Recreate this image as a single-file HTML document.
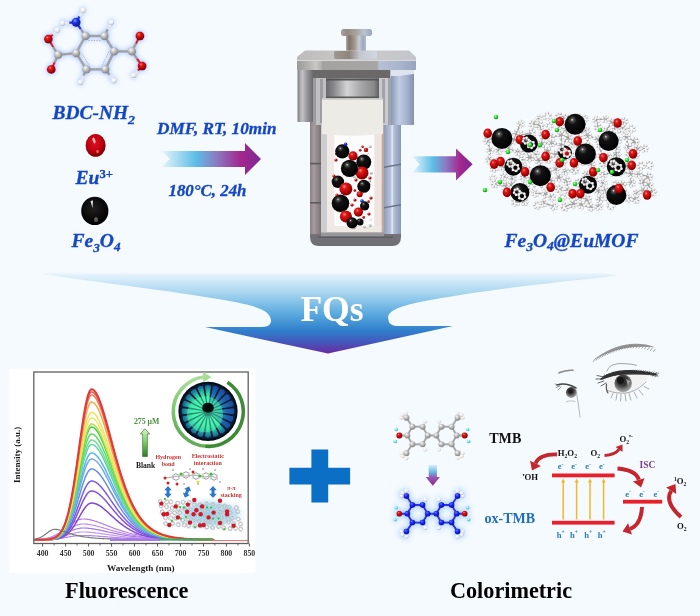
<!DOCTYPE html>
<html><head><meta charset="utf-8"><style>
html,body{margin:0;padding:0;background:#f5faff;}
body{width:700px;height:616px;overflow:hidden;font-family:"Liberation Serif",serif;}
svg{display:block;filter:blur(0.35px);}
</style></head><body>
<svg width="700" height="616" viewBox="0 0 700 616">
<defs>
<filter id="fGlow" x="-30%" y="-30%" width="160%" height="160%">
 <feGaussianBlur in="SourceAlpha" stdDeviation="2.6"/>
 <feColorMatrix type="matrix" values="0 0 0 0 0.52  0 0 0 0 0.66  0 0 0 0 0.98  0 0 0 1.9 0"/>
 <feMerge><feMergeNode/><feMergeNode in="SourceGraphic"/></feMerge>
</filter>
<filter id="fGlowB" x="-30%" y="-30%" width="160%" height="160%">
 <feGaussianBlur in="SourceAlpha" stdDeviation="3"/>
 <feColorMatrix type="matrix" values="0 0 0 0 0.5  0 0 0 0 0.7  0 0 0 0 0.98  0 0 0 2.2 0"/>
 <feMerge><feMergeNode/><feMergeNode in="SourceGraphic"/></feMerge>
</filter>
<radialGradient id="gRed" cx="0.38" cy="0.32" r="0.7">
 <stop offset="0" stop-color="#ff8a8a"/><stop offset="0.25" stop-color="#e01818"/><stop offset="0.8" stop-color="#a00000"/><stop offset="1" stop-color="#700000"/>
</radialGradient>
<radialGradient id="gRedB" cx="0.45" cy="0.4" r="0.6"><stop offset="0" stop-color="#e01020"/><stop offset="0.6" stop-color="#c00010"/><stop offset="1" stop-color="#780000"/></radialGradient>
<radialGradient id="gBlkB" cx="0.45" cy="0.4" r="0.6"><stop offset="0" stop-color="#202020"/><stop offset="0.7" stop-color="#080808"/><stop offset="1" stop-color="#000"/></radialGradient>
<radialGradient id="gBlk" cx="0.4" cy="0.36" r="0.7" fx="0.36" fy="0.28">
 <stop offset="0" stop-color="#e0e0e0"/><stop offset="0.1" stop-color="#505050"/><stop offset="0.3" stop-color="#111"/><stop offset="1" stop-color="#000"/>
</radialGradient>
<radialGradient id="gGray" cx="0.38" cy="0.32" r="0.7">
 <stop offset="0" stop-color="#fafafa"/><stop offset="0.5" stop-color="#b8b8b8"/><stop offset="1" stop-color="#808080"/>
</radialGradient>
<radialGradient id="gWhite" cx="0.38" cy="0.32" r="0.7">
 <stop offset="0" stop-color="#ffffff"/><stop offset="0.7" stop-color="#e8e8e8"/><stop offset="1" stop-color="#b0b0b0"/>
</radialGradient>
<radialGradient id="gN" cx="0.38" cy="0.32" r="0.7">
 <stop offset="0" stop-color="#8090ff"/><stop offset="0.4" stop-color="#1630e0"/><stop offset="1" stop-color="#0a1690"/>
</radialGradient>
<radialGradient id="gBlueAt" cx="0.38" cy="0.32" r="0.7">
 <stop offset="0" stop-color="#6070ff"/><stop offset="0.5" stop-color="#1020f0"/><stop offset="1" stop-color="#0810a0"/>
</radialGradient>
<radialGradient id="gGreen" cx="0.38" cy="0.32" r="0.7">
 <stop offset="0" stop-color="#a0ffa0"/><stop offset="0.6" stop-color="#20d020"/><stop offset="1" stop-color="#108010"/>
</radialGradient>
<radialGradient id="gCyan" cx="0.38" cy="0.32" r="0.7">
 <stop offset="0" stop-color="#e0ffff"/><stop offset="0.6" stop-color="#60d8e8"/><stop offset="1" stop-color="#30a0b8"/>
</radialGradient>
<linearGradient id="gArrow" x1="0" y1="0" x2="1" y2="0">
 <stop offset="0" stop-color="#eaf6fc"/><stop offset="0.35" stop-color="#5bbde6"/><stop offset="0.55" stop-color="#8a7cc4"/><stop offset="0.8" stop-color="#a4268e"/><stop offset="1" stop-color="#7a2a94"/>
</linearGradient>
<linearGradient id="gFQ" x1="0" y1="0" x2="0" y2="1">
 <stop offset="0" stop-color="#f5faff"/><stop offset="0.04" stop-color="#e2f1fa"/><stop offset="0.25" stop-color="#a9d6f0"/><stop offset="0.5" stop-color="#5eacdf"/><stop offset="0.72" stop-color="#2f7fcc"/><stop offset="0.86" stop-color="#4458bb"/><stop offset="1" stop-color="#6a2aa2"/>
</linearGradient>
<linearGradient id="gDown" x1="0" y1="0" x2="0" y2="1">
 <stop offset="0" stop-color="#d8eefa"/><stop offset="0.35" stop-color="#66b8e4"/><stop offset="0.6" stop-color="#9a56b0"/><stop offset="1" stop-color="#8a2a98"/>
</linearGradient>
<linearGradient id="gGreenArrow" x1="0" y1="0" x2="0" y2="1">
 <stop offset="0" stop-color="#d8f5c8"/><stop offset="0.5" stop-color="#7acc60"/><stop offset="1" stop-color="#2d7a2a"/>
</linearGradient>
<radialGradient id="gGlow" cx="0.5" cy="0.5" r="0.5">
 <stop offset="0" stop-color="#7cc8f0" stop-opacity="0.9"/><stop offset="0.6" stop-color="#a8dcf6" stop-opacity="0.6"/><stop offset="1" stop-color="#d8f0fc" stop-opacity="0"/>
</radialGradient>
<radialGradient id="gMolGlow" cx="0.5" cy="0.5" r="0.5">
 <stop offset="0" stop-color="#c8dcf8" stop-opacity="0.0"/><stop offset="0.7" stop-color="#c0d8f8" stop-opacity="0.5"/><stop offset="1" stop-color="#e0ecfc" stop-opacity="0"/>
</radialGradient>
<linearGradient id="gMetalV" x1="0" y1="0" x2="1" y2="0">
 <stop offset="0" stop-color="#6c6c70"/><stop offset="0.3" stop-color="#c9c9cc"/><stop offset="0.55" stop-color="#8d8e92"/><stop offset="1" stop-color="#5d5e62"/>
</linearGradient>
<linearGradient id="gBody" x1="0" y1="0" x2="1" y2="0">
 <stop offset="0" stop-color="#7a7b80"/><stop offset="0.12" stop-color="#9c9da2"/><stop offset="0.2" stop-color="#6f7075"/><stop offset="0.75" stop-color="#8e939c"/><stop offset="0.9" stop-color="#b4bfd0"/><stop offset="1" stop-color="#8a93a4"/>
</linearGradient>
<linearGradient id="gRight" x1="0" y1="0" x2="1" y2="0">
 <stop offset="0" stop-color="#8e9bb4"/><stop offset="0.4" stop-color="#b9c6de"/><stop offset="1" stop-color="#8d99b2"/>
</linearGradient>
<linearGradient id="gRing" x1="0" y1="0" x2="1" y2="0">
 <stop offset="0" stop-color="#6a6a6a"/><stop offset="0.2" stop-color="#9a9a9a"/><stop offset="0.45" stop-color="#d0d0d0"/><stop offset="0.7" stop-color="#a0a0a0"/><stop offset="1" stop-color="#6a6a6a"/>
</linearGradient>
<linearGradient id="gLid" x1="0" y1="0" x2="0" y2="1">
 <stop offset="0" stop-color="#c9c9c9"/><stop offset="1" stop-color="#9a9a9a"/>
</linearGradient>


<linearGradient id="gFlange" x1="0" y1="0" x2="1" y2="0"><stop offset="0" stop-color="#a09890"/><stop offset="0.35" stop-color="#8e847c"/><stop offset="0.6" stop-color="#c4c8d0"/><stop offset="1" stop-color="#d0d8e4"/></linearGradient>
<linearGradient id="gStem" x1="0" y1="0" x2="1" y2="0"><stop offset="0" stop-color="#b0aaa8"/><stop offset="0.15" stop-color="#7c726a"/><stop offset="0.45" stop-color="#a49a92"/><stop offset="0.65" stop-color="#c8ccd6"/><stop offset="0.85" stop-color="#9aa8c0"/><stop offset="1" stop-color="#b4bccc"/></linearGradient>
<linearGradient id="gCap" x1="0" y1="0" x2="1" y2="0"><stop offset="0" stop-color="#a8a4a2"/><stop offset="0.2" stop-color="#948a82"/><stop offset="0.5" stop-color="#aca49c"/><stop offset="0.75" stop-color="#b8c2d4"/><stop offset="1" stop-color="#98a6bc"/></linearGradient>
<linearGradient id="gLidTop" x1="0" y1="0" x2="1" y2="0"><stop offset="0" stop-color="#bebcba"/><stop offset="0.5" stop-color="#cccac8"/><stop offset="1" stop-color="#c4c6cc"/></linearGradient>
<linearGradient id="gLidFront" x1="0" y1="0" x2="1" y2="0"><stop offset="0" stop-color="#9c9a98"/><stop offset="0.1" stop-color="#b6b4b2"/><stop offset="0.16" stop-color="#cac8c6"/><stop offset="0.205" stop-color="#b2b0ae"/><stop offset="0.215" stop-color="#a4a2a0"/><stop offset="0.675" stop-color="#a8a6a4"/><stop offset="0.69" stop-color="#b6c0d6"/><stop offset="0.85" stop-color="#aab6ce"/><stop offset="1" stop-color="#98a4be"/></linearGradient>
<linearGradient id="gLB" x1="0" y1="0" x2="1" y2="0"><stop offset="0" stop-color="#7e7e82"/><stop offset="0.3" stop-color="#c4c4c8"/><stop offset="0.6" stop-color="#98989c"/><stop offset="1" stop-color="#6c6c70"/></linearGradient>
<linearGradient id="gRB" x1="0" y1="0" x2="1" y2="0"><stop offset="0" stop-color="#8a98b4"/><stop offset="0.35" stop-color="#c0cce2"/><stop offset="0.7" stop-color="#a4b2cc"/><stop offset="1" stop-color="#8290ac"/></linearGradient>
<linearGradient id="gLC" x1="0" y1="0" x2="1" y2="0"><stop offset="0" stop-color="#8a8083"/><stop offset="0.35" stop-color="#a69c9f"/><stop offset="1" stop-color="#7c7275"/></linearGradient>
<linearGradient id="gRC" x1="0" y1="0" x2="1" y2="0"><stop offset="0" stop-color="#8e9cb8"/><stop offset="0.4" stop-color="#b8c6de"/><stop offset="0.48" stop-color="#e6ecf6"/><stop offset="0.58" stop-color="#b0bed8"/><stop offset="1" stop-color="#8896b2"/></linearGradient>
<linearGradient id="gBot" x1="0" y1="0" x2="0" y2="1"><stop offset="0" stop-color="#9a9aa0"/><stop offset="1" stop-color="#6e6e74"/></linearGradient>
<linearGradient id="gRing2" x1="0" y1="0" x2="1" y2="0"><stop offset="0" stop-color="#6a6a6c"/><stop offset="0.15" stop-color="#8a8a8c"/><stop offset="0.4" stop-color="#d4d4d6"/><stop offset="0.65" stop-color="#a8a8aa"/><stop offset="0.9" stop-color="#8a8a8c"/><stop offset="1" stop-color="#606062"/></linearGradient>
</defs>
<rect width="700" height="616" fill="#f5faff"/>
<g filter="url(#fGlow)">
<line x1="76.1" y1="22.3" x2="79.5" y2="16.3" stroke="#2030e0" stroke-width="2.4"/>
<line x1="79.5" y1="16.3" x2="83.0" y2="10.3" stroke="#e8e8e8" stroke-width="2.4"/>
<line x1="76.1" y1="22.3" x2="69.2" y2="22.7" stroke="#2030e0" stroke-width="2.4"/>
<line x1="69.2" y1="22.7" x2="62.4" y2="23.1" stroke="#e8e8e8" stroke-width="2.4"/>
<line x1="76.1" y1="22.3" x2="80.8" y2="29.1" stroke="#2030e0" stroke-width="2.4"/>
<line x1="80.8" y1="29.1" x2="85.6" y2="36.0" stroke="#a0a0a0" stroke-width="2.4"/>
<line x1="85.6" y1="36.0" x2="95.0" y2="36.0" stroke="#a0a0a0" stroke-width="2.4"/>
<line x1="95.0" y1="36.0" x2="104.4" y2="36.0" stroke="#a0a0a0" stroke-width="2.4"/>
<line x1="104.4" y1="36.0" x2="109.3" y2="43.7" stroke="#a0a0a0" stroke-width="2.4"/>
<line x1="109.3" y1="43.7" x2="114.2" y2="51.4" stroke="#a0a0a0" stroke-width="2.4"/>
<line x1="114.2" y1="51.4" x2="109.8" y2="60.4" stroke="#a0a0a0" stroke-width="2.4"/>
<line x1="109.8" y1="60.4" x2="105.3" y2="69.4" stroke="#a0a0a0" stroke-width="2.4"/>
<line x1="105.3" y1="69.4" x2="95.8" y2="69.4" stroke="#a0a0a0" stroke-width="2.4"/>
<line x1="95.8" y1="69.4" x2="86.4" y2="69.4" stroke="#a0a0a0" stroke-width="2.4"/>
<line x1="86.4" y1="69.4" x2="81.2" y2="61.2" stroke="#a0a0a0" stroke-width="2.4"/>
<line x1="81.2" y1="61.2" x2="76.1" y2="53.1" stroke="#a0a0a0" stroke-width="2.4"/>
<line x1="76.1" y1="53.1" x2="80.8" y2="44.5" stroke="#a0a0a0" stroke-width="2.4"/>
<line x1="80.8" y1="44.5" x2="85.6" y2="36.0" stroke="#a0a0a0" stroke-width="2.4"/>
<line x1="104.4" y1="36.0" x2="107.8" y2="29.1" stroke="#a0a0a0" stroke-width="2.4"/>
<line x1="107.8" y1="29.1" x2="111.3" y2="22.3" stroke="#e8e8e8" stroke-width="2.4"/>
<line x1="105.3" y1="69.4" x2="109.6" y2="75.0" stroke="#a0a0a0" stroke-width="2.4"/>
<line x1="109.6" y1="75.0" x2="113.9" y2="80.6" stroke="#e8e8e8" stroke-width="2.4"/>
<line x1="86.4" y1="69.4" x2="83.4" y2="75.8" stroke="#a0a0a0" stroke-width="2.4"/>
<line x1="83.4" y1="75.8" x2="80.4" y2="82.3" stroke="#e8e8e8" stroke-width="2.4"/>
<line x1="76.1" y1="53.1" x2="67.1" y2="54.0" stroke="#a0a0a0" stroke-width="2.4"/>
<line x1="67.1" y1="54.0" x2="58.1" y2="54.9" stroke="#a0a0a0" stroke-width="2.4"/>
<line x1="58.1" y1="54.9" x2="53.2" y2="47.0" stroke="#a0a0a0" stroke-width="2.4"/>
<line x1="53.2" y1="47.0" x2="48.4" y2="39.1" stroke="#d82020" stroke-width="2.4"/>
<line x1="48.4" y1="39.1" x2="52.8" y2="34.5" stroke="#d82020" stroke-width="2.4"/>
<line x1="52.8" y1="34.5" x2="57.3" y2="30.0" stroke="#e8e8e8" stroke-width="2.4"/>
<line x1="58.1" y1="54.9" x2="54.7" y2="62.2" stroke="#a0a0a0" stroke-width="2.4"/>
<line x1="54.7" y1="62.2" x2="51.3" y2="69.4" stroke="#d82020" stroke-width="2.4"/>
<line x1="114.2" y1="51.4" x2="123.1" y2="51.4" stroke="#a0a0a0" stroke-width="2.4"/>
<line x1="123.1" y1="51.4" x2="131.9" y2="51.4" stroke="#a0a0a0" stroke-width="2.4"/>
<line x1="131.9" y1="51.4" x2="135.9" y2="43.7" stroke="#a0a0a0" stroke-width="2.4"/>
<line x1="135.9" y1="43.7" x2="139.9" y2="36.0" stroke="#d82020" stroke-width="2.4"/>
<line x1="131.9" y1="51.4" x2="137.0" y2="58.7" stroke="#a0a0a0" stroke-width="2.4"/>
<line x1="137.0" y1="58.7" x2="142.1" y2="66.0" stroke="#d82020" stroke-width="2.4"/>
<line x1="142.1" y1="66.0" x2="137.8" y2="70.7" stroke="#d82020" stroke-width="2.4"/>
<line x1="137.8" y1="70.7" x2="133.6" y2="75.4" stroke="#e8e8e8" stroke-width="2.4"/>
<line x1="88.3" y1="40.6" x2="101.9" y2="40.6" stroke="#b4b4b4" stroke-width="1" stroke-dasharray="1.5,1.2"/>
<line x1="108.9" y1="51.7" x2="102.5" y2="64.7" stroke="#b4b4b4" stroke-width="1" stroke-dasharray="1.5,1.2"/>
<line x1="88.9" y1="64.7" x2="81.5" y2="52.9" stroke="#b4b4b4" stroke-width="1" stroke-dasharray="1.5,1.2"/>
<circle cx="76.1" cy="22.3" r="4.6" fill="url(#gN)"/>
<circle cx="83.0" cy="10.3" r="2.6" fill="url(#gWhite)"/>
<circle cx="62.4" cy="23.1" r="2.6" fill="url(#gWhite)"/>
<circle cx="85.6" cy="36.0" r="4.2" fill="url(#gGray)"/>
<circle cx="104.4" cy="36.0" r="4.2" fill="url(#gGray)"/>
<circle cx="114.2" cy="51.4" r="4.2" fill="url(#gGray)"/>
<circle cx="105.3" cy="69.4" r="4.2" fill="url(#gGray)"/>
<circle cx="86.4" cy="69.4" r="4.2" fill="url(#gGray)"/>
<circle cx="76.1" cy="53.1" r="4.2" fill="url(#gGray)"/>
<circle cx="111.3" cy="22.3" r="2.6" fill="url(#gWhite)"/>
<circle cx="113.9" cy="80.6" r="2.6" fill="url(#gWhite)"/>
<circle cx="80.4" cy="82.3" r="2.6" fill="url(#gWhite)"/>
<circle cx="58.1" cy="54.9" r="4.2" fill="url(#gGray)"/>
<circle cx="48.4" cy="39.1" r="4.5" fill="url(#gRed)"/>
<circle cx="57.3" cy="30.0" r="2.6" fill="url(#gWhite)"/>
<circle cx="51.3" cy="69.4" r="4.5" fill="url(#gRed)"/>
<circle cx="131.9" cy="51.4" r="4.2" fill="url(#gGray)"/>
<circle cx="139.9" cy="36.0" r="4.5" fill="url(#gRed)"/>
<circle cx="142.1" cy="66.0" r="4.5" fill="url(#gRed)"/>
<circle cx="133.6" cy="75.4" r="2.6" fill="url(#gWhite)"/>
</g>
<ellipse cx="95.6" cy="145.4" rx="10" ry="11.4" fill="url(#gRedB)"/>
<ellipse cx="94" cy="140.5" rx="1.3" ry="3" fill="#ffd0d0" opacity="0.9" transform="rotate(-20 94 140.5)"/>
<ellipse cx="97.5" cy="151.5" rx="1.4" ry="1.8" fill="#ff8080" opacity="0.7"/>
<ellipse cx="94.8" cy="210.9" rx="13.6" ry="14.2" fill="url(#gBlkB)"/>
<path d="M90.5,201 L93,200.5 L92.5,208 Z" fill="#f4f4f4" opacity="0.95"/>
<ellipse cx="96" cy="219.5" rx="2" ry="2.6" fill="#707070" opacity="0.8"/>
<path d="M161,151 L245,151 L245,143 L261,159.0 L245,175 L245,167 L161,167 L170,159.0 Z" fill="url(#gArrow)"/>
<path d="M412,156.3 L456,156.3 L456,148.6 L472.6,164.35000000000002 L456,180.4 L456,172.4 L412,172.4 L419.5,164.35000000000002 Z" fill="url(#gArrow)"/>
<path d="M310,122 L401,122 L401,237 Q401,246 392,246 L319,246 Q310,246 310,237 Z" fill="url(#gBot)"/>
<rect x="310" y="122" width="11" height="112" fill="url(#gLC)"/>
<rect x="321" y="122" width="6" height="112" fill="#cdcdcf"/>
<rect x="384" y="122" width="17" height="112" fill="url(#gRC)"/>
<rect x="381.5" y="122" width="2.5" height="112" fill="#c2a69f"/>
<rect x="310" y="162.8" width="11" height="1.6" fill="#5c5a5e"/>
<rect x="310" y="202" width="11" height="1.6" fill="#5c5a5e"/>
<path d="M384,166.5 L401,163.5 L401,165.1 L384,168.1 Z" fill="#6a7488"/>
<path d="M384,207 L401,204 L401,205.6 L384,208.6 Z" fill="#6a7488"/>
<rect x="327" y="130" width="54.5" height="102.5" fill="#efeae6"/>
<rect x="374.3" y="130" width="7.2" height="98" fill="#ede4df"/>
<rect x="334.3" y="130" width="40" height="96" fill="#fcfcfc"/>
<path d="M327,226 L381.5,226 L381.5,232.5 L327,232.5 Z" fill="#efe9e4"/>
<rect x="321" y="232.5" width="63" height="4" fill="#98989c"/>
<rect x="318" y="236.5" width="75" height="1.5" fill="#5e5e62"/>
<rect x="341" y="29" width="31" height="7" rx="2.5" fill="url(#gCap)"/>
<rect x="346" y="35.5" width="20" height="16.5" fill="url(#gStem)"/>
<rect x="334" y="51" width="43" height="8" rx="2" fill="#cacacd"/>
<path d="M305,50.5 L409,50.5 L416,57 L416,60 L297,60 L297,57 Z" fill="url(#gLidTop)"/>
<rect x="334" y="51" width="43" height="8" rx="2" fill="url(#gFlange)"/>
<rect x="297" y="60" width="119" height="10" fill="url(#gLidFront)"/>
<rect x="297" y="60" width="119" height="1" fill="#d8d8da"/>
<rect x="312.4" y="70" width="78" height="8.5" fill="#6a6868"/>
<rect x="297.5" y="70" width="15.5" height="52" fill="url(#gLB)"/>
<rect x="391" y="70" width="23" height="55" fill="url(#gRB)"/>
<path d="M391,70 L414,70 L414,74 L398,76 L391,76 Z" fill="#dde4f0"/>
<rect x="313" y="78" width="13" height="47" fill="#c0c0c4"/>
<rect x="313" y="78" width="3" height="47" fill="#9c9ca0"/>
<rect x="379" y="78" width="12" height="47" fill="#c8cad0"/>
<rect x="388" y="78" width="3" height="47" fill="#a0a4ac"/>
<line x1="320" y1="80" x2="323" y2="80" stroke="#606060" stroke-width="0.7"/>
<line x1="382" y1="80" x2="385" y2="80" stroke="#606060" stroke-width="0.7"/>
<line x1="320" y1="82" x2="323" y2="82" stroke="#606060" stroke-width="0.7"/>
<line x1="382" y1="82" x2="385" y2="82" stroke="#606060" stroke-width="0.7"/>
<line x1="320" y1="84" x2="323" y2="84" stroke="#606060" stroke-width="0.7"/>
<line x1="382" y1="84" x2="385" y2="84" stroke="#606060" stroke-width="0.7"/>
<line x1="320" y1="86" x2="323" y2="86" stroke="#606060" stroke-width="0.7"/>
<line x1="382" y1="86" x2="385" y2="86" stroke="#606060" stroke-width="0.7"/>
<line x1="320" y1="88" x2="323" y2="88" stroke="#606060" stroke-width="0.7"/>
<line x1="382" y1="88" x2="385" y2="88" stroke="#606060" stroke-width="0.7"/>
<line x1="320" y1="90" x2="323" y2="90" stroke="#606060" stroke-width="0.7"/>
<line x1="382" y1="90" x2="385" y2="90" stroke="#606060" stroke-width="0.7"/>
<line x1="320" y1="92" x2="323" y2="92" stroke="#606060" stroke-width="0.7"/>
<line x1="382" y1="92" x2="385" y2="92" stroke="#606060" stroke-width="0.7"/>
<line x1="320" y1="94" x2="323" y2="94" stroke="#606060" stroke-width="0.7"/>
<line x1="382" y1="94" x2="385" y2="94" stroke="#606060" stroke-width="0.7"/>
<line x1="320" y1="96" x2="323" y2="96" stroke="#606060" stroke-width="0.7"/>
<line x1="382" y1="96" x2="385" y2="96" stroke="#606060" stroke-width="0.7"/>
<line x1="320" y1="98" x2="323" y2="98" stroke="#606060" stroke-width="0.7"/>
<line x1="382" y1="98" x2="385" y2="98" stroke="#606060" stroke-width="0.7"/>
<line x1="320" y1="100" x2="323" y2="100" stroke="#606060" stroke-width="0.7"/>
<line x1="382" y1="100" x2="385" y2="100" stroke="#606060" stroke-width="0.7"/>
<line x1="320" y1="102" x2="323" y2="102" stroke="#606060" stroke-width="0.7"/>
<line x1="382" y1="102" x2="385" y2="102" stroke="#606060" stroke-width="0.7"/>
<line x1="320" y1="104" x2="323" y2="104" stroke="#606060" stroke-width="0.7"/>
<line x1="382" y1="104" x2="385" y2="104" stroke="#606060" stroke-width="0.7"/>
<line x1="320" y1="106" x2="323" y2="106" stroke="#606060" stroke-width="0.7"/>
<line x1="382" y1="106" x2="385" y2="106" stroke="#606060" stroke-width="0.7"/>
<line x1="320" y1="108" x2="323" y2="108" stroke="#606060" stroke-width="0.7"/>
<line x1="382" y1="108" x2="385" y2="108" stroke="#606060" stroke-width="0.7"/>
<line x1="320" y1="110" x2="323" y2="110" stroke="#606060" stroke-width="0.7"/>
<line x1="382" y1="110" x2="385" y2="110" stroke="#606060" stroke-width="0.7"/>
<line x1="320" y1="112" x2="323" y2="112" stroke="#606060" stroke-width="0.7"/>
<line x1="382" y1="112" x2="385" y2="112" stroke="#606060" stroke-width="0.7"/>
<line x1="320" y1="114" x2="323" y2="114" stroke="#606060" stroke-width="0.7"/>
<line x1="382" y1="114" x2="385" y2="114" stroke="#606060" stroke-width="0.7"/>
<line x1="320" y1="116" x2="323" y2="116" stroke="#606060" stroke-width="0.7"/>
<line x1="382" y1="116" x2="385" y2="116" stroke="#606060" stroke-width="0.7"/>
<line x1="320" y1="118" x2="323" y2="118" stroke="#606060" stroke-width="0.7"/>
<line x1="382" y1="118" x2="385" y2="118" stroke="#606060" stroke-width="0.7"/>
<line x1="320" y1="120" x2="323" y2="120" stroke="#606060" stroke-width="0.7"/>
<line x1="382" y1="120" x2="385" y2="120" stroke="#606060" stroke-width="0.7"/>
<line x1="320" y1="122" x2="323" y2="122" stroke="#606060" stroke-width="0.7"/>
<line x1="382" y1="122" x2="385" y2="122" stroke="#606060" stroke-width="0.7"/>
<rect x="326" y="78.5" width="53" height="20" fill="url(#gRing2)"/>
<rect x="326" y="78.5" width="53" height="2" fill="#555"/>
<rect x="326" y="96.5" width="53" height="2" fill="#5a5a5a"/>
<path d="M322,98.5 L383,98.5 L383,134 Q352.5,137.5 322,134 Z" fill="#ecebe6"/>
<rect x="322" y="98.5" width="61" height="1.2" fill="#c8c8c4"/>
<circle cx="344.6" cy="190.2" r="1.3" fill="url(#gGray)"/>
<circle cx="369.0" cy="184.3" r="1.3" fill="url(#gRed)"/>
<circle cx="357.8" cy="220.4" r="1.3" fill="url(#gWhite)"/>
<circle cx="345.3" cy="164.4" r="1.3" fill="url(#gWhite)"/>
<circle cx="355.5" cy="190.6" r="1.3" fill="url(#gWhite)"/>
<circle cx="359.0" cy="157.5" r="1.3" fill="url(#gWhite)"/>
<circle cx="367.2" cy="188.4" r="1.3" fill="url(#gRed)"/>
<circle cx="360.2" cy="150.3" r="1.3" fill="url(#gRed)"/>
<circle cx="346.8" cy="147.6" r="1.3" fill="url(#gGray)"/>
<circle cx="353.0" cy="204.7" r="1.3" fill="url(#gWhite)"/>
<circle cx="361.7" cy="221.5" r="1.3" fill="url(#gWhite)"/>
<circle cx="362.2" cy="192.9" r="1.3" fill="url(#gWhite)"/>
<circle cx="367.6" cy="153.1" r="1.3" fill="url(#gWhite)"/>
<circle cx="353.8" cy="166.4" r="1.3" fill="url(#gWhite)"/>
<circle cx="364.0" cy="216.0" r="1.3" fill="url(#gWhite)"/>
<circle cx="354.3" cy="177.0" r="1.3" fill="url(#gGray)"/>
<circle cx="355.2" cy="178.8" r="1.3" fill="url(#gWhite)"/>
<circle cx="368.6" cy="201.6" r="1.3" fill="url(#gRed)"/>
<circle cx="366.8" cy="227.3" r="1.3" fill="url(#gWhite)"/>
<circle cx="361.2" cy="172.1" r="1.3" fill="url(#gRed)"/>
<circle cx="361.7" cy="162.5" r="1.3" fill="url(#gGray)"/>
<circle cx="346.3" cy="150.3" r="1.3" fill="url(#gWhite)"/>
<circle cx="339.2" cy="211.4" r="1.3" fill="url(#gWhite)"/>
<circle cx="368.3" cy="146.7" r="1.3" fill="url(#gWhite)"/>
<circle cx="363.7" cy="217.4" r="1.3" fill="url(#gRed)"/>
<circle cx="357.8" cy="208.2" r="1.3" fill="url(#gWhite)"/>
<circle cx="361.9" cy="172.5" r="1.3" fill="url(#gGray)"/>
<circle cx="354.2" cy="227.9" r="1.3" fill="url(#gGray)"/>
<circle cx="336.3" cy="154.0" r="1.3" fill="url(#gRed)"/>
<circle cx="370.2" cy="225.6" r="1.3" fill="url(#gGray)"/>
<circle cx="358.0" cy="158.0" r="1.3" fill="url(#gRed)"/>
<circle cx="371.3" cy="173.2" r="1.3" fill="url(#gGray)"/>
<circle cx="370.5" cy="219.4" r="1.3" fill="url(#gWhite)"/>
<circle cx="349.6" cy="217.2" r="1.3" fill="url(#gWhite)"/>
<circle cx="359.2" cy="194.4" r="1.3" fill="url(#gRed)"/>
<circle cx="358.3" cy="223.1" r="1.3" fill="url(#gGray)"/>
<circle cx="351.5" cy="204.8" r="1.3" fill="url(#gWhite)"/>
<circle cx="369.7" cy="181.3" r="1.3" fill="url(#gGray)"/>
<circle cx="354.8" cy="190.5" r="1.3" fill="url(#gRed)"/>
<circle cx="364.4" cy="227.0" r="1.3" fill="url(#gGray)"/>
<circle cx="336.7" cy="196.1" r="1.3" fill="url(#gWhite)"/>
<circle cx="338.2" cy="197.1" r="1.3" fill="url(#gWhite)"/>
<circle cx="348.7" cy="221.1" r="1.3" fill="url(#gGray)"/>
<circle cx="362.6" cy="146.8" r="1.3" fill="url(#gRed)"/>
<circle cx="370.4" cy="146.8" r="1.3" fill="url(#gGray)"/>
<circle cx="342.3" cy="151.4" r="7.1" fill="url(#gBlk)"/>
<circle cx="353.0" cy="155.9" r="4.6" fill="url(#gRed)"/>
<circle cx="363.8" cy="162.1" r="7.5" fill="url(#gBlk)"/>
<circle cx="366.0" cy="149.9" r="2.2" fill="url(#gRed)"/>
<circle cx="362.0" cy="172.9" r="6.5" fill="url(#gRed)"/>
<circle cx="349.5" cy="168.4" r="8.6" fill="url(#gBlk)"/>
<circle cx="337.9" cy="181.8" r="6.2" fill="url(#gBlk)"/>
<circle cx="363.8" cy="186.3" r="6.5" fill="url(#gBlk)"/>
<circle cx="345.9" cy="188.9" r="6.5" fill="url(#gRed)"/>
<circle cx="359.7" cy="194.2" r="3.0" fill="url(#gRed)"/>
<circle cx="340.5" cy="203.2" r="8.8" fill="url(#gBlk)"/>
<circle cx="364.6" cy="205.9" r="4.6" fill="url(#gBlk)"/>
<circle cx="358.4" cy="212.1" r="4.6" fill="url(#gRed)"/>
<circle cx="345.9" cy="216.6" r="6.0" fill="url(#gRed)"/>
<circle cx="352.1" cy="222.9" r="5.6" fill="url(#gBlk)"/>
<circle cx="360.0" cy="222.0" r="3.5" fill="url(#gBlk)"/>
<circle cx="336.0" cy="160.0" r="1.6" fill="url(#gRed)"/>
<circle cx="334.0" cy="176.0" r="1.6" fill="url(#gRed)"/>
<circle cx="337.0" cy="195.0" r="1.6" fill="url(#gRed)"/>
<circle cx="370.0" cy="178.0" r="1.6" fill="url(#gRed)"/>
<circle cx="371.0" cy="198.0" r="1.6" fill="url(#gRed)"/>
<circle cx="369.0" cy="214.0" r="1.6" fill="url(#gRed)"/>
<circle cx="355.0" cy="200.0" r="1.6" fill="url(#gRed)"/>
<circle cx="352.0" cy="205.0" r="1.6" fill="url(#gRed)"/>
<circle cx="356.0" cy="180.0" r="1.6" fill="url(#gRed)"/>
<circle cx="345.6" cy="144.4" r="1.8" fill="url(#gN)"/>
<circle cx="362.0" cy="201.0" r="1.8" fill="url(#gN)"/>
<line x1="539.5" y1="118.2" x2="533.0" y2="124.2" stroke="#a0a0a0" stroke-width="1.6"/>
<line x1="559.1" y1="116.7" x2="565.2" y2="118.2" stroke="#a0a0a0" stroke-width="1.6"/>
<line x1="577.0" y1="117.0" x2="584.3" y2="118.7" stroke="#a0a0a0" stroke-width="1.6"/>
<line x1="596.1" y1="119.7" x2="605.4" y2="118.8" stroke="#a0a0a0" stroke-width="1.6"/>
<line x1="596.1" y1="119.7" x2="598.0" y2="127.4" stroke="#a0a0a0" stroke-width="1.6"/>
<line x1="605.4" y1="118.8" x2="612.0" y2="121.8" stroke="#a0a0a0" stroke-width="1.6"/>
<line x1="612.0" y1="121.8" x2="606.3" y2="131.0" stroke="#a0a0a0" stroke-width="1.6"/>
<line x1="612.0" y1="121.8" x2="615.1" y2="129.9" stroke="#a0a0a0" stroke-width="1.6"/>
<line x1="623.9" y1="121.3" x2="622.4" y2="129.5" stroke="#a0a0a0" stroke-width="1.6"/>
<line x1="520.4" y1="123.8" x2="516.6" y2="133.5" stroke="#a0a0a0" stroke-width="1.6"/>
<line x1="533.0" y1="124.2" x2="539.9" y2="125.4" stroke="#a0a0a0" stroke-width="1.6"/>
<line x1="539.9" y1="125.4" x2="543.0" y2="134.7" stroke="#a0a0a0" stroke-width="1.6"/>
<line x1="565.8" y1="129.5" x2="561.2" y2="134.8" stroke="#a0a0a0" stroke-width="1.6"/>
<line x1="565.8" y1="129.5" x2="568.6" y2="137.9" stroke="#a0a0a0" stroke-width="1.6"/>
<line x1="579.4" y1="130.2" x2="586.4" y2="130.6" stroke="#a0a0a0" stroke-width="1.6"/>
<line x1="579.4" y1="130.2" x2="578.9" y2="138.0" stroke="#a0a0a0" stroke-width="1.6"/>
<line x1="579.4" y1="130.2" x2="587.5" y2="135.6" stroke="#a0a0a0" stroke-width="1.6"/>
<line x1="586.4" y1="130.6" x2="587.5" y2="135.6" stroke="#a0a0a0" stroke-width="1.6"/>
<line x1="606.3" y1="131.0" x2="605.0" y2="139.6" stroke="#a0a0a0" stroke-width="1.6"/>
<line x1="498.2" y1="133.1" x2="507.5" y2="134.6" stroke="#a0a0a0" stroke-width="1.6"/>
<line x1="507.5" y1="134.6" x2="513.9" y2="140.0" stroke="#a0a0a0" stroke-width="1.6"/>
<line x1="516.6" y1="133.5" x2="508.3" y2="138.9" stroke="#a0a0a0" stroke-width="1.6"/>
<line x1="516.6" y1="133.5" x2="513.9" y2="140.0" stroke="#a0a0a0" stroke-width="1.6"/>
<line x1="516.6" y1="133.5" x2="523.4" y2="140.2" stroke="#a0a0a0" stroke-width="1.6"/>
<line x1="521.4" y1="134.8" x2="531.4" y2="133.1" stroke="#a0a0a0" stroke-width="1.6"/>
<line x1="521.4" y1="134.8" x2="513.9" y2="140.0" stroke="#a0a0a0" stroke-width="1.6"/>
<line x1="521.4" y1="134.8" x2="523.4" y2="140.2" stroke="#a0a0a0" stroke-width="1.6"/>
<line x1="531.4" y1="133.1" x2="523.4" y2="140.2" stroke="#a0a0a0" stroke-width="1.6"/>
<line x1="543.0" y1="134.7" x2="541.6" y2="143.4" stroke="#a0a0a0" stroke-width="1.6"/>
<line x1="551.0" y1="137.3" x2="561.2" y2="134.8" stroke="#a0a0a0" stroke-width="1.6"/>
<line x1="561.2" y1="134.8" x2="568.6" y2="137.9" stroke="#a0a0a0" stroke-width="1.6"/>
<line x1="561.2" y1="134.8" x2="561.4" y2="145.1" stroke="#a0a0a0" stroke-width="1.6"/>
<line x1="568.6" y1="137.9" x2="561.4" y2="145.1" stroke="#a0a0a0" stroke-width="1.6"/>
<line x1="568.6" y1="137.9" x2="571.7" y2="144.2" stroke="#a0a0a0" stroke-width="1.6"/>
<line x1="578.9" y1="138.0" x2="579.0" y2="144.5" stroke="#a0a0a0" stroke-width="1.6"/>
<line x1="587.5" y1="135.6" x2="597.6" y2="139.2" stroke="#a0a0a0" stroke-width="1.6"/>
<line x1="587.5" y1="135.6" x2="587.8" y2="146.2" stroke="#a0a0a0" stroke-width="1.6"/>
<line x1="597.6" y1="139.2" x2="605.0" y2="139.6" stroke="#a0a0a0" stroke-width="1.6"/>
<line x1="597.6" y1="139.2" x2="600.0" y2="145.8" stroke="#a0a0a0" stroke-width="1.6"/>
<line x1="597.6" y1="139.2" x2="606.0" y2="145.3" stroke="#a0a0a0" stroke-width="1.6"/>
<line x1="605.0" y1="139.6" x2="600.0" y2="145.8" stroke="#a0a0a0" stroke-width="1.6"/>
<line x1="617.9" y1="140.1" x2="626.6" y2="136.6" stroke="#a0a0a0" stroke-width="1.6"/>
<line x1="617.9" y1="140.1" x2="616.7" y2="147.9" stroke="#a0a0a0" stroke-width="1.6"/>
<line x1="626.6" y1="136.6" x2="634.8" y2="141.4" stroke="#a0a0a0" stroke-width="1.6"/>
<line x1="626.6" y1="136.6" x2="627.9" y2="147.3" stroke="#a0a0a0" stroke-width="1.6"/>
<line x1="634.8" y1="141.4" x2="627.9" y2="147.3" stroke="#a0a0a0" stroke-width="1.6"/>
<line x1="634.8" y1="141.4" x2="637.2" y2="149.0" stroke="#a0a0a0" stroke-width="1.6"/>
<line x1="487.3" y1="140.5" x2="497.3" y2="140.8" stroke="#a0a0a0" stroke-width="1.6"/>
<line x1="487.3" y1="140.5" x2="490.0" y2="150.2" stroke="#a0a0a0" stroke-width="1.6"/>
<line x1="497.3" y1="140.8" x2="498.8" y2="150.7" stroke="#a0a0a0" stroke-width="1.6"/>
<line x1="508.3" y1="138.9" x2="513.9" y2="140.0" stroke="#a0a0a0" stroke-width="1.6"/>
<line x1="508.3" y1="138.9" x2="508.2" y2="148.9" stroke="#a0a0a0" stroke-width="1.6"/>
<line x1="513.9" y1="140.0" x2="523.4" y2="140.2" stroke="#a0a0a0" stroke-width="1.6"/>
<line x1="513.9" y1="140.0" x2="508.2" y2="148.9" stroke="#a0a0a0" stroke-width="1.6"/>
<line x1="523.4" y1="140.2" x2="524.7" y2="150.8" stroke="#a0a0a0" stroke-width="1.6"/>
<line x1="536.9" y1="144.7" x2="541.6" y2="143.4" stroke="#a0a0a0" stroke-width="1.6"/>
<line x1="541.6" y1="143.4" x2="552.0" y2="143.0" stroke="#a0a0a0" stroke-width="1.6"/>
<line x1="541.6" y1="143.4" x2="547.4" y2="151.6" stroke="#a0a0a0" stroke-width="1.6"/>
<line x1="552.0" y1="143.0" x2="561.4" y2="145.1" stroke="#a0a0a0" stroke-width="1.6"/>
<line x1="552.0" y1="143.0" x2="547.4" y2="151.6" stroke="#a0a0a0" stroke-width="1.6"/>
<line x1="561.4" y1="145.1" x2="556.4" y2="154.2" stroke="#a0a0a0" stroke-width="1.6"/>
<line x1="561.4" y1="145.1" x2="562.4" y2="153.0" stroke="#a0a0a0" stroke-width="1.6"/>
<line x1="571.7" y1="144.2" x2="579.0" y2="144.5" stroke="#a0a0a0" stroke-width="1.6"/>
<line x1="579.0" y1="144.5" x2="587.8" y2="146.2" stroke="#a0a0a0" stroke-width="1.6"/>
<line x1="600.0" y1="145.8" x2="606.0" y2="145.3" stroke="#a0a0a0" stroke-width="1.6"/>
<line x1="600.0" y1="145.8" x2="601.6" y2="155.5" stroke="#a0a0a0" stroke-width="1.6"/>
<line x1="616.7" y1="147.9" x2="616.3" y2="154.4" stroke="#a0a0a0" stroke-width="1.6"/>
<line x1="627.9" y1="147.3" x2="629.4" y2="154.4" stroke="#a0a0a0" stroke-width="1.6"/>
<line x1="637.2" y1="149.0" x2="644.6" y2="148.3" stroke="#a0a0a0" stroke-width="1.6"/>
<line x1="637.2" y1="149.0" x2="635.2" y2="155.2" stroke="#a0a0a0" stroke-width="1.6"/>
<line x1="490.0" y1="150.2" x2="498.8" y2="150.7" stroke="#a0a0a0" stroke-width="1.6"/>
<line x1="490.0" y1="150.2" x2="489.1" y2="159.7" stroke="#a0a0a0" stroke-width="1.6"/>
<line x1="508.2" y1="148.9" x2="517.8" y2="151.7" stroke="#a0a0a0" stroke-width="1.6"/>
<line x1="517.8" y1="151.7" x2="524.7" y2="150.8" stroke="#a0a0a0" stroke-width="1.6"/>
<line x1="524.7" y1="150.8" x2="529.8" y2="157.7" stroke="#a0a0a0" stroke-width="1.6"/>
<line x1="535.6" y1="153.6" x2="529.8" y2="157.7" stroke="#a0a0a0" stroke-width="1.6"/>
<line x1="535.6" y1="153.6" x2="538.8" y2="160.6" stroke="#a0a0a0" stroke-width="1.6"/>
<line x1="547.4" y1="151.6" x2="556.4" y2="154.2" stroke="#a0a0a0" stroke-width="1.6"/>
<line x1="547.4" y1="151.6" x2="547.8" y2="159.0" stroke="#a0a0a0" stroke-width="1.6"/>
<line x1="556.4" y1="154.2" x2="562.4" y2="153.0" stroke="#a0a0a0" stroke-width="1.6"/>
<line x1="556.4" y1="154.2" x2="547.8" y2="159.0" stroke="#a0a0a0" stroke-width="1.6"/>
<line x1="562.4" y1="153.0" x2="570.9" y2="155.3" stroke="#a0a0a0" stroke-width="1.6"/>
<line x1="570.9" y1="155.3" x2="562.9" y2="161.1" stroke="#a0a0a0" stroke-width="1.6"/>
<line x1="592.7" y1="155.5" x2="601.6" y2="155.5" stroke="#a0a0a0" stroke-width="1.6"/>
<line x1="592.7" y1="155.5" x2="591.4" y2="164.1" stroke="#a0a0a0" stroke-width="1.6"/>
<line x1="607.6" y1="156.1" x2="616.3" y2="154.4" stroke="#a0a0a0" stroke-width="1.6"/>
<line x1="607.6" y1="156.1" x2="603.2" y2="163.5" stroke="#a0a0a0" stroke-width="1.6"/>
<line x1="616.3" y1="154.4" x2="619.6" y2="164.6" stroke="#a0a0a0" stroke-width="1.6"/>
<line x1="629.4" y1="154.4" x2="635.2" y2="155.2" stroke="#a0a0a0" stroke-width="1.6"/>
<line x1="489.1" y1="159.7" x2="498.8" y2="160.2" stroke="#a0a0a0" stroke-width="1.6"/>
<line x1="498.8" y1="160.2" x2="503.1" y2="167.4" stroke="#a0a0a0" stroke-width="1.6"/>
<line x1="521.4" y1="159.9" x2="529.8" y2="157.7" stroke="#a0a0a0" stroke-width="1.6"/>
<line x1="529.8" y1="157.7" x2="538.8" y2="160.6" stroke="#a0a0a0" stroke-width="1.6"/>
<line x1="538.8" y1="160.6" x2="547.8" y2="159.0" stroke="#a0a0a0" stroke-width="1.6"/>
<line x1="538.8" y1="160.6" x2="541.1" y2="169.4" stroke="#a0a0a0" stroke-width="1.6"/>
<line x1="557.1" y1="163.7" x2="562.9" y2="161.1" stroke="#a0a0a0" stroke-width="1.6"/>
<line x1="557.1" y1="163.7" x2="555.8" y2="169.1" stroke="#a0a0a0" stroke-width="1.6"/>
<line x1="562.9" y1="161.1" x2="555.8" y2="169.1" stroke="#a0a0a0" stroke-width="1.6"/>
<line x1="582.2" y1="161.4" x2="591.4" y2="164.1" stroke="#a0a0a0" stroke-width="1.6"/>
<line x1="591.4" y1="164.1" x2="593.2" y2="173.3" stroke="#a0a0a0" stroke-width="1.6"/>
<line x1="603.2" y1="163.5" x2="610.4" y2="164.0" stroke="#a0a0a0" stroke-width="1.6"/>
<line x1="610.4" y1="164.0" x2="613.0" y2="172.1" stroke="#a0a0a0" stroke-width="1.6"/>
<line x1="619.6" y1="164.6" x2="627.4" y2="165.5" stroke="#a0a0a0" stroke-width="1.6"/>
<line x1="627.4" y1="165.5" x2="620.4" y2="171.4" stroke="#a0a0a0" stroke-width="1.6"/>
<line x1="627.4" y1="165.5" x2="630.9" y2="173.7" stroke="#a0a0a0" stroke-width="1.6"/>
<line x1="503.1" y1="167.4" x2="511.3" y2="168.5" stroke="#a0a0a0" stroke-width="1.6"/>
<line x1="522.6" y1="166.5" x2="527.8" y2="170.0" stroke="#a0a0a0" stroke-width="1.6"/>
<line x1="522.6" y1="166.5" x2="523.7" y2="177.4" stroke="#a0a0a0" stroke-width="1.6"/>
<line x1="527.8" y1="170.0" x2="523.7" y2="177.4" stroke="#a0a0a0" stroke-width="1.6"/>
<line x1="527.8" y1="170.0" x2="531.2" y2="178.7" stroke="#a0a0a0" stroke-width="1.6"/>
<line x1="541.1" y1="169.4" x2="542.3" y2="177.6" stroke="#a0a0a0" stroke-width="1.6"/>
<line x1="547.9" y1="170.9" x2="555.8" y2="169.1" stroke="#a0a0a0" stroke-width="1.6"/>
<line x1="547.9" y1="170.9" x2="542.3" y2="177.6" stroke="#a0a0a0" stroke-width="1.6"/>
<line x1="547.9" y1="170.9" x2="550.9" y2="180.9" stroke="#a0a0a0" stroke-width="1.6"/>
<line x1="555.8" y1="169.1" x2="558.7" y2="177.7" stroke="#a0a0a0" stroke-width="1.6"/>
<line x1="565.1" y1="171.2" x2="574.9" y2="170.0" stroke="#a0a0a0" stroke-width="1.6"/>
<line x1="565.1" y1="171.2" x2="558.7" y2="177.7" stroke="#a0a0a0" stroke-width="1.6"/>
<line x1="586.0" y1="174.1" x2="593.2" y2="173.3" stroke="#a0a0a0" stroke-width="1.6"/>
<line x1="586.0" y1="174.1" x2="588.3" y2="179.3" stroke="#a0a0a0" stroke-width="1.6"/>
<line x1="586.0" y1="174.1" x2="594.1" y2="179.9" stroke="#a0a0a0" stroke-width="1.6"/>
<line x1="593.2" y1="173.3" x2="588.3" y2="179.3" stroke="#a0a0a0" stroke-width="1.6"/>
<line x1="593.2" y1="173.3" x2="594.1" y2="179.9" stroke="#a0a0a0" stroke-width="1.6"/>
<line x1="603.0" y1="174.6" x2="613.0" y2="172.1" stroke="#a0a0a0" stroke-width="1.6"/>
<line x1="620.4" y1="171.4" x2="630.9" y2="173.7" stroke="#a0a0a0" stroke-width="1.6"/>
<line x1="630.9" y1="173.7" x2="638.6" y2="174.1" stroke="#a0a0a0" stroke-width="1.6"/>
<line x1="630.9" y1="173.7" x2="631.6" y2="182.7" stroke="#a0a0a0" stroke-width="1.6"/>
<line x1="638.6" y1="174.1" x2="648.5" y2="176.7" stroke="#a0a0a0" stroke-width="1.6"/>
<line x1="648.5" y1="176.7" x2="642.8" y2="181.5" stroke="#a0a0a0" stroke-width="1.6"/>
<line x1="648.5" y1="176.7" x2="648.9" y2="185.8" stroke="#a0a0a0" stroke-width="1.6"/>
<line x1="503.6" y1="176.6" x2="512.7" y2="178.3" stroke="#a0a0a0" stroke-width="1.6"/>
<line x1="512.7" y1="178.3" x2="505.6" y2="185.8" stroke="#a0a0a0" stroke-width="1.6"/>
<line x1="512.7" y1="178.3" x2="511.9" y2="184.6" stroke="#a0a0a0" stroke-width="1.6"/>
<line x1="523.7" y1="177.4" x2="531.2" y2="178.7" stroke="#a0a0a0" stroke-width="1.6"/>
<line x1="550.9" y1="180.9" x2="558.7" y2="177.7" stroke="#a0a0a0" stroke-width="1.6"/>
<line x1="550.9" y1="180.9" x2="551.4" y2="185.5" stroke="#a0a0a0" stroke-width="1.6"/>
<line x1="558.7" y1="177.7" x2="566.8" y2="180.7" stroke="#a0a0a0" stroke-width="1.6"/>
<line x1="566.8" y1="180.7" x2="567.7" y2="190.3" stroke="#a0a0a0" stroke-width="1.6"/>
<line x1="578.2" y1="182.4" x2="580.8" y2="186.9" stroke="#a0a0a0" stroke-width="1.6"/>
<line x1="588.3" y1="179.3" x2="594.1" y2="179.9" stroke="#a0a0a0" stroke-width="1.6"/>
<line x1="588.3" y1="179.3" x2="580.8" y2="186.9" stroke="#a0a0a0" stroke-width="1.6"/>
<line x1="594.1" y1="179.9" x2="603.3" y2="182.6" stroke="#a0a0a0" stroke-width="1.6"/>
<line x1="594.1" y1="179.9" x2="590.2" y2="188.8" stroke="#a0a0a0" stroke-width="1.6"/>
<line x1="603.3" y1="182.6" x2="598.6" y2="191.2" stroke="#a0a0a0" stroke-width="1.6"/>
<line x1="603.3" y1="182.6" x2="605.4" y2="191.3" stroke="#a0a0a0" stroke-width="1.6"/>
<line x1="615.9" y1="184.1" x2="622.1" y2="184.4" stroke="#a0a0a0" stroke-width="1.6"/>
<line x1="622.1" y1="184.4" x2="631.6" y2="182.7" stroke="#a0a0a0" stroke-width="1.6"/>
<line x1="642.8" y1="181.5" x2="648.9" y2="185.8" stroke="#a0a0a0" stroke-width="1.6"/>
<line x1="642.8" y1="181.5" x2="643.4" y2="190.5" stroke="#a0a0a0" stroke-width="1.6"/>
<line x1="648.9" y1="185.8" x2="652.4" y2="192.2" stroke="#a0a0a0" stroke-width="1.6"/>
<line x1="495.0" y1="183.7" x2="505.6" y2="185.8" stroke="#a0a0a0" stroke-width="1.6"/>
<line x1="505.6" y1="185.8" x2="511.9" y2="184.6" stroke="#a0a0a0" stroke-width="1.6"/>
<line x1="505.6" y1="185.8" x2="507.0" y2="192.1" stroke="#a0a0a0" stroke-width="1.6"/>
<line x1="511.9" y1="184.6" x2="507.0" y2="192.1" stroke="#a0a0a0" stroke-width="1.6"/>
<line x1="551.4" y1="185.5" x2="545.7" y2="193.9" stroke="#a0a0a0" stroke-width="1.6"/>
<line x1="559.3" y1="188.7" x2="567.7" y2="190.3" stroke="#a0a0a0" stroke-width="1.6"/>
<line x1="580.8" y1="186.9" x2="590.2" y2="188.8" stroke="#a0a0a0" stroke-width="1.6"/>
<line x1="590.2" y1="188.8" x2="598.6" y2="191.2" stroke="#a0a0a0" stroke-width="1.6"/>
<line x1="598.6" y1="191.2" x2="600.0" y2="198.9" stroke="#a0a0a0" stroke-width="1.6"/>
<line x1="605.4" y1="191.3" x2="609.1" y2="198.5" stroke="#a0a0a0" stroke-width="1.6"/>
<line x1="616.4" y1="192.4" x2="623.6" y2="192.7" stroke="#a0a0a0" stroke-width="1.6"/>
<line x1="616.4" y1="192.4" x2="615.9" y2="199.1" stroke="#a0a0a0" stroke-width="1.6"/>
<line x1="623.6" y1="192.7" x2="615.9" y2="199.1" stroke="#a0a0a0" stroke-width="1.6"/>
<line x1="636.3" y1="192.8" x2="643.4" y2="190.5" stroke="#a0a0a0" stroke-width="1.6"/>
<line x1="636.3" y1="192.8" x2="635.5" y2="199.4" stroke="#a0a0a0" stroke-width="1.6"/>
<line x1="643.4" y1="190.5" x2="652.4" y2="192.2" stroke="#a0a0a0" stroke-width="1.6"/>
<line x1="507.0" y1="192.1" x2="516.6" y2="194.9" stroke="#a0a0a0" stroke-width="1.6"/>
<line x1="516.6" y1="194.9" x2="524.6" y2="201.6" stroke="#a0a0a0" stroke-width="1.6"/>
<line x1="523.5" y1="196.6" x2="515.5" y2="201.9" stroke="#a0a0a0" stroke-width="1.6"/>
<line x1="523.5" y1="196.6" x2="524.6" y2="201.6" stroke="#a0a0a0" stroke-width="1.6"/>
<line x1="535.1" y1="193.3" x2="545.7" y2="193.9" stroke="#a0a0a0" stroke-width="1.6"/>
<line x1="545.7" y1="193.9" x2="551.9" y2="197.3" stroke="#a0a0a0" stroke-width="1.6"/>
<line x1="545.7" y1="193.9" x2="543.4" y2="202.9" stroke="#a0a0a0" stroke-width="1.6"/>
<line x1="571.8" y1="197.0" x2="579.4" y2="196.1" stroke="#a0a0a0" stroke-width="1.6"/>
<line x1="571.8" y1="197.0" x2="573.1" y2="204.2" stroke="#a0a0a0" stroke-width="1.6"/>
<line x1="579.4" y1="196.1" x2="587.3" y2="199.3" stroke="#a0a0a0" stroke-width="1.6"/>
<line x1="579.4" y1="196.1" x2="573.1" y2="204.2" stroke="#a0a0a0" stroke-width="1.6"/>
<line x1="579.4" y1="196.1" x2="581.3" y2="205.0" stroke="#a0a0a0" stroke-width="1.6"/>
<line x1="587.3" y1="199.3" x2="581.3" y2="205.0" stroke="#a0a0a0" stroke-width="1.6"/>
<line x1="587.3" y1="199.3" x2="591.1" y2="207.3" stroke="#a0a0a0" stroke-width="1.6"/>
<line x1="600.0" y1="198.9" x2="598.7" y2="206.3" stroke="#a0a0a0" stroke-width="1.6"/>
<line x1="609.1" y1="198.5" x2="615.9" y2="199.1" stroke="#a0a0a0" stroke-width="1.6"/>
<line x1="628.2" y1="197.9" x2="635.5" y2="199.4" stroke="#a0a0a0" stroke-width="1.6"/>
<line x1="515.5" y1="201.9" x2="524.6" y2="201.6" stroke="#a0a0a0" stroke-width="1.6"/>
<line x1="543.4" y1="202.9" x2="553.8" y2="206.2" stroke="#a0a0a0" stroke-width="1.6"/>
<line x1="565.0" y1="206.7" x2="573.1" y2="204.2" stroke="#a0a0a0" stroke-width="1.6"/>
<line x1="573.1" y1="204.2" x2="581.3" y2="205.0" stroke="#a0a0a0" stroke-width="1.6"/>
<line x1="581.3" y1="205.0" x2="591.1" y2="207.3" stroke="#a0a0a0" stroke-width="1.6"/>
<line x1="591.1" y1="207.3" x2="598.7" y2="206.3" stroke="#a0a0a0" stroke-width="1.6"/>
<path d="M542.5,118.8 L540.5,121.1 L537.5,120.4 L536.6,117.6 L538.6,115.3 L541.6,115.9 Z" fill="none" stroke="#a4a4a4" stroke-width="1.7"/>
<circle cx="542.5" cy="118.8" r="1.5" fill="url(#gWhite)"/>
<circle cx="540.5" cy="121.1" r="1.5" fill="url(#gWhite)"/>
<circle cx="537.5" cy="120.4" r="1.5" fill="url(#gWhite)"/>
<circle cx="536.6" cy="117.6" r="1.5" fill="url(#gWhite)"/>
<circle cx="538.6" cy="115.3" r="1.5" fill="url(#gWhite)"/>
<circle cx="541.6" cy="115.9" r="1.5" fill="url(#gWhite)"/>
<path d="M550.5,117.7 L547.7,119.6 L544.6,118.0 L544.4,114.6 L547.2,112.7 L550.3,114.2 Z" fill="none" stroke="#a4a4a4" stroke-width="1.7"/>
<circle cx="550.5" cy="117.7" r="1.5" fill="url(#gWhite)"/>
<circle cx="547.7" cy="119.6" r="1.5" fill="url(#gWhite)"/>
<circle cx="544.6" cy="118.0" r="1.5" fill="url(#gWhite)"/>
<circle cx="544.4" cy="114.6" r="1.5" fill="url(#gWhite)"/>
<circle cx="547.2" cy="112.7" r="1.5" fill="url(#gWhite)"/>
<circle cx="550.3" cy="114.2" r="1.5" fill="url(#gWhite)"/>
<path d="M561.7,119.2 L558.2,120.2 L555.7,117.6 L556.6,114.2 L560.0,113.2 L562.6,115.8 Z" fill="none" stroke="#a4a4a4" stroke-width="1.7"/>
<circle cx="561.7" cy="119.2" r="1.5" fill="url(#gWhite)"/>
<circle cx="558.2" cy="120.2" r="1.5" fill="url(#gWhite)"/>
<circle cx="555.7" cy="117.6" r="1.5" fill="url(#gWhite)"/>
<circle cx="556.6" cy="114.2" r="1.5" fill="url(#gWhite)"/>
<circle cx="560.0" cy="113.2" r="1.5" fill="url(#gWhite)"/>
<circle cx="562.6" cy="115.8" r="1.5" fill="url(#gWhite)"/>
<path d="M568.8,118.3 L566.9,121.3 L563.3,121.2 L561.7,118.1 L563.6,115.0 L567.1,115.1 Z" fill="none" stroke="#a4a4a4" stroke-width="1.7"/>
<circle cx="568.8" cy="118.3" r="1.5" fill="url(#gWhite)"/>
<circle cx="566.9" cy="121.3" r="1.5" fill="url(#gWhite)"/>
<circle cx="563.3" cy="121.2" r="1.5" fill="url(#gWhite)"/>
<circle cx="561.7" cy="118.1" r="1.5" fill="url(#gWhite)"/>
<circle cx="563.6" cy="115.0" r="1.5" fill="url(#gWhite)"/>
<circle cx="567.1" cy="115.1" r="1.5" fill="url(#gWhite)"/>
<path d="M580.1,117.1 L578.5,119.7 L575.4,119.7 L573.9,117.0 L575.5,114.3 L578.6,114.3 Z" fill="none" stroke="#a4a4a4" stroke-width="1.7"/>
<circle cx="580.1" cy="117.1" r="1.5" fill="url(#gWhite)"/>
<circle cx="578.5" cy="119.7" r="1.5" fill="url(#gWhite)"/>
<circle cx="575.4" cy="119.7" r="1.5" fill="url(#gWhite)"/>
<circle cx="573.9" cy="117.0" r="1.5" fill="url(#gWhite)"/>
<circle cx="575.5" cy="114.3" r="1.5" fill="url(#gWhite)"/>
<circle cx="578.6" cy="114.3" r="1.5" fill="url(#gWhite)"/>
<path d="M587.4,119.8 L584.9,121.9 L581.8,120.8 L581.2,117.6 L583.7,115.5 L586.8,116.5 Z" fill="none" stroke="#a4a4a4" stroke-width="1.7"/>
<circle cx="587.4" cy="119.8" r="1.5" fill="url(#gWhite)"/>
<circle cx="584.9" cy="121.9" r="1.5" fill="url(#gWhite)"/>
<circle cx="581.8" cy="120.8" r="1.5" fill="url(#gWhite)"/>
<circle cx="581.2" cy="117.6" r="1.5" fill="url(#gWhite)"/>
<circle cx="583.7" cy="115.5" r="1.5" fill="url(#gWhite)"/>
<circle cx="586.8" cy="116.5" r="1.5" fill="url(#gWhite)"/>
<path d="M598.7,121.3 L596.0,122.7 L593.4,121.1 L593.5,118.1 L596.1,116.7 L598.7,118.2 Z" fill="none" stroke="#a4a4a4" stroke-width="1.7"/>
<circle cx="598.7" cy="121.3" r="1.5" fill="url(#gWhite)"/>
<circle cx="596.0" cy="122.7" r="1.5" fill="url(#gWhite)"/>
<circle cx="593.4" cy="121.1" r="1.5" fill="url(#gWhite)"/>
<circle cx="593.5" cy="118.1" r="1.5" fill="url(#gWhite)"/>
<circle cx="596.1" cy="116.7" r="1.5" fill="url(#gWhite)"/>
<circle cx="598.7" cy="118.2" r="1.5" fill="url(#gWhite)"/>
<path d="M608.3,119.8 L606.0,121.8 L603.1,120.9 L602.5,117.9 L604.7,115.9 L607.6,116.8 Z" fill="none" stroke="#a4a4a4" stroke-width="1.7"/>
<circle cx="608.3" cy="119.8" r="1.5" fill="url(#gWhite)"/>
<circle cx="606.0" cy="121.8" r="1.5" fill="url(#gWhite)"/>
<circle cx="603.1" cy="120.9" r="1.5" fill="url(#gWhite)"/>
<circle cx="602.5" cy="117.9" r="1.5" fill="url(#gWhite)"/>
<circle cx="604.7" cy="115.9" r="1.5" fill="url(#gWhite)"/>
<circle cx="607.6" cy="116.8" r="1.5" fill="url(#gWhite)"/>
<path d="M614.2,124.0 L611.1,124.8 L608.9,122.5 L609.8,119.5 L612.8,118.7 L615.0,121.0 Z" fill="none" stroke="#a4a4a4" stroke-width="1.7"/>
<circle cx="614.2" cy="124.0" r="1.5" fill="url(#gWhite)"/>
<circle cx="611.1" cy="124.8" r="1.5" fill="url(#gWhite)"/>
<circle cx="608.9" cy="122.5" r="1.5" fill="url(#gWhite)"/>
<circle cx="609.8" cy="119.5" r="1.5" fill="url(#gWhite)"/>
<circle cx="612.8" cy="118.7" r="1.5" fill="url(#gWhite)"/>
<circle cx="615.0" cy="121.0" r="1.5" fill="url(#gWhite)"/>
<path d="M627.1,122.1 L624.8,124.4 L621.6,123.6 L620.8,120.4 L623.1,118.1 L626.2,119.0 Z" fill="none" stroke="#a4a4a4" stroke-width="1.7"/>
<circle cx="627.1" cy="122.1" r="1.5" fill="url(#gWhite)"/>
<circle cx="624.8" cy="124.4" r="1.5" fill="url(#gWhite)"/>
<circle cx="621.6" cy="123.6" r="1.5" fill="url(#gWhite)"/>
<circle cx="620.8" cy="120.4" r="1.5" fill="url(#gWhite)"/>
<circle cx="623.1" cy="118.1" r="1.5" fill="url(#gWhite)"/>
<circle cx="626.2" cy="119.0" r="1.5" fill="url(#gWhite)"/>
<path d="M523.2,125.0 L520.7,126.8 L518.0,125.5 L517.7,122.5 L520.2,120.7 L522.9,122.0 Z" fill="none" stroke="#a4a4a4" stroke-width="1.7"/>
<circle cx="523.2" cy="125.0" r="1.5" fill="url(#gWhite)"/>
<circle cx="520.7" cy="126.8" r="1.5" fill="url(#gWhite)"/>
<circle cx="518.0" cy="125.5" r="1.5" fill="url(#gWhite)"/>
<circle cx="517.7" cy="122.5" r="1.5" fill="url(#gWhite)"/>
<circle cx="520.2" cy="120.7" r="1.5" fill="url(#gWhite)"/>
<circle cx="522.9" cy="122.0" r="1.5" fill="url(#gWhite)"/>
<path d="M535.6,126.3 L532.5,127.5 L529.8,125.4 L530.3,122.0 L533.5,120.8 L536.1,122.9 Z" fill="none" stroke="#a4a4a4" stroke-width="1.7"/>
<circle cx="535.6" cy="126.3" r="1.5" fill="url(#gWhite)"/>
<circle cx="532.5" cy="127.5" r="1.5" fill="url(#gWhite)"/>
<circle cx="529.8" cy="125.4" r="1.5" fill="url(#gWhite)"/>
<circle cx="530.3" cy="122.0" r="1.5" fill="url(#gWhite)"/>
<circle cx="533.5" cy="120.8" r="1.5" fill="url(#gWhite)"/>
<circle cx="536.1" cy="122.9" r="1.5" fill="url(#gWhite)"/>
<path d="M542.4,128.0 L538.9,128.8 L536.5,126.2 L537.5,122.8 L540.9,122.0 L543.4,124.5 Z" fill="none" stroke="#a4a4a4" stroke-width="1.7"/>
<circle cx="542.4" cy="128.0" r="1.5" fill="url(#gWhite)"/>
<circle cx="538.9" cy="128.8" r="1.5" fill="url(#gWhite)"/>
<circle cx="536.5" cy="126.2" r="1.5" fill="url(#gWhite)"/>
<circle cx="537.5" cy="122.8" r="1.5" fill="url(#gWhite)"/>
<circle cx="540.9" cy="122.0" r="1.5" fill="url(#gWhite)"/>
<circle cx="543.4" cy="124.5" r="1.5" fill="url(#gWhite)"/>
<path d="M552.6,126.3 L550.7,128.8 L547.6,128.3 L546.4,125.4 L548.3,122.9 L551.4,123.4 Z" fill="none" stroke="#a4a4a4" stroke-width="1.7"/>
<circle cx="552.6" cy="126.3" r="1.5" fill="url(#gWhite)"/>
<circle cx="550.7" cy="128.8" r="1.5" fill="url(#gWhite)"/>
<circle cx="547.6" cy="128.3" r="1.5" fill="url(#gWhite)"/>
<circle cx="546.4" cy="125.4" r="1.5" fill="url(#gWhite)"/>
<circle cx="548.3" cy="122.9" r="1.5" fill="url(#gWhite)"/>
<circle cx="551.4" cy="123.4" r="1.5" fill="url(#gWhite)"/>
<path d="M563.6,127.5 L560.3,128.4 L557.9,126.0 L558.8,122.6 L562.1,121.7 L564.5,124.2 Z" fill="none" stroke="#a4a4a4" stroke-width="1.7"/>
<circle cx="563.6" cy="127.5" r="1.5" fill="url(#gWhite)"/>
<circle cx="560.3" cy="128.4" r="1.5" fill="url(#gWhite)"/>
<circle cx="557.9" cy="126.0" r="1.5" fill="url(#gWhite)"/>
<circle cx="558.8" cy="122.6" r="1.5" fill="url(#gWhite)"/>
<circle cx="562.1" cy="121.7" r="1.5" fill="url(#gWhite)"/>
<circle cx="564.5" cy="124.2" r="1.5" fill="url(#gWhite)"/>
<path d="M568.1,132.0 L564.8,132.7 L562.6,130.2 L563.6,127.1 L566.8,126.4 L569.1,128.8 Z" fill="none" stroke="#a4a4a4" stroke-width="1.7"/>
<circle cx="568.1" cy="132.0" r="1.5" fill="url(#gWhite)"/>
<circle cx="564.8" cy="132.7" r="1.5" fill="url(#gWhite)"/>
<circle cx="562.6" cy="130.2" r="1.5" fill="url(#gWhite)"/>
<circle cx="563.6" cy="127.1" r="1.5" fill="url(#gWhite)"/>
<circle cx="566.8" cy="126.4" r="1.5" fill="url(#gWhite)"/>
<circle cx="569.1" cy="128.8" r="1.5" fill="url(#gWhite)"/>
<path d="M582.6,131.2 L580.2,133.5 L577.0,132.5 L576.2,129.3 L578.6,127.0 L581.8,127.9 Z" fill="none" stroke="#a4a4a4" stroke-width="1.7"/>
<circle cx="582.6" cy="131.2" r="1.5" fill="url(#gWhite)"/>
<circle cx="580.2" cy="133.5" r="1.5" fill="url(#gWhite)"/>
<circle cx="577.0" cy="132.5" r="1.5" fill="url(#gWhite)"/>
<circle cx="576.2" cy="129.3" r="1.5" fill="url(#gWhite)"/>
<circle cx="578.6" cy="127.0" r="1.5" fill="url(#gWhite)"/>
<circle cx="581.8" cy="127.9" r="1.5" fill="url(#gWhite)"/>
<path d="M589.5,130.6 L587.9,133.3 L584.8,133.2 L583.3,130.5 L584.9,127.8 L588.0,127.9 Z" fill="none" stroke="#a4a4a4" stroke-width="1.7"/>
<circle cx="589.5" cy="130.6" r="1.5" fill="url(#gWhite)"/>
<circle cx="587.9" cy="133.3" r="1.5" fill="url(#gWhite)"/>
<circle cx="584.8" cy="133.2" r="1.5" fill="url(#gWhite)"/>
<circle cx="583.3" cy="130.5" r="1.5" fill="url(#gWhite)"/>
<circle cx="584.9" cy="127.8" r="1.5" fill="url(#gWhite)"/>
<circle cx="588.0" cy="127.9" r="1.5" fill="url(#gWhite)"/>
<path d="M600.1,130.1 L596.8,130.6 L594.7,127.9 L595.9,124.8 L599.3,124.3 L601.4,126.9 Z" fill="none" stroke="#a4a4a4" stroke-width="1.7"/>
<circle cx="600.1" cy="130.1" r="1.5" fill="url(#gWhite)"/>
<circle cx="596.8" cy="130.6" r="1.5" fill="url(#gWhite)"/>
<circle cx="594.7" cy="127.9" r="1.5" fill="url(#gWhite)"/>
<circle cx="595.9" cy="124.8" r="1.5" fill="url(#gWhite)"/>
<circle cx="599.3" cy="124.3" r="1.5" fill="url(#gWhite)"/>
<circle cx="601.4" cy="126.9" r="1.5" fill="url(#gWhite)"/>
<path d="M609.5,132.6 L606.5,134.5 L603.4,132.9 L603.2,129.4 L606.1,127.4 L609.3,129.0 Z" fill="none" stroke="#a4a4a4" stroke-width="1.7"/>
<circle cx="609.5" cy="132.6" r="1.5" fill="url(#gWhite)"/>
<circle cx="606.5" cy="134.5" r="1.5" fill="url(#gWhite)"/>
<circle cx="603.4" cy="132.9" r="1.5" fill="url(#gWhite)"/>
<circle cx="603.2" cy="129.4" r="1.5" fill="url(#gWhite)"/>
<circle cx="606.1" cy="127.4" r="1.5" fill="url(#gWhite)"/>
<circle cx="609.3" cy="129.0" r="1.5" fill="url(#gWhite)"/>
<path d="M617.2,132.6 L613.8,133.0 L611.7,130.3 L613.1,127.2 L616.5,126.8 L618.5,129.5 Z" fill="none" stroke="#a4a4a4" stroke-width="1.7"/>
<circle cx="617.2" cy="132.6" r="1.5" fill="url(#gWhite)"/>
<circle cx="613.8" cy="133.0" r="1.5" fill="url(#gWhite)"/>
<circle cx="611.7" cy="130.3" r="1.5" fill="url(#gWhite)"/>
<circle cx="613.1" cy="127.2" r="1.5" fill="url(#gWhite)"/>
<circle cx="616.5" cy="126.8" r="1.5" fill="url(#gWhite)"/>
<circle cx="618.5" cy="129.5" r="1.5" fill="url(#gWhite)"/>
<path d="M625.3,131.5 L622.2,133.0 L619.3,131.0 L619.6,127.5 L622.7,126.0 L625.6,128.0 Z" fill="none" stroke="#a4a4a4" stroke-width="1.7"/>
<circle cx="625.3" cy="131.5" r="1.5" fill="url(#gWhite)"/>
<circle cx="622.2" cy="133.0" r="1.5" fill="url(#gWhite)"/>
<circle cx="619.3" cy="131.0" r="1.5" fill="url(#gWhite)"/>
<circle cx="619.6" cy="127.5" r="1.5" fill="url(#gWhite)"/>
<circle cx="622.7" cy="126.0" r="1.5" fill="url(#gWhite)"/>
<circle cx="625.6" cy="128.0" r="1.5" fill="url(#gWhite)"/>
<path d="M634.2,130.3 L631.4,131.9 L628.5,130.3 L628.5,127.0 L631.3,125.4 L634.1,127.0 Z" fill="none" stroke="#a4a4a4" stroke-width="1.7"/>
<circle cx="634.2" cy="130.3" r="1.5" fill="url(#gWhite)"/>
<circle cx="631.4" cy="131.9" r="1.5" fill="url(#gWhite)"/>
<circle cx="628.5" cy="130.3" r="1.5" fill="url(#gWhite)"/>
<circle cx="628.5" cy="127.0" r="1.5" fill="url(#gWhite)"/>
<circle cx="631.3" cy="125.4" r="1.5" fill="url(#gWhite)"/>
<circle cx="634.1" cy="127.0" r="1.5" fill="url(#gWhite)"/>
<path d="M501.3,133.6 L499.3,136.0 L496.2,135.4 L495.2,132.5 L497.2,130.1 L500.2,130.7 Z" fill="none" stroke="#a4a4a4" stroke-width="1.7"/>
<circle cx="501.3" cy="133.6" r="1.5" fill="url(#gWhite)"/>
<circle cx="499.3" cy="136.0" r="1.5" fill="url(#gWhite)"/>
<circle cx="496.2" cy="135.4" r="1.5" fill="url(#gWhite)"/>
<circle cx="495.2" cy="132.5" r="1.5" fill="url(#gWhite)"/>
<circle cx="497.2" cy="130.1" r="1.5" fill="url(#gWhite)"/>
<circle cx="500.2" cy="130.7" r="1.5" fill="url(#gWhite)"/>
<path d="M509.4,137.4 L506.0,137.6 L504.1,134.8 L505.7,131.7 L509.1,131.5 L510.9,134.4 Z" fill="none" stroke="#a4a4a4" stroke-width="1.7"/>
<circle cx="509.4" cy="137.4" r="1.5" fill="url(#gWhite)"/>
<circle cx="506.0" cy="137.6" r="1.5" fill="url(#gWhite)"/>
<circle cx="504.1" cy="134.8" r="1.5" fill="url(#gWhite)"/>
<circle cx="505.7" cy="131.7" r="1.5" fill="url(#gWhite)"/>
<circle cx="509.1" cy="131.5" r="1.5" fill="url(#gWhite)"/>
<circle cx="510.9" cy="134.4" r="1.5" fill="url(#gWhite)"/>
<path d="M519.7,134.8 L517.0,136.8 L513.9,135.5 L513.5,132.2 L516.2,130.2 L519.3,131.5 Z" fill="none" stroke="#a4a4a4" stroke-width="1.7"/>
<circle cx="519.7" cy="134.8" r="1.5" fill="url(#gWhite)"/>
<circle cx="517.0" cy="136.8" r="1.5" fill="url(#gWhite)"/>
<circle cx="513.9" cy="135.5" r="1.5" fill="url(#gWhite)"/>
<circle cx="513.5" cy="132.2" r="1.5" fill="url(#gWhite)"/>
<circle cx="516.2" cy="130.2" r="1.5" fill="url(#gWhite)"/>
<circle cx="519.3" cy="131.5" r="1.5" fill="url(#gWhite)"/>
<path d="M524.3,136.2 L521.6,138.0 L518.7,136.6 L518.5,133.4 L521.1,131.6 L524.0,133.0 Z" fill="none" stroke="#a4a4a4" stroke-width="1.7"/>
<circle cx="524.3" cy="136.2" r="1.5" fill="url(#gWhite)"/>
<circle cx="521.6" cy="138.0" r="1.5" fill="url(#gWhite)"/>
<circle cx="518.7" cy="136.6" r="1.5" fill="url(#gWhite)"/>
<circle cx="518.5" cy="133.4" r="1.5" fill="url(#gWhite)"/>
<circle cx="521.1" cy="131.6" r="1.5" fill="url(#gWhite)"/>
<circle cx="524.0" cy="133.0" r="1.5" fill="url(#gWhite)"/>
<path d="M534.5,134.6 L531.6,136.6 L528.5,135.1 L528.2,131.6 L531.1,129.6 L534.2,131.1 Z" fill="none" stroke="#a4a4a4" stroke-width="1.7"/>
<circle cx="534.5" cy="134.6" r="1.5" fill="url(#gWhite)"/>
<circle cx="531.6" cy="136.6" r="1.5" fill="url(#gWhite)"/>
<circle cx="528.5" cy="135.1" r="1.5" fill="url(#gWhite)"/>
<circle cx="528.2" cy="131.6" r="1.5" fill="url(#gWhite)"/>
<circle cx="531.1" cy="129.6" r="1.5" fill="url(#gWhite)"/>
<circle cx="534.2" cy="131.1" r="1.5" fill="url(#gWhite)"/>
<path d="M546.5,135.3 L544.3,138.1 L540.8,137.5 L539.5,134.2 L541.7,131.4 L545.3,131.9 Z" fill="none" stroke="#a4a4a4" stroke-width="1.7"/>
<circle cx="546.5" cy="135.3" r="1.5" fill="url(#gWhite)"/>
<circle cx="544.3" cy="138.1" r="1.5" fill="url(#gWhite)"/>
<circle cx="540.8" cy="137.5" r="1.5" fill="url(#gWhite)"/>
<circle cx="539.5" cy="134.2" r="1.5" fill="url(#gWhite)"/>
<circle cx="541.7" cy="131.4" r="1.5" fill="url(#gWhite)"/>
<circle cx="545.3" cy="131.9" r="1.5" fill="url(#gWhite)"/>
<path d="M553.7,138.9 L551.0,140.5 L548.2,138.9 L548.2,135.7 L551.0,134.1 L553.7,135.7 Z" fill="none" stroke="#a4a4a4" stroke-width="1.7"/>
<circle cx="553.7" cy="138.9" r="1.5" fill="url(#gWhite)"/>
<circle cx="551.0" cy="140.5" r="1.5" fill="url(#gWhite)"/>
<circle cx="548.2" cy="138.9" r="1.5" fill="url(#gWhite)"/>
<circle cx="548.2" cy="135.7" r="1.5" fill="url(#gWhite)"/>
<circle cx="551.0" cy="134.1" r="1.5" fill="url(#gWhite)"/>
<circle cx="553.7" cy="135.7" r="1.5" fill="url(#gWhite)"/>
<path d="M563.3,137.2 L560.1,137.9 L558.0,135.4 L559.0,132.4 L562.2,131.7 L564.3,134.2 Z" fill="none" stroke="#a4a4a4" stroke-width="1.7"/>
<circle cx="563.3" cy="137.2" r="1.5" fill="url(#gWhite)"/>
<circle cx="560.1" cy="137.9" r="1.5" fill="url(#gWhite)"/>
<circle cx="558.0" cy="135.4" r="1.5" fill="url(#gWhite)"/>
<circle cx="559.0" cy="132.4" r="1.5" fill="url(#gWhite)"/>
<circle cx="562.2" cy="131.7" r="1.5" fill="url(#gWhite)"/>
<circle cx="564.3" cy="134.2" r="1.5" fill="url(#gWhite)"/>
<path d="M570.6,140.7 L567.2,141.1 L565.1,138.3 L566.5,135.1 L569.9,134.7 L572.0,137.5 Z" fill="none" stroke="#a4a4a4" stroke-width="1.7"/>
<circle cx="570.6" cy="140.7" r="1.5" fill="url(#gWhite)"/>
<circle cx="567.2" cy="141.1" r="1.5" fill="url(#gWhite)"/>
<circle cx="565.1" cy="138.3" r="1.5" fill="url(#gWhite)"/>
<circle cx="566.5" cy="135.1" r="1.5" fill="url(#gWhite)"/>
<circle cx="569.9" cy="134.7" r="1.5" fill="url(#gWhite)"/>
<circle cx="572.0" cy="137.5" r="1.5" fill="url(#gWhite)"/>
<path d="M582.3,138.1 L580.5,141.0 L577.1,140.9 L575.5,137.9 L577.3,135.0 L580.7,135.1 Z" fill="none" stroke="#a4a4a4" stroke-width="1.7"/>
<circle cx="582.3" cy="138.1" r="1.5" fill="url(#gWhite)"/>
<circle cx="580.5" cy="141.0" r="1.5" fill="url(#gWhite)"/>
<circle cx="577.1" cy="140.9" r="1.5" fill="url(#gWhite)"/>
<circle cx="575.5" cy="137.9" r="1.5" fill="url(#gWhite)"/>
<circle cx="577.3" cy="135.0" r="1.5" fill="url(#gWhite)"/>
<circle cx="580.7" cy="135.1" r="1.5" fill="url(#gWhite)"/>
<path d="M590.3,137.3 L587.4,138.9 L584.5,137.2 L584.6,133.8 L587.5,132.2 L590.4,134.0 Z" fill="none" stroke="#a4a4a4" stroke-width="1.7"/>
<circle cx="590.3" cy="137.3" r="1.5" fill="url(#gWhite)"/>
<circle cx="587.4" cy="138.9" r="1.5" fill="url(#gWhite)"/>
<circle cx="584.5" cy="137.2" r="1.5" fill="url(#gWhite)"/>
<circle cx="584.6" cy="133.8" r="1.5" fill="url(#gWhite)"/>
<circle cx="587.5" cy="132.2" r="1.5" fill="url(#gWhite)"/>
<circle cx="590.4" cy="134.0" r="1.5" fill="url(#gWhite)"/>
<path d="M600.7,140.1 L598.4,142.4 L595.2,141.5 L594.4,138.3 L596.8,136.0 L599.9,136.9 Z" fill="none" stroke="#a4a4a4" stroke-width="1.7"/>
<circle cx="600.7" cy="140.1" r="1.5" fill="url(#gWhite)"/>
<circle cx="598.4" cy="142.4" r="1.5" fill="url(#gWhite)"/>
<circle cx="595.2" cy="141.5" r="1.5" fill="url(#gWhite)"/>
<circle cx="594.4" cy="138.3" r="1.5" fill="url(#gWhite)"/>
<circle cx="596.8" cy="136.0" r="1.5" fill="url(#gWhite)"/>
<circle cx="599.9" cy="136.9" r="1.5" fill="url(#gWhite)"/>
<path d="M607.1,142.3 L603.7,142.7 L601.6,140.0 L602.9,136.9 L606.3,136.4 L608.4,139.1 Z" fill="none" stroke="#a4a4a4" stroke-width="1.7"/>
<circle cx="607.1" cy="142.3" r="1.5" fill="url(#gWhite)"/>
<circle cx="603.7" cy="142.7" r="1.5" fill="url(#gWhite)"/>
<circle cx="601.6" cy="140.0" r="1.5" fill="url(#gWhite)"/>
<circle cx="602.9" cy="136.9" r="1.5" fill="url(#gWhite)"/>
<circle cx="606.3" cy="136.4" r="1.5" fill="url(#gWhite)"/>
<circle cx="608.4" cy="139.1" r="1.5" fill="url(#gWhite)"/>
<path d="M620.3,142.0 L617.5,143.2 L615.1,141.3 L615.5,138.2 L618.4,137.1 L620.8,139.0 Z" fill="none" stroke="#a4a4a4" stroke-width="1.7"/>
<circle cx="620.3" cy="142.0" r="1.5" fill="url(#gWhite)"/>
<circle cx="617.5" cy="143.2" r="1.5" fill="url(#gWhite)"/>
<circle cx="615.1" cy="141.3" r="1.5" fill="url(#gWhite)"/>
<circle cx="615.5" cy="138.2" r="1.5" fill="url(#gWhite)"/>
<circle cx="618.4" cy="137.1" r="1.5" fill="url(#gWhite)"/>
<circle cx="620.8" cy="139.0" r="1.5" fill="url(#gWhite)"/>
<path d="M629.4,138.2 L626.6,139.9 L623.8,138.3 L623.8,135.1 L626.6,133.4 L629.4,135.0 Z" fill="none" stroke="#a4a4a4" stroke-width="1.7"/>
<circle cx="629.4" cy="138.2" r="1.5" fill="url(#gWhite)"/>
<circle cx="626.6" cy="139.9" r="1.5" fill="url(#gWhite)"/>
<circle cx="623.8" cy="138.3" r="1.5" fill="url(#gWhite)"/>
<circle cx="623.8" cy="135.1" r="1.5" fill="url(#gWhite)"/>
<circle cx="626.6" cy="133.4" r="1.5" fill="url(#gWhite)"/>
<circle cx="629.4" cy="135.0" r="1.5" fill="url(#gWhite)"/>
<path d="M636.9,144.3 L633.3,144.6 L631.3,141.7 L632.8,138.5 L636.3,138.2 L638.4,141.1 Z" fill="none" stroke="#a4a4a4" stroke-width="1.7"/>
<circle cx="636.9" cy="144.3" r="1.5" fill="url(#gWhite)"/>
<circle cx="633.3" cy="144.6" r="1.5" fill="url(#gWhite)"/>
<circle cx="631.3" cy="141.7" r="1.5" fill="url(#gWhite)"/>
<circle cx="632.8" cy="138.5" r="1.5" fill="url(#gWhite)"/>
<circle cx="636.3" cy="138.2" r="1.5" fill="url(#gWhite)"/>
<circle cx="638.4" cy="141.1" r="1.5" fill="url(#gWhite)"/>
<path d="M490.7,141.2 L488.4,143.7 L485.1,143.1 L484.0,139.9 L486.3,137.3 L489.6,138.0 Z" fill="none" stroke="#a4a4a4" stroke-width="1.7"/>
<circle cx="490.7" cy="141.2" r="1.5" fill="url(#gWhite)"/>
<circle cx="488.4" cy="143.7" r="1.5" fill="url(#gWhite)"/>
<circle cx="485.1" cy="143.1" r="1.5" fill="url(#gWhite)"/>
<circle cx="484.0" cy="139.9" r="1.5" fill="url(#gWhite)"/>
<circle cx="486.3" cy="137.3" r="1.5" fill="url(#gWhite)"/>
<circle cx="489.6" cy="138.0" r="1.5" fill="url(#gWhite)"/>
<path d="M500.8,141.4 L498.5,144.1 L495.0,143.5 L493.8,140.1 L496.1,137.4 L499.6,138.1 Z" fill="none" stroke="#a4a4a4" stroke-width="1.7"/>
<circle cx="500.8" cy="141.4" r="1.5" fill="url(#gWhite)"/>
<circle cx="498.5" cy="144.1" r="1.5" fill="url(#gWhite)"/>
<circle cx="495.0" cy="143.5" r="1.5" fill="url(#gWhite)"/>
<circle cx="493.8" cy="140.1" r="1.5" fill="url(#gWhite)"/>
<circle cx="496.1" cy="137.4" r="1.5" fill="url(#gWhite)"/>
<circle cx="499.6" cy="138.1" r="1.5" fill="url(#gWhite)"/>
<path d="M510.5,141.3 L507.3,142.0 L505.1,139.6 L506.1,136.5 L509.3,135.8 L511.4,138.2 Z" fill="none" stroke="#a4a4a4" stroke-width="1.7"/>
<circle cx="510.5" cy="141.3" r="1.5" fill="url(#gWhite)"/>
<circle cx="507.3" cy="142.0" r="1.5" fill="url(#gWhite)"/>
<circle cx="505.1" cy="139.6" r="1.5" fill="url(#gWhite)"/>
<circle cx="506.1" cy="136.5" r="1.5" fill="url(#gWhite)"/>
<circle cx="509.3" cy="135.8" r="1.5" fill="url(#gWhite)"/>
<circle cx="511.4" cy="138.2" r="1.5" fill="url(#gWhite)"/>
<path d="M516.9,140.9 L514.7,143.1 L511.6,142.3 L510.8,139.2 L513.1,136.9 L516.2,137.8 Z" fill="none" stroke="#a4a4a4" stroke-width="1.7"/>
<circle cx="516.9" cy="140.9" r="1.5" fill="url(#gWhite)"/>
<circle cx="514.7" cy="143.1" r="1.5" fill="url(#gWhite)"/>
<circle cx="511.6" cy="142.3" r="1.5" fill="url(#gWhite)"/>
<circle cx="510.8" cy="139.2" r="1.5" fill="url(#gWhite)"/>
<circle cx="513.1" cy="136.9" r="1.5" fill="url(#gWhite)"/>
<circle cx="516.2" cy="137.8" r="1.5" fill="url(#gWhite)"/>
<path d="M525.5,143.1 L522.0,143.5 L519.9,140.6 L521.3,137.4 L524.9,137.0 L527.0,139.9 Z" fill="none" stroke="#a4a4a4" stroke-width="1.7"/>
<circle cx="525.5" cy="143.1" r="1.5" fill="url(#gWhite)"/>
<circle cx="522.0" cy="143.5" r="1.5" fill="url(#gWhite)"/>
<circle cx="519.9" cy="140.6" r="1.5" fill="url(#gWhite)"/>
<circle cx="521.3" cy="137.4" r="1.5" fill="url(#gWhite)"/>
<circle cx="524.9" cy="137.0" r="1.5" fill="url(#gWhite)"/>
<circle cx="527.0" cy="139.9" r="1.5" fill="url(#gWhite)"/>
<path d="M539.8,145.9 L537.3,147.8 L534.3,146.6 L533.9,143.5 L536.5,141.5 L539.4,142.7 Z" fill="none" stroke="#a4a4a4" stroke-width="1.7"/>
<circle cx="539.8" cy="145.9" r="1.5" fill="url(#gWhite)"/>
<circle cx="537.3" cy="147.8" r="1.5" fill="url(#gWhite)"/>
<circle cx="534.3" cy="146.6" r="1.5" fill="url(#gWhite)"/>
<circle cx="533.9" cy="143.5" r="1.5" fill="url(#gWhite)"/>
<circle cx="536.5" cy="141.5" r="1.5" fill="url(#gWhite)"/>
<circle cx="539.4" cy="142.7" r="1.5" fill="url(#gWhite)"/>
<path d="M544.8,143.8 L542.8,146.3 L539.7,145.9 L538.5,143.0 L540.4,140.5 L543.6,140.9 Z" fill="none" stroke="#a4a4a4" stroke-width="1.7"/>
<circle cx="544.8" cy="143.8" r="1.5" fill="url(#gWhite)"/>
<circle cx="542.8" cy="146.3" r="1.5" fill="url(#gWhite)"/>
<circle cx="539.7" cy="145.9" r="1.5" fill="url(#gWhite)"/>
<circle cx="538.5" cy="143.0" r="1.5" fill="url(#gWhite)"/>
<circle cx="540.4" cy="140.5" r="1.5" fill="url(#gWhite)"/>
<circle cx="543.6" cy="140.9" r="1.5" fill="url(#gWhite)"/>
<path d="M553.7,145.6 L550.6,145.8 L548.8,143.2 L550.2,140.4 L553.4,140.1 L555.1,142.8 Z" fill="none" stroke="#a4a4a4" stroke-width="1.7"/>
<circle cx="553.7" cy="145.6" r="1.5" fill="url(#gWhite)"/>
<circle cx="550.6" cy="145.8" r="1.5" fill="url(#gWhite)"/>
<circle cx="548.8" cy="143.2" r="1.5" fill="url(#gWhite)"/>
<circle cx="550.2" cy="140.4" r="1.5" fill="url(#gWhite)"/>
<circle cx="553.4" cy="140.1" r="1.5" fill="url(#gWhite)"/>
<circle cx="555.1" cy="142.8" r="1.5" fill="url(#gWhite)"/>
<path d="M564.3,145.8 L562.2,148.1 L559.3,147.4 L558.4,144.4 L560.5,142.2 L563.4,142.9 Z" fill="none" stroke="#a4a4a4" stroke-width="1.7"/>
<circle cx="564.3" cy="145.8" r="1.5" fill="url(#gWhite)"/>
<circle cx="562.2" cy="148.1" r="1.5" fill="url(#gWhite)"/>
<circle cx="559.3" cy="147.4" r="1.5" fill="url(#gWhite)"/>
<circle cx="558.4" cy="144.4" r="1.5" fill="url(#gWhite)"/>
<circle cx="560.5" cy="142.2" r="1.5" fill="url(#gWhite)"/>
<circle cx="563.4" cy="142.9" r="1.5" fill="url(#gWhite)"/>
<path d="M574.8,144.5 L573.1,147.0 L570.0,146.8 L568.6,144.0 L570.4,141.4 L573.5,141.6 Z" fill="none" stroke="#a4a4a4" stroke-width="1.7"/>
<circle cx="574.8" cy="144.5" r="1.5" fill="url(#gWhite)"/>
<circle cx="573.1" cy="147.0" r="1.5" fill="url(#gWhite)"/>
<circle cx="570.0" cy="146.8" r="1.5" fill="url(#gWhite)"/>
<circle cx="568.6" cy="144.0" r="1.5" fill="url(#gWhite)"/>
<circle cx="570.4" cy="141.4" r="1.5" fill="url(#gWhite)"/>
<circle cx="573.5" cy="141.6" r="1.5" fill="url(#gWhite)"/>
<path d="M581.4,146.8 L578.2,147.8 L575.8,145.5 L576.5,142.3 L579.7,141.3 L582.1,143.6 Z" fill="none" stroke="#a4a4a4" stroke-width="1.7"/>
<circle cx="581.4" cy="146.8" r="1.5" fill="url(#gWhite)"/>
<circle cx="578.2" cy="147.8" r="1.5" fill="url(#gWhite)"/>
<circle cx="575.8" cy="145.5" r="1.5" fill="url(#gWhite)"/>
<circle cx="576.5" cy="142.3" r="1.5" fill="url(#gWhite)"/>
<circle cx="579.7" cy="141.3" r="1.5" fill="url(#gWhite)"/>
<circle cx="582.1" cy="143.6" r="1.5" fill="url(#gWhite)"/>
<path d="M590.6,148.2 L587.4,149.7 L584.6,147.6 L585.0,144.1 L588.2,142.7 L591.0,144.8 Z" fill="none" stroke="#a4a4a4" stroke-width="1.7"/>
<circle cx="590.6" cy="148.2" r="1.5" fill="url(#gWhite)"/>
<circle cx="587.4" cy="149.7" r="1.5" fill="url(#gWhite)"/>
<circle cx="584.6" cy="147.6" r="1.5" fill="url(#gWhite)"/>
<circle cx="585.0" cy="144.1" r="1.5" fill="url(#gWhite)"/>
<circle cx="588.2" cy="142.7" r="1.5" fill="url(#gWhite)"/>
<circle cx="591.0" cy="144.8" r="1.5" fill="url(#gWhite)"/>
<path d="M603.5,145.8 L601.7,148.8 L598.2,148.8 L596.5,145.8 L598.3,142.8 L601.7,142.8 Z" fill="none" stroke="#a4a4a4" stroke-width="1.7"/>
<circle cx="603.5" cy="145.8" r="1.5" fill="url(#gWhite)"/>
<circle cx="601.7" cy="148.8" r="1.5" fill="url(#gWhite)"/>
<circle cx="598.2" cy="148.8" r="1.5" fill="url(#gWhite)"/>
<circle cx="596.5" cy="145.8" r="1.5" fill="url(#gWhite)"/>
<circle cx="598.3" cy="142.8" r="1.5" fill="url(#gWhite)"/>
<circle cx="601.7" cy="142.8" r="1.5" fill="url(#gWhite)"/>
<path d="M607.8,147.9 L604.7,148.2 L602.8,145.6 L604.2,142.7 L607.3,142.4 L609.2,145.0 Z" fill="none" stroke="#a4a4a4" stroke-width="1.7"/>
<circle cx="607.8" cy="147.9" r="1.5" fill="url(#gWhite)"/>
<circle cx="604.7" cy="148.2" r="1.5" fill="url(#gWhite)"/>
<circle cx="602.8" cy="145.6" r="1.5" fill="url(#gWhite)"/>
<circle cx="604.2" cy="142.7" r="1.5" fill="url(#gWhite)"/>
<circle cx="607.3" cy="142.4" r="1.5" fill="url(#gWhite)"/>
<circle cx="609.2" cy="145.0" r="1.5" fill="url(#gWhite)"/>
<path d="M619.6,148.7 L617.4,150.9 L614.5,150.1 L613.7,147.1 L615.9,145.0 L618.8,145.8 Z" fill="none" stroke="#a4a4a4" stroke-width="1.7"/>
<circle cx="619.6" cy="148.7" r="1.5" fill="url(#gWhite)"/>
<circle cx="617.4" cy="150.9" r="1.5" fill="url(#gWhite)"/>
<circle cx="614.5" cy="150.1" r="1.5" fill="url(#gWhite)"/>
<circle cx="613.7" cy="147.1" r="1.5" fill="url(#gWhite)"/>
<circle cx="615.9" cy="145.0" r="1.5" fill="url(#gWhite)"/>
<circle cx="618.8" cy="145.8" r="1.5" fill="url(#gWhite)"/>
<path d="M631.1,148.2 L628.7,150.5 L625.6,149.6 L624.7,146.4 L627.1,144.1 L630.3,145.0 Z" fill="none" stroke="#a4a4a4" stroke-width="1.7"/>
<circle cx="631.1" cy="148.2" r="1.5" fill="url(#gWhite)"/>
<circle cx="628.7" cy="150.5" r="1.5" fill="url(#gWhite)"/>
<circle cx="625.6" cy="149.6" r="1.5" fill="url(#gWhite)"/>
<circle cx="624.7" cy="146.4" r="1.5" fill="url(#gWhite)"/>
<circle cx="627.1" cy="144.1" r="1.5" fill="url(#gWhite)"/>
<circle cx="630.3" cy="145.0" r="1.5" fill="url(#gWhite)"/>
<path d="M640.5,149.2 L638.7,152.0 L635.4,151.8 L633.9,148.9 L635.7,146.1 L639.0,146.2 Z" fill="none" stroke="#a4a4a4" stroke-width="1.7"/>
<circle cx="640.5" cy="149.2" r="1.5" fill="url(#gWhite)"/>
<circle cx="638.7" cy="152.0" r="1.5" fill="url(#gWhite)"/>
<circle cx="635.4" cy="151.8" r="1.5" fill="url(#gWhite)"/>
<circle cx="633.9" cy="148.9" r="1.5" fill="url(#gWhite)"/>
<circle cx="635.7" cy="146.1" r="1.5" fill="url(#gWhite)"/>
<circle cx="639.0" cy="146.2" r="1.5" fill="url(#gWhite)"/>
<path d="M646.4,150.8 L643.2,151.1 L641.4,148.5 L642.7,145.7 L645.9,145.4 L647.7,148.0 Z" fill="none" stroke="#a4a4a4" stroke-width="1.7"/>
<circle cx="646.4" cy="150.8" r="1.5" fill="url(#gWhite)"/>
<circle cx="643.2" cy="151.1" r="1.5" fill="url(#gWhite)"/>
<circle cx="641.4" cy="148.5" r="1.5" fill="url(#gWhite)"/>
<circle cx="642.7" cy="145.7" r="1.5" fill="url(#gWhite)"/>
<circle cx="645.9" cy="145.4" r="1.5" fill="url(#gWhite)"/>
<circle cx="647.7" cy="148.0" r="1.5" fill="url(#gWhite)"/>
<path d="M491.9,152.6 L488.8,153.1 L486.9,150.7 L488.1,147.8 L491.1,147.4 L493.0,149.8 Z" fill="none" stroke="#a4a4a4" stroke-width="1.7"/>
<circle cx="491.9" cy="152.6" r="1.5" fill="url(#gWhite)"/>
<circle cx="488.8" cy="153.1" r="1.5" fill="url(#gWhite)"/>
<circle cx="486.9" cy="150.7" r="1.5" fill="url(#gWhite)"/>
<circle cx="488.1" cy="147.8" r="1.5" fill="url(#gWhite)"/>
<circle cx="491.1" cy="147.4" r="1.5" fill="url(#gWhite)"/>
<circle cx="493.0" cy="149.8" r="1.5" fill="url(#gWhite)"/>
<path d="M500.5,153.3 L497.4,153.4 L495.7,150.8 L497.1,148.1 L500.2,147.9 L501.9,150.5 Z" fill="none" stroke="#a4a4a4" stroke-width="1.7"/>
<circle cx="500.5" cy="153.3" r="1.5" fill="url(#gWhite)"/>
<circle cx="497.4" cy="153.4" r="1.5" fill="url(#gWhite)"/>
<circle cx="495.7" cy="150.8" r="1.5" fill="url(#gWhite)"/>
<circle cx="497.1" cy="148.1" r="1.5" fill="url(#gWhite)"/>
<circle cx="500.2" cy="147.9" r="1.5" fill="url(#gWhite)"/>
<circle cx="501.9" cy="150.5" r="1.5" fill="url(#gWhite)"/>
<path d="M510.9,151.0 L507.8,152.3 L505.1,150.3 L505.5,146.9 L508.6,145.5 L511.3,147.6 Z" fill="none" stroke="#a4a4a4" stroke-width="1.7"/>
<circle cx="510.9" cy="151.0" r="1.5" fill="url(#gWhite)"/>
<circle cx="507.8" cy="152.3" r="1.5" fill="url(#gWhite)"/>
<circle cx="505.1" cy="150.3" r="1.5" fill="url(#gWhite)"/>
<circle cx="505.5" cy="146.9" r="1.5" fill="url(#gWhite)"/>
<circle cx="508.6" cy="145.5" r="1.5" fill="url(#gWhite)"/>
<circle cx="511.3" cy="147.6" r="1.5" fill="url(#gWhite)"/>
<path d="M520.9,151.8 L519.2,154.4 L516.1,154.3 L514.7,151.5 L516.4,148.9 L519.5,149.1 Z" fill="none" stroke="#a4a4a4" stroke-width="1.7"/>
<circle cx="520.9" cy="151.8" r="1.5" fill="url(#gWhite)"/>
<circle cx="519.2" cy="154.4" r="1.5" fill="url(#gWhite)"/>
<circle cx="516.1" cy="154.3" r="1.5" fill="url(#gWhite)"/>
<circle cx="514.7" cy="151.5" r="1.5" fill="url(#gWhite)"/>
<circle cx="516.4" cy="148.9" r="1.5" fill="url(#gWhite)"/>
<circle cx="519.5" cy="149.1" r="1.5" fill="url(#gWhite)"/>
<path d="M528.1,151.4 L525.8,154.1 L522.4,153.5 L521.3,150.2 L523.5,147.6 L526.9,148.2 Z" fill="none" stroke="#a4a4a4" stroke-width="1.7"/>
<circle cx="528.1" cy="151.4" r="1.5" fill="url(#gWhite)"/>
<circle cx="525.8" cy="154.1" r="1.5" fill="url(#gWhite)"/>
<circle cx="522.4" cy="153.5" r="1.5" fill="url(#gWhite)"/>
<circle cx="521.3" cy="150.2" r="1.5" fill="url(#gWhite)"/>
<circle cx="523.5" cy="147.6" r="1.5" fill="url(#gWhite)"/>
<circle cx="526.9" cy="148.2" r="1.5" fill="url(#gWhite)"/>
<path d="M537.7,155.9 L534.7,156.6 L532.6,154.3 L533.5,151.3 L536.5,150.6 L538.7,152.9 Z" fill="none" stroke="#a4a4a4" stroke-width="1.7"/>
<circle cx="537.7" cy="155.9" r="1.5" fill="url(#gWhite)"/>
<circle cx="534.7" cy="156.6" r="1.5" fill="url(#gWhite)"/>
<circle cx="532.6" cy="154.3" r="1.5" fill="url(#gWhite)"/>
<circle cx="533.5" cy="151.3" r="1.5" fill="url(#gWhite)"/>
<circle cx="536.5" cy="150.6" r="1.5" fill="url(#gWhite)"/>
<circle cx="538.7" cy="152.9" r="1.5" fill="url(#gWhite)"/>
<path d="M550.9,151.7 L549.0,154.7 L545.5,154.5 L543.9,151.4 L545.8,148.4 L549.3,148.6 Z" fill="none" stroke="#a4a4a4" stroke-width="1.7"/>
<circle cx="550.9" cy="151.7" r="1.5" fill="url(#gWhite)"/>
<circle cx="549.0" cy="154.7" r="1.5" fill="url(#gWhite)"/>
<circle cx="545.5" cy="154.5" r="1.5" fill="url(#gWhite)"/>
<circle cx="543.9" cy="151.4" r="1.5" fill="url(#gWhite)"/>
<circle cx="545.8" cy="148.4" r="1.5" fill="url(#gWhite)"/>
<circle cx="549.3" cy="148.6" r="1.5" fill="url(#gWhite)"/>
<path d="M559.5,156.0 L556.3,157.7 L553.3,155.9 L553.3,152.3 L556.4,150.6 L559.5,152.4 Z" fill="none" stroke="#a4a4a4" stroke-width="1.7"/>
<circle cx="559.5" cy="156.0" r="1.5" fill="url(#gWhite)"/>
<circle cx="556.3" cy="157.7" r="1.5" fill="url(#gWhite)"/>
<circle cx="553.3" cy="155.9" r="1.5" fill="url(#gWhite)"/>
<circle cx="553.3" cy="152.3" r="1.5" fill="url(#gWhite)"/>
<circle cx="556.4" cy="150.6" r="1.5" fill="url(#gWhite)"/>
<circle cx="559.5" cy="152.4" r="1.5" fill="url(#gWhite)"/>
<path d="M565.6,153.4 L563.7,156.0 L560.5,155.6 L559.2,152.7 L561.1,150.1 L564.3,150.4 Z" fill="none" stroke="#a4a4a4" stroke-width="1.7"/>
<circle cx="565.6" cy="153.4" r="1.5" fill="url(#gWhite)"/>
<circle cx="563.7" cy="156.0" r="1.5" fill="url(#gWhite)"/>
<circle cx="560.5" cy="155.6" r="1.5" fill="url(#gWhite)"/>
<circle cx="559.2" cy="152.7" r="1.5" fill="url(#gWhite)"/>
<circle cx="561.1" cy="150.1" r="1.5" fill="url(#gWhite)"/>
<circle cx="564.3" cy="150.4" r="1.5" fill="url(#gWhite)"/>
<path d="M572.7,158.0 L569.5,158.2 L567.7,155.5 L569.1,152.6 L572.4,152.4 L574.1,155.1 Z" fill="none" stroke="#a4a4a4" stroke-width="1.7"/>
<circle cx="572.7" cy="158.0" r="1.5" fill="url(#gWhite)"/>
<circle cx="569.5" cy="158.2" r="1.5" fill="url(#gWhite)"/>
<circle cx="567.7" cy="155.5" r="1.5" fill="url(#gWhite)"/>
<circle cx="569.1" cy="152.6" r="1.5" fill="url(#gWhite)"/>
<circle cx="572.4" cy="152.4" r="1.5" fill="url(#gWhite)"/>
<circle cx="574.1" cy="155.1" r="1.5" fill="url(#gWhite)"/>
<path d="M586.0,156.6 L584.0,159.1 L580.9,158.6 L579.7,155.7 L581.6,153.2 L584.7,153.6 Z" fill="none" stroke="#a4a4a4" stroke-width="1.7"/>
<circle cx="586.0" cy="156.6" r="1.5" fill="url(#gWhite)"/>
<circle cx="584.0" cy="159.1" r="1.5" fill="url(#gWhite)"/>
<circle cx="580.9" cy="158.6" r="1.5" fill="url(#gWhite)"/>
<circle cx="579.7" cy="155.7" r="1.5" fill="url(#gWhite)"/>
<circle cx="581.6" cy="153.2" r="1.5" fill="url(#gWhite)"/>
<circle cx="584.7" cy="153.6" r="1.5" fill="url(#gWhite)"/>
<path d="M595.7,155.9 L593.9,158.4 L590.8,158.0 L589.6,155.1 L591.5,152.7 L594.5,153.1 Z" fill="none" stroke="#a4a4a4" stroke-width="1.7"/>
<circle cx="595.7" cy="155.9" r="1.5" fill="url(#gWhite)"/>
<circle cx="593.9" cy="158.4" r="1.5" fill="url(#gWhite)"/>
<circle cx="590.8" cy="158.0" r="1.5" fill="url(#gWhite)"/>
<circle cx="589.6" cy="155.1" r="1.5" fill="url(#gWhite)"/>
<circle cx="591.5" cy="152.7" r="1.5" fill="url(#gWhite)"/>
<circle cx="594.5" cy="153.1" r="1.5" fill="url(#gWhite)"/>
<path d="M603.5,158.1 L600.3,158.5 L598.4,155.9 L599.6,153.0 L602.8,152.6 L604.8,155.1 Z" fill="none" stroke="#a4a4a4" stroke-width="1.7"/>
<circle cx="603.5" cy="158.1" r="1.5" fill="url(#gWhite)"/>
<circle cx="600.3" cy="158.5" r="1.5" fill="url(#gWhite)"/>
<circle cx="598.4" cy="155.9" r="1.5" fill="url(#gWhite)"/>
<circle cx="599.6" cy="153.0" r="1.5" fill="url(#gWhite)"/>
<circle cx="602.8" cy="152.6" r="1.5" fill="url(#gWhite)"/>
<circle cx="604.8" cy="155.1" r="1.5" fill="url(#gWhite)"/>
<path d="M610.6,156.7 L608.6,159.0 L605.6,158.4 L604.6,155.6 L606.6,153.3 L609.6,153.8 Z" fill="none" stroke="#a4a4a4" stroke-width="1.7"/>
<circle cx="610.6" cy="156.7" r="1.5" fill="url(#gWhite)"/>
<circle cx="608.6" cy="159.0" r="1.5" fill="url(#gWhite)"/>
<circle cx="605.6" cy="158.4" r="1.5" fill="url(#gWhite)"/>
<circle cx="604.6" cy="155.6" r="1.5" fill="url(#gWhite)"/>
<circle cx="606.6" cy="153.3" r="1.5" fill="url(#gWhite)"/>
<circle cx="609.6" cy="153.8" r="1.5" fill="url(#gWhite)"/>
<path d="M618.3,157.4 L614.7,157.6 L612.8,154.6 L614.4,151.4 L617.9,151.2 L619.9,154.2 Z" fill="none" stroke="#a4a4a4" stroke-width="1.7"/>
<circle cx="618.3" cy="157.4" r="1.5" fill="url(#gWhite)"/>
<circle cx="614.7" cy="157.6" r="1.5" fill="url(#gWhite)"/>
<circle cx="612.8" cy="154.6" r="1.5" fill="url(#gWhite)"/>
<circle cx="614.4" cy="151.4" r="1.5" fill="url(#gWhite)"/>
<circle cx="617.9" cy="151.2" r="1.5" fill="url(#gWhite)"/>
<circle cx="619.9" cy="154.2" r="1.5" fill="url(#gWhite)"/>
<path d="M632.9,155.3 L630.4,157.9 L626.9,157.0 L625.9,153.5 L628.4,151.0 L631.9,151.8 Z" fill="none" stroke="#a4a4a4" stroke-width="1.7"/>
<circle cx="632.9" cy="155.3" r="1.5" fill="url(#gWhite)"/>
<circle cx="630.4" cy="157.9" r="1.5" fill="url(#gWhite)"/>
<circle cx="626.9" cy="157.0" r="1.5" fill="url(#gWhite)"/>
<circle cx="625.9" cy="153.5" r="1.5" fill="url(#gWhite)"/>
<circle cx="628.4" cy="151.0" r="1.5" fill="url(#gWhite)"/>
<circle cx="631.9" cy="151.8" r="1.5" fill="url(#gWhite)"/>
<path d="M637.0,157.8 L633.8,158.1 L632.0,155.5 L633.3,152.6 L636.5,152.3 L638.4,154.9 Z" fill="none" stroke="#a4a4a4" stroke-width="1.7"/>
<circle cx="637.0" cy="157.8" r="1.5" fill="url(#gWhite)"/>
<circle cx="633.8" cy="158.1" r="1.5" fill="url(#gWhite)"/>
<circle cx="632.0" cy="155.5" r="1.5" fill="url(#gWhite)"/>
<circle cx="633.3" cy="152.6" r="1.5" fill="url(#gWhite)"/>
<circle cx="636.5" cy="152.3" r="1.5" fill="url(#gWhite)"/>
<circle cx="638.4" cy="154.9" r="1.5" fill="url(#gWhite)"/>
<path d="M491.6,161.8 L488.5,162.9 L486.0,160.8 L486.6,157.6 L489.7,156.5 L492.2,158.6 Z" fill="none" stroke="#a4a4a4" stroke-width="1.7"/>
<circle cx="491.6" cy="161.8" r="1.5" fill="url(#gWhite)"/>
<circle cx="488.5" cy="162.9" r="1.5" fill="url(#gWhite)"/>
<circle cx="486.0" cy="160.8" r="1.5" fill="url(#gWhite)"/>
<circle cx="486.6" cy="157.6" r="1.5" fill="url(#gWhite)"/>
<circle cx="489.7" cy="156.5" r="1.5" fill="url(#gWhite)"/>
<circle cx="492.2" cy="158.6" r="1.5" fill="url(#gWhite)"/>
<path d="M502.0,160.3 L500.3,163.0 L497.2,162.9 L495.6,160.2 L497.3,157.4 L500.5,157.5 Z" fill="none" stroke="#a4a4a4" stroke-width="1.7"/>
<circle cx="502.0" cy="160.3" r="1.5" fill="url(#gWhite)"/>
<circle cx="500.3" cy="163.0" r="1.5" fill="url(#gWhite)"/>
<circle cx="497.2" cy="162.9" r="1.5" fill="url(#gWhite)"/>
<circle cx="495.6" cy="160.2" r="1.5" fill="url(#gWhite)"/>
<circle cx="497.3" cy="157.4" r="1.5" fill="url(#gWhite)"/>
<circle cx="500.5" cy="157.5" r="1.5" fill="url(#gWhite)"/>
<path d="M513.1,162.9 L510.1,163.8 L507.7,161.6 L508.4,158.5 L511.5,157.6 L513.8,159.7 Z" fill="none" stroke="#a4a4a4" stroke-width="1.7"/>
<circle cx="513.1" cy="162.9" r="1.5" fill="url(#gWhite)"/>
<circle cx="510.1" cy="163.8" r="1.5" fill="url(#gWhite)"/>
<circle cx="507.7" cy="161.6" r="1.5" fill="url(#gWhite)"/>
<circle cx="508.4" cy="158.5" r="1.5" fill="url(#gWhite)"/>
<circle cx="511.5" cy="157.6" r="1.5" fill="url(#gWhite)"/>
<circle cx="513.8" cy="159.7" r="1.5" fill="url(#gWhite)"/>
<path d="M524.3,161.8 L521.2,163.4 L518.3,161.5 L518.4,158.0 L521.5,156.4 L524.4,158.3 Z" fill="none" stroke="#a4a4a4" stroke-width="1.7"/>
<circle cx="524.3" cy="161.8" r="1.5" fill="url(#gWhite)"/>
<circle cx="521.2" cy="163.4" r="1.5" fill="url(#gWhite)"/>
<circle cx="518.3" cy="161.5" r="1.5" fill="url(#gWhite)"/>
<circle cx="518.4" cy="158.0" r="1.5" fill="url(#gWhite)"/>
<circle cx="521.5" cy="156.4" r="1.5" fill="url(#gWhite)"/>
<circle cx="524.4" cy="158.3" r="1.5" fill="url(#gWhite)"/>
<path d="M532.6,159.4 L529.7,161.0 L526.9,159.3 L527.0,156.0 L529.8,154.4 L532.7,156.1 Z" fill="none" stroke="#a4a4a4" stroke-width="1.7"/>
<circle cx="532.6" cy="159.4" r="1.5" fill="url(#gWhite)"/>
<circle cx="529.7" cy="161.0" r="1.5" fill="url(#gWhite)"/>
<circle cx="526.9" cy="159.3" r="1.5" fill="url(#gWhite)"/>
<circle cx="527.0" cy="156.0" r="1.5" fill="url(#gWhite)"/>
<circle cx="529.8" cy="154.4" r="1.5" fill="url(#gWhite)"/>
<circle cx="532.7" cy="156.1" r="1.5" fill="url(#gWhite)"/>
<path d="M541.6,162.2 L538.8,163.8 L536.0,162.2 L536.0,158.9 L538.9,157.3 L541.7,159.0 Z" fill="none" stroke="#a4a4a4" stroke-width="1.7"/>
<circle cx="541.6" cy="162.2" r="1.5" fill="url(#gWhite)"/>
<circle cx="538.8" cy="163.8" r="1.5" fill="url(#gWhite)"/>
<circle cx="536.0" cy="162.2" r="1.5" fill="url(#gWhite)"/>
<circle cx="536.0" cy="158.9" r="1.5" fill="url(#gWhite)"/>
<circle cx="538.9" cy="157.3" r="1.5" fill="url(#gWhite)"/>
<circle cx="541.7" cy="159.0" r="1.5" fill="url(#gWhite)"/>
<path d="M551.2,159.7 L548.9,162.4 L545.5,161.7 L544.3,158.3 L546.7,155.7 L550.1,156.4 Z" fill="none" stroke="#a4a4a4" stroke-width="1.7"/>
<circle cx="551.2" cy="159.7" r="1.5" fill="url(#gWhite)"/>
<circle cx="548.9" cy="162.4" r="1.5" fill="url(#gWhite)"/>
<circle cx="545.5" cy="161.7" r="1.5" fill="url(#gWhite)"/>
<circle cx="544.3" cy="158.3" r="1.5" fill="url(#gWhite)"/>
<circle cx="546.7" cy="155.7" r="1.5" fill="url(#gWhite)"/>
<circle cx="550.1" cy="156.4" r="1.5" fill="url(#gWhite)"/>
<path d="M559.1,166.4 L555.8,166.8 L553.8,164.1 L555.1,161.0 L558.5,160.6 L560.5,163.3 Z" fill="none" stroke="#a4a4a4" stroke-width="1.7"/>
<circle cx="559.1" cy="166.4" r="1.5" fill="url(#gWhite)"/>
<circle cx="555.8" cy="166.8" r="1.5" fill="url(#gWhite)"/>
<circle cx="553.8" cy="164.1" r="1.5" fill="url(#gWhite)"/>
<circle cx="555.1" cy="161.0" r="1.5" fill="url(#gWhite)"/>
<circle cx="558.5" cy="160.6" r="1.5" fill="url(#gWhite)"/>
<circle cx="560.5" cy="163.3" r="1.5" fill="url(#gWhite)"/>
<path d="M566.4,161.7 L564.1,164.4 L560.6,163.8 L559.5,160.5 L561.7,157.8 L565.2,158.4 Z" fill="none" stroke="#a4a4a4" stroke-width="1.7"/>
<circle cx="566.4" cy="161.7" r="1.5" fill="url(#gWhite)"/>
<circle cx="564.1" cy="164.4" r="1.5" fill="url(#gWhite)"/>
<circle cx="560.6" cy="163.8" r="1.5" fill="url(#gWhite)"/>
<circle cx="559.5" cy="160.5" r="1.5" fill="url(#gWhite)"/>
<circle cx="561.7" cy="157.8" r="1.5" fill="url(#gWhite)"/>
<circle cx="565.2" cy="158.4" r="1.5" fill="url(#gWhite)"/>
<path d="M577.0,166.8 L573.5,167.5 L571.1,164.9 L572.2,161.5 L575.7,160.7 L578.1,163.4 Z" fill="none" stroke="#a4a4a4" stroke-width="1.7"/>
<circle cx="577.0" cy="166.8" r="1.5" fill="url(#gWhite)"/>
<circle cx="573.5" cy="167.5" r="1.5" fill="url(#gWhite)"/>
<circle cx="571.1" cy="164.9" r="1.5" fill="url(#gWhite)"/>
<circle cx="572.2" cy="161.5" r="1.5" fill="url(#gWhite)"/>
<circle cx="575.7" cy="160.7" r="1.5" fill="url(#gWhite)"/>
<circle cx="578.1" cy="163.4" r="1.5" fill="url(#gWhite)"/>
<path d="M585.2,162.2 L583.0,164.4 L580.0,163.6 L579.2,160.6 L581.4,158.4 L584.4,159.2 Z" fill="none" stroke="#a4a4a4" stroke-width="1.7"/>
<circle cx="585.2" cy="162.2" r="1.5" fill="url(#gWhite)"/>
<circle cx="583.0" cy="164.4" r="1.5" fill="url(#gWhite)"/>
<circle cx="580.0" cy="163.6" r="1.5" fill="url(#gWhite)"/>
<circle cx="579.2" cy="160.6" r="1.5" fill="url(#gWhite)"/>
<circle cx="581.4" cy="158.4" r="1.5" fill="url(#gWhite)"/>
<circle cx="584.4" cy="159.2" r="1.5" fill="url(#gWhite)"/>
<path d="M594.6,164.2 L592.9,166.9 L589.7,166.7 L588.3,163.9 L590.0,161.3 L593.2,161.5 Z" fill="none" stroke="#a4a4a4" stroke-width="1.7"/>
<circle cx="594.6" cy="164.2" r="1.5" fill="url(#gWhite)"/>
<circle cx="592.9" cy="166.9" r="1.5" fill="url(#gWhite)"/>
<circle cx="589.7" cy="166.7" r="1.5" fill="url(#gWhite)"/>
<circle cx="588.3" cy="163.9" r="1.5" fill="url(#gWhite)"/>
<circle cx="590.0" cy="161.3" r="1.5" fill="url(#gWhite)"/>
<circle cx="593.2" cy="161.5" r="1.5" fill="url(#gWhite)"/>
<path d="M606.5,164.9 L603.6,167.0 L600.3,165.6 L599.9,162.0 L602.8,159.9 L606.0,161.3 Z" fill="none" stroke="#a4a4a4" stroke-width="1.7"/>
<circle cx="606.5" cy="164.9" r="1.5" fill="url(#gWhite)"/>
<circle cx="603.6" cy="167.0" r="1.5" fill="url(#gWhite)"/>
<circle cx="600.3" cy="165.6" r="1.5" fill="url(#gWhite)"/>
<circle cx="599.9" cy="162.0" r="1.5" fill="url(#gWhite)"/>
<circle cx="602.8" cy="159.9" r="1.5" fill="url(#gWhite)"/>
<circle cx="606.0" cy="161.3" r="1.5" fill="url(#gWhite)"/>
<path d="M613.9,164.4 L611.8,167.2 L608.3,166.8 L606.9,163.6 L609.0,160.8 L612.5,161.2 Z" fill="none" stroke="#a4a4a4" stroke-width="1.7"/>
<circle cx="613.9" cy="164.4" r="1.5" fill="url(#gWhite)"/>
<circle cx="611.8" cy="167.2" r="1.5" fill="url(#gWhite)"/>
<circle cx="608.3" cy="166.8" r="1.5" fill="url(#gWhite)"/>
<circle cx="606.9" cy="163.6" r="1.5" fill="url(#gWhite)"/>
<circle cx="609.0" cy="160.8" r="1.5" fill="url(#gWhite)"/>
<circle cx="612.5" cy="161.2" r="1.5" fill="url(#gWhite)"/>
<path d="M621.5,166.9 L618.5,167.4 L616.6,165.1 L617.6,162.3 L620.6,161.8 L622.5,164.1 Z" fill="none" stroke="#a4a4a4" stroke-width="1.7"/>
<circle cx="621.5" cy="166.9" r="1.5" fill="url(#gWhite)"/>
<circle cx="618.5" cy="167.4" r="1.5" fill="url(#gWhite)"/>
<circle cx="616.6" cy="165.1" r="1.5" fill="url(#gWhite)"/>
<circle cx="617.6" cy="162.3" r="1.5" fill="url(#gWhite)"/>
<circle cx="620.6" cy="161.8" r="1.5" fill="url(#gWhite)"/>
<circle cx="622.5" cy="164.1" r="1.5" fill="url(#gWhite)"/>
<path d="M629.3,168.4 L625.8,168.6 L623.9,165.7 L625.5,162.6 L629.0,162.4 L630.9,165.3 Z" fill="none" stroke="#a4a4a4" stroke-width="1.7"/>
<circle cx="629.3" cy="168.4" r="1.5" fill="url(#gWhite)"/>
<circle cx="625.8" cy="168.6" r="1.5" fill="url(#gWhite)"/>
<circle cx="623.9" cy="165.7" r="1.5" fill="url(#gWhite)"/>
<circle cx="625.5" cy="162.6" r="1.5" fill="url(#gWhite)"/>
<circle cx="629.0" cy="162.4" r="1.5" fill="url(#gWhite)"/>
<circle cx="630.9" cy="165.3" r="1.5" fill="url(#gWhite)"/>
<path d="M644.0,167.3 L641.1,169.0 L638.1,167.3 L638.1,163.9 L641.1,162.2 L644.0,163.9 Z" fill="none" stroke="#a4a4a4" stroke-width="1.7"/>
<circle cx="644.0" cy="167.3" r="1.5" fill="url(#gWhite)"/>
<circle cx="641.1" cy="169.0" r="1.5" fill="url(#gWhite)"/>
<circle cx="638.1" cy="167.3" r="1.5" fill="url(#gWhite)"/>
<circle cx="638.1" cy="163.9" r="1.5" fill="url(#gWhite)"/>
<circle cx="641.1" cy="162.2" r="1.5" fill="url(#gWhite)"/>
<circle cx="644.0" cy="163.9" r="1.5" fill="url(#gWhite)"/>
<path d="M652.6,165.1 L650.6,167.9 L647.1,167.6 L645.7,164.5 L647.7,161.7 L651.1,162.0 Z" fill="none" stroke="#a4a4a4" stroke-width="1.7"/>
<circle cx="652.6" cy="165.1" r="1.5" fill="url(#gWhite)"/>
<circle cx="650.6" cy="167.9" r="1.5" fill="url(#gWhite)"/>
<circle cx="647.1" cy="167.6" r="1.5" fill="url(#gWhite)"/>
<circle cx="645.7" cy="164.5" r="1.5" fill="url(#gWhite)"/>
<circle cx="647.7" cy="161.7" r="1.5" fill="url(#gWhite)"/>
<circle cx="651.1" cy="162.0" r="1.5" fill="url(#gWhite)"/>
<path d="M497.0,169.5 L494.2,171.4 L491.2,170.0 L490.9,166.7 L493.7,164.8 L496.7,166.2 Z" fill="none" stroke="#a4a4a4" stroke-width="1.7"/>
<circle cx="497.0" cy="169.5" r="1.5" fill="url(#gWhite)"/>
<circle cx="494.2" cy="171.4" r="1.5" fill="url(#gWhite)"/>
<circle cx="491.2" cy="170.0" r="1.5" fill="url(#gWhite)"/>
<circle cx="490.9" cy="166.7" r="1.5" fill="url(#gWhite)"/>
<circle cx="493.7" cy="164.8" r="1.5" fill="url(#gWhite)"/>
<circle cx="496.7" cy="166.2" r="1.5" fill="url(#gWhite)"/>
<path d="M505.6,169.1 L502.8,170.5 L500.3,168.7 L500.5,165.6 L503.3,164.3 L505.9,166.1 Z" fill="none" stroke="#a4a4a4" stroke-width="1.7"/>
<circle cx="505.6" cy="169.1" r="1.5" fill="url(#gWhite)"/>
<circle cx="502.8" cy="170.5" r="1.5" fill="url(#gWhite)"/>
<circle cx="500.3" cy="168.7" r="1.5" fill="url(#gWhite)"/>
<circle cx="500.5" cy="165.6" r="1.5" fill="url(#gWhite)"/>
<circle cx="503.3" cy="164.3" r="1.5" fill="url(#gWhite)"/>
<circle cx="505.9" cy="166.1" r="1.5" fill="url(#gWhite)"/>
<path d="M514.1,170.1 L511.4,171.7 L508.6,170.2 L508.5,167.0 L511.3,165.3 L514.1,166.9 Z" fill="none" stroke="#a4a4a4" stroke-width="1.7"/>
<circle cx="514.1" cy="170.1" r="1.5" fill="url(#gWhite)"/>
<circle cx="511.4" cy="171.7" r="1.5" fill="url(#gWhite)"/>
<circle cx="508.6" cy="170.2" r="1.5" fill="url(#gWhite)"/>
<circle cx="508.5" cy="167.0" r="1.5" fill="url(#gWhite)"/>
<circle cx="511.3" cy="165.3" r="1.5" fill="url(#gWhite)"/>
<circle cx="514.1" cy="166.9" r="1.5" fill="url(#gWhite)"/>
<path d="M525.6,167.6 L523.2,169.7 L520.2,168.7 L519.5,165.5 L521.9,163.4 L525.0,164.4 Z" fill="none" stroke="#a4a4a4" stroke-width="1.7"/>
<circle cx="525.6" cy="167.6" r="1.5" fill="url(#gWhite)"/>
<circle cx="523.2" cy="169.7" r="1.5" fill="url(#gWhite)"/>
<circle cx="520.2" cy="168.7" r="1.5" fill="url(#gWhite)"/>
<circle cx="519.5" cy="165.5" r="1.5" fill="url(#gWhite)"/>
<circle cx="521.9" cy="163.4" r="1.5" fill="url(#gWhite)"/>
<circle cx="525.0" cy="164.4" r="1.5" fill="url(#gWhite)"/>
<path d="M530.4,171.9 L527.5,173.2 L524.9,171.4 L525.1,168.2 L528.0,166.8 L530.7,168.7 Z" fill="none" stroke="#a4a4a4" stroke-width="1.7"/>
<circle cx="530.4" cy="171.9" r="1.5" fill="url(#gWhite)"/>
<circle cx="527.5" cy="173.2" r="1.5" fill="url(#gWhite)"/>
<circle cx="524.9" cy="171.4" r="1.5" fill="url(#gWhite)"/>
<circle cx="525.1" cy="168.2" r="1.5" fill="url(#gWhite)"/>
<circle cx="528.0" cy="166.8" r="1.5" fill="url(#gWhite)"/>
<circle cx="530.7" cy="168.7" r="1.5" fill="url(#gWhite)"/>
<path d="M543.2,172.3 L539.6,172.7 L537.5,169.8 L539.0,166.5 L542.5,166.1 L544.6,169.0 Z" fill="none" stroke="#a4a4a4" stroke-width="1.7"/>
<circle cx="543.2" cy="172.3" r="1.5" fill="url(#gWhite)"/>
<circle cx="539.6" cy="172.7" r="1.5" fill="url(#gWhite)"/>
<circle cx="537.5" cy="169.8" r="1.5" fill="url(#gWhite)"/>
<circle cx="539.0" cy="166.5" r="1.5" fill="url(#gWhite)"/>
<circle cx="542.5" cy="166.1" r="1.5" fill="url(#gWhite)"/>
<circle cx="544.6" cy="169.0" r="1.5" fill="url(#gWhite)"/>
<path d="M550.3,173.5 L546.8,174.2 L544.5,171.6 L545.6,168.3 L549.0,167.5 L551.4,170.2 Z" fill="none" stroke="#a4a4a4" stroke-width="1.7"/>
<circle cx="550.3" cy="173.5" r="1.5" fill="url(#gWhite)"/>
<circle cx="546.8" cy="174.2" r="1.5" fill="url(#gWhite)"/>
<circle cx="544.5" cy="171.6" r="1.5" fill="url(#gWhite)"/>
<circle cx="545.6" cy="168.3" r="1.5" fill="url(#gWhite)"/>
<circle cx="549.0" cy="167.5" r="1.5" fill="url(#gWhite)"/>
<circle cx="551.4" cy="170.2" r="1.5" fill="url(#gWhite)"/>
<path d="M557.6,171.8 L554.4,172.0 L552.7,169.4 L554.1,166.5 L557.2,166.3 L559.0,168.9 Z" fill="none" stroke="#a4a4a4" stroke-width="1.7"/>
<circle cx="557.6" cy="171.8" r="1.5" fill="url(#gWhite)"/>
<circle cx="554.4" cy="172.0" r="1.5" fill="url(#gWhite)"/>
<circle cx="552.7" cy="169.4" r="1.5" fill="url(#gWhite)"/>
<circle cx="554.1" cy="166.5" r="1.5" fill="url(#gWhite)"/>
<circle cx="557.2" cy="166.3" r="1.5" fill="url(#gWhite)"/>
<circle cx="559.0" cy="168.9" r="1.5" fill="url(#gWhite)"/>
<path d="M568.2,171.6 L566.3,174.1 L563.2,173.8 L562.0,170.8 L563.9,168.3 L567.0,168.7 Z" fill="none" stroke="#a4a4a4" stroke-width="1.7"/>
<circle cx="568.2" cy="171.6" r="1.5" fill="url(#gWhite)"/>
<circle cx="566.3" cy="174.1" r="1.5" fill="url(#gWhite)"/>
<circle cx="563.2" cy="173.8" r="1.5" fill="url(#gWhite)"/>
<circle cx="562.0" cy="170.8" r="1.5" fill="url(#gWhite)"/>
<circle cx="563.9" cy="168.3" r="1.5" fill="url(#gWhite)"/>
<circle cx="567.0" cy="168.7" r="1.5" fill="url(#gWhite)"/>
<path d="M577.3,172.2 L574.2,173.2 L571.7,171.0 L572.4,167.8 L575.6,166.7 L578.0,168.9 Z" fill="none" stroke="#a4a4a4" stroke-width="1.7"/>
<circle cx="577.3" cy="172.2" r="1.5" fill="url(#gWhite)"/>
<circle cx="574.2" cy="173.2" r="1.5" fill="url(#gWhite)"/>
<circle cx="571.7" cy="171.0" r="1.5" fill="url(#gWhite)"/>
<circle cx="572.4" cy="167.8" r="1.5" fill="url(#gWhite)"/>
<circle cx="575.6" cy="166.7" r="1.5" fill="url(#gWhite)"/>
<circle cx="578.0" cy="168.9" r="1.5" fill="url(#gWhite)"/>
<path d="M588.5,176.0 L585.6,177.2 L583.0,175.3 L583.4,172.1 L586.3,170.9 L588.9,172.8 Z" fill="none" stroke="#a4a4a4" stroke-width="1.7"/>
<circle cx="588.5" cy="176.0" r="1.5" fill="url(#gWhite)"/>
<circle cx="585.6" cy="177.2" r="1.5" fill="url(#gWhite)"/>
<circle cx="583.0" cy="175.3" r="1.5" fill="url(#gWhite)"/>
<circle cx="583.4" cy="172.1" r="1.5" fill="url(#gWhite)"/>
<circle cx="586.3" cy="170.9" r="1.5" fill="url(#gWhite)"/>
<circle cx="588.9" cy="172.8" r="1.5" fill="url(#gWhite)"/>
<path d="M595.0,175.9 L591.8,176.2 L590.0,173.6 L591.4,170.7 L594.5,170.5 L596.3,173.1 Z" fill="none" stroke="#a4a4a4" stroke-width="1.7"/>
<circle cx="595.0" cy="175.9" r="1.5" fill="url(#gWhite)"/>
<circle cx="591.8" cy="176.2" r="1.5" fill="url(#gWhite)"/>
<circle cx="590.0" cy="173.6" r="1.5" fill="url(#gWhite)"/>
<circle cx="591.4" cy="170.7" r="1.5" fill="url(#gWhite)"/>
<circle cx="594.5" cy="170.5" r="1.5" fill="url(#gWhite)"/>
<circle cx="596.3" cy="173.1" r="1.5" fill="url(#gWhite)"/>
<path d="M605.9,176.1 L603.1,177.8 L600.2,176.3 L600.1,173.1 L602.8,171.3 L605.7,172.8 Z" fill="none" stroke="#a4a4a4" stroke-width="1.7"/>
<circle cx="605.9" cy="176.1" r="1.5" fill="url(#gWhite)"/>
<circle cx="603.1" cy="177.8" r="1.5" fill="url(#gWhite)"/>
<circle cx="600.2" cy="176.3" r="1.5" fill="url(#gWhite)"/>
<circle cx="600.1" cy="173.1" r="1.5" fill="url(#gWhite)"/>
<circle cx="602.8" cy="171.3" r="1.5" fill="url(#gWhite)"/>
<circle cx="605.7" cy="172.8" r="1.5" fill="url(#gWhite)"/>
<path d="M615.2,174.7 L611.9,175.3 L609.8,172.7 L610.9,169.6 L614.2,169.0 L616.3,171.6 Z" fill="none" stroke="#a4a4a4" stroke-width="1.7"/>
<circle cx="615.2" cy="174.7" r="1.5" fill="url(#gWhite)"/>
<circle cx="611.9" cy="175.3" r="1.5" fill="url(#gWhite)"/>
<circle cx="609.8" cy="172.7" r="1.5" fill="url(#gWhite)"/>
<circle cx="610.9" cy="169.6" r="1.5" fill="url(#gWhite)"/>
<circle cx="614.2" cy="169.0" r="1.5" fill="url(#gWhite)"/>
<circle cx="616.3" cy="171.6" r="1.5" fill="url(#gWhite)"/>
<path d="M623.5,173.2 L620.4,175.0 L617.3,173.2 L617.3,169.6 L620.4,167.8 L623.5,169.6 Z" fill="none" stroke="#a4a4a4" stroke-width="1.7"/>
<circle cx="623.5" cy="173.2" r="1.5" fill="url(#gWhite)"/>
<circle cx="620.4" cy="175.0" r="1.5" fill="url(#gWhite)"/>
<circle cx="617.3" cy="173.2" r="1.5" fill="url(#gWhite)"/>
<circle cx="617.3" cy="169.6" r="1.5" fill="url(#gWhite)"/>
<circle cx="620.4" cy="167.8" r="1.5" fill="url(#gWhite)"/>
<circle cx="623.5" cy="169.6" r="1.5" fill="url(#gWhite)"/>
<path d="M633.6,175.6 L630.6,177.0 L627.9,175.1 L628.2,171.8 L631.2,170.5 L633.9,172.4 Z" fill="none" stroke="#a4a4a4" stroke-width="1.7"/>
<circle cx="633.6" cy="175.6" r="1.5" fill="url(#gWhite)"/>
<circle cx="630.6" cy="177.0" r="1.5" fill="url(#gWhite)"/>
<circle cx="627.9" cy="175.1" r="1.5" fill="url(#gWhite)"/>
<circle cx="628.2" cy="171.8" r="1.5" fill="url(#gWhite)"/>
<circle cx="631.2" cy="170.5" r="1.5" fill="url(#gWhite)"/>
<circle cx="633.9" cy="172.4" r="1.5" fill="url(#gWhite)"/>
<path d="M641.3,175.4 L638.9,177.1 L636.1,175.9 L635.8,172.8 L638.3,171.1 L641.0,172.3 Z" fill="none" stroke="#a4a4a4" stroke-width="1.7"/>
<circle cx="641.3" cy="175.4" r="1.5" fill="url(#gWhite)"/>
<circle cx="638.9" cy="177.1" r="1.5" fill="url(#gWhite)"/>
<circle cx="636.1" cy="175.9" r="1.5" fill="url(#gWhite)"/>
<circle cx="635.8" cy="172.8" r="1.5" fill="url(#gWhite)"/>
<circle cx="638.3" cy="171.1" r="1.5" fill="url(#gWhite)"/>
<circle cx="641.0" cy="172.3" r="1.5" fill="url(#gWhite)"/>
<path d="M651.0,179.1 L647.6,180.1 L645.1,177.6 L646.0,174.2 L649.4,173.3 L651.9,175.7 Z" fill="none" stroke="#a4a4a4" stroke-width="1.7"/>
<circle cx="651.0" cy="179.1" r="1.5" fill="url(#gWhite)"/>
<circle cx="647.6" cy="180.1" r="1.5" fill="url(#gWhite)"/>
<circle cx="645.1" cy="177.6" r="1.5" fill="url(#gWhite)"/>
<circle cx="646.0" cy="174.2" r="1.5" fill="url(#gWhite)"/>
<circle cx="649.4" cy="173.3" r="1.5" fill="url(#gWhite)"/>
<circle cx="651.9" cy="175.7" r="1.5" fill="url(#gWhite)"/>
<path d="M494.7,180.3 L491.7,180.9 L489.7,178.6 L490.7,175.8 L493.7,175.2 L495.7,177.5 Z" fill="none" stroke="#a4a4a4" stroke-width="1.7"/>
<circle cx="494.7" cy="180.3" r="1.5" fill="url(#gWhite)"/>
<circle cx="491.7" cy="180.9" r="1.5" fill="url(#gWhite)"/>
<circle cx="489.7" cy="178.6" r="1.5" fill="url(#gWhite)"/>
<circle cx="490.7" cy="175.8" r="1.5" fill="url(#gWhite)"/>
<circle cx="493.7" cy="175.2" r="1.5" fill="url(#gWhite)"/>
<circle cx="495.7" cy="177.5" r="1.5" fill="url(#gWhite)"/>
<path d="M505.4,179.3 L502.2,179.5 L500.4,176.8 L501.8,173.9 L505.0,173.7 L506.8,176.4 Z" fill="none" stroke="#a4a4a4" stroke-width="1.7"/>
<circle cx="505.4" cy="179.3" r="1.5" fill="url(#gWhite)"/>
<circle cx="502.2" cy="179.5" r="1.5" fill="url(#gWhite)"/>
<circle cx="500.4" cy="176.8" r="1.5" fill="url(#gWhite)"/>
<circle cx="501.8" cy="173.9" r="1.5" fill="url(#gWhite)"/>
<circle cx="505.0" cy="173.7" r="1.5" fill="url(#gWhite)"/>
<circle cx="506.8" cy="176.4" r="1.5" fill="url(#gWhite)"/>
<path d="M515.9,179.0 L513.7,181.3 L510.6,180.7 L509.6,177.6 L511.8,175.2 L514.9,175.9 Z" fill="none" stroke="#a4a4a4" stroke-width="1.7"/>
<circle cx="515.9" cy="179.0" r="1.5" fill="url(#gWhite)"/>
<circle cx="513.7" cy="181.3" r="1.5" fill="url(#gWhite)"/>
<circle cx="510.6" cy="180.7" r="1.5" fill="url(#gWhite)"/>
<circle cx="509.6" cy="177.6" r="1.5" fill="url(#gWhite)"/>
<circle cx="511.8" cy="175.2" r="1.5" fill="url(#gWhite)"/>
<circle cx="514.9" cy="175.9" r="1.5" fill="url(#gWhite)"/>
<path d="M525.8,180.0 L522.5,180.5 L520.4,177.9 L521.6,174.8 L524.9,174.3 L527.0,176.8 Z" fill="none" stroke="#a4a4a4" stroke-width="1.7"/>
<circle cx="525.8" cy="180.0" r="1.5" fill="url(#gWhite)"/>
<circle cx="522.5" cy="180.5" r="1.5" fill="url(#gWhite)"/>
<circle cx="520.4" cy="177.9" r="1.5" fill="url(#gWhite)"/>
<circle cx="521.6" cy="174.8" r="1.5" fill="url(#gWhite)"/>
<circle cx="524.9" cy="174.3" r="1.5" fill="url(#gWhite)"/>
<circle cx="527.0" cy="176.8" r="1.5" fill="url(#gWhite)"/>
<path d="M533.3,181.2 L530.1,181.8 L528.0,179.3 L529.1,176.2 L532.3,175.6 L534.4,178.1 Z" fill="none" stroke="#a4a4a4" stroke-width="1.7"/>
<circle cx="533.3" cy="181.2" r="1.5" fill="url(#gWhite)"/>
<circle cx="530.1" cy="181.8" r="1.5" fill="url(#gWhite)"/>
<circle cx="528.0" cy="179.3" r="1.5" fill="url(#gWhite)"/>
<circle cx="529.1" cy="176.2" r="1.5" fill="url(#gWhite)"/>
<circle cx="532.3" cy="175.6" r="1.5" fill="url(#gWhite)"/>
<circle cx="534.4" cy="178.1" r="1.5" fill="url(#gWhite)"/>
<path d="M545.5,178.8 L542.8,181.0 L539.6,179.8 L539.1,176.4 L541.7,174.2 L544.9,175.4 Z" fill="none" stroke="#a4a4a4" stroke-width="1.7"/>
<circle cx="545.5" cy="178.8" r="1.5" fill="url(#gWhite)"/>
<circle cx="542.8" cy="181.0" r="1.5" fill="url(#gWhite)"/>
<circle cx="539.6" cy="179.8" r="1.5" fill="url(#gWhite)"/>
<circle cx="539.1" cy="176.4" r="1.5" fill="url(#gWhite)"/>
<circle cx="541.7" cy="174.2" r="1.5" fill="url(#gWhite)"/>
<circle cx="544.9" cy="175.4" r="1.5" fill="url(#gWhite)"/>
<path d="M553.7,182.4 L550.9,184.1 L548.1,182.5 L548.1,179.4 L550.8,177.7 L553.6,179.3 Z" fill="none" stroke="#a4a4a4" stroke-width="1.7"/>
<circle cx="553.7" cy="182.4" r="1.5" fill="url(#gWhite)"/>
<circle cx="550.9" cy="184.1" r="1.5" fill="url(#gWhite)"/>
<circle cx="548.1" cy="182.5" r="1.5" fill="url(#gWhite)"/>
<circle cx="548.1" cy="179.4" r="1.5" fill="url(#gWhite)"/>
<circle cx="550.8" cy="177.7" r="1.5" fill="url(#gWhite)"/>
<circle cx="553.6" cy="179.3" r="1.5" fill="url(#gWhite)"/>
<path d="M561.8,178.9 L559.2,181.0 L556.2,179.8 L555.7,176.6 L558.2,174.5 L561.3,175.7 Z" fill="none" stroke="#a4a4a4" stroke-width="1.7"/>
<circle cx="561.8" cy="178.9" r="1.5" fill="url(#gWhite)"/>
<circle cx="559.2" cy="181.0" r="1.5" fill="url(#gWhite)"/>
<circle cx="556.2" cy="179.8" r="1.5" fill="url(#gWhite)"/>
<circle cx="555.7" cy="176.6" r="1.5" fill="url(#gWhite)"/>
<circle cx="558.2" cy="174.5" r="1.5" fill="url(#gWhite)"/>
<circle cx="561.3" cy="175.7" r="1.5" fill="url(#gWhite)"/>
<path d="M568.9,183.3 L565.6,183.9 L563.4,181.3 L564.6,178.1 L567.9,177.5 L570.1,180.1 Z" fill="none" stroke="#a4a4a4" stroke-width="1.7"/>
<circle cx="568.9" cy="183.3" r="1.5" fill="url(#gWhite)"/>
<circle cx="565.6" cy="183.9" r="1.5" fill="url(#gWhite)"/>
<circle cx="563.4" cy="181.3" r="1.5" fill="url(#gWhite)"/>
<circle cx="564.6" cy="178.1" r="1.5" fill="url(#gWhite)"/>
<circle cx="567.9" cy="177.5" r="1.5" fill="url(#gWhite)"/>
<circle cx="570.1" cy="180.1" r="1.5" fill="url(#gWhite)"/>
<path d="M581.5,182.9 L579.4,185.5 L576.1,185.0 L574.9,181.9 L576.9,179.3 L580.3,179.8 Z" fill="none" stroke="#a4a4a4" stroke-width="1.7"/>
<circle cx="581.5" cy="182.9" r="1.5" fill="url(#gWhite)"/>
<circle cx="579.4" cy="185.5" r="1.5" fill="url(#gWhite)"/>
<circle cx="576.1" cy="185.0" r="1.5" fill="url(#gWhite)"/>
<circle cx="574.9" cy="181.9" r="1.5" fill="url(#gWhite)"/>
<circle cx="576.9" cy="179.3" r="1.5" fill="url(#gWhite)"/>
<circle cx="580.3" cy="179.8" r="1.5" fill="url(#gWhite)"/>
<path d="M591.2,180.4 L588.7,182.4 L585.8,181.3 L585.4,178.2 L587.8,176.2 L590.7,177.4 Z" fill="none" stroke="#a4a4a4" stroke-width="1.7"/>
<circle cx="591.2" cy="180.4" r="1.5" fill="url(#gWhite)"/>
<circle cx="588.7" cy="182.4" r="1.5" fill="url(#gWhite)"/>
<circle cx="585.8" cy="181.3" r="1.5" fill="url(#gWhite)"/>
<circle cx="585.4" cy="178.2" r="1.5" fill="url(#gWhite)"/>
<circle cx="587.8" cy="176.2" r="1.5" fill="url(#gWhite)"/>
<circle cx="590.7" cy="177.4" r="1.5" fill="url(#gWhite)"/>
<path d="M597.5,180.4 L595.4,183.0 L592.1,182.5 L590.8,179.4 L592.9,176.8 L596.2,177.2 Z" fill="none" stroke="#a4a4a4" stroke-width="1.7"/>
<circle cx="597.5" cy="180.4" r="1.5" fill="url(#gWhite)"/>
<circle cx="595.4" cy="183.0" r="1.5" fill="url(#gWhite)"/>
<circle cx="592.1" cy="182.5" r="1.5" fill="url(#gWhite)"/>
<circle cx="590.8" cy="179.4" r="1.5" fill="url(#gWhite)"/>
<circle cx="592.9" cy="176.8" r="1.5" fill="url(#gWhite)"/>
<circle cx="596.2" cy="177.2" r="1.5" fill="url(#gWhite)"/>
<path d="M606.2,183.6 L604.0,185.6 L601.1,184.6 L600.4,181.7 L602.7,179.6 L605.6,180.6 Z" fill="none" stroke="#a4a4a4" stroke-width="1.7"/>
<circle cx="606.2" cy="183.6" r="1.5" fill="url(#gWhite)"/>
<circle cx="604.0" cy="185.6" r="1.5" fill="url(#gWhite)"/>
<circle cx="601.1" cy="184.6" r="1.5" fill="url(#gWhite)"/>
<circle cx="600.4" cy="181.7" r="1.5" fill="url(#gWhite)"/>
<circle cx="602.7" cy="179.6" r="1.5" fill="url(#gWhite)"/>
<circle cx="605.6" cy="180.6" r="1.5" fill="url(#gWhite)"/>
<path d="M619.1,184.2 L617.4,186.9 L614.2,186.8 L612.7,184.0 L614.4,181.3 L617.6,181.4 Z" fill="none" stroke="#a4a4a4" stroke-width="1.7"/>
<circle cx="619.1" cy="184.2" r="1.5" fill="url(#gWhite)"/>
<circle cx="617.4" cy="186.9" r="1.5" fill="url(#gWhite)"/>
<circle cx="614.2" cy="186.8" r="1.5" fill="url(#gWhite)"/>
<circle cx="612.7" cy="184.0" r="1.5" fill="url(#gWhite)"/>
<circle cx="614.4" cy="181.3" r="1.5" fill="url(#gWhite)"/>
<circle cx="617.6" cy="181.4" r="1.5" fill="url(#gWhite)"/>
<path d="M624.1,187.1 L620.8,187.5 L618.8,184.8 L620.1,181.8 L623.4,181.4 L625.4,184.0 Z" fill="none" stroke="#a4a4a4" stroke-width="1.7"/>
<circle cx="624.1" cy="187.1" r="1.5" fill="url(#gWhite)"/>
<circle cx="620.8" cy="187.5" r="1.5" fill="url(#gWhite)"/>
<circle cx="618.8" cy="184.8" r="1.5" fill="url(#gWhite)"/>
<circle cx="620.1" cy="181.8" r="1.5" fill="url(#gWhite)"/>
<circle cx="623.4" cy="181.4" r="1.5" fill="url(#gWhite)"/>
<circle cx="625.4" cy="184.0" r="1.5" fill="url(#gWhite)"/>
<path d="M634.0,184.9 L630.9,186.0 L628.4,183.7 L629.1,180.5 L632.3,179.5 L634.7,181.7 Z" fill="none" stroke="#a4a4a4" stroke-width="1.7"/>
<circle cx="634.0" cy="184.9" r="1.5" fill="url(#gWhite)"/>
<circle cx="630.9" cy="186.0" r="1.5" fill="url(#gWhite)"/>
<circle cx="628.4" cy="183.7" r="1.5" fill="url(#gWhite)"/>
<circle cx="629.1" cy="180.5" r="1.5" fill="url(#gWhite)"/>
<circle cx="632.3" cy="179.5" r="1.5" fill="url(#gWhite)"/>
<circle cx="634.7" cy="181.7" r="1.5" fill="url(#gWhite)"/>
<path d="M645.2,184.1 L641.8,184.9 L639.4,182.3 L640.5,178.9 L643.9,178.2 L646.3,180.8 Z" fill="none" stroke="#a4a4a4" stroke-width="1.7"/>
<circle cx="645.2" cy="184.1" r="1.5" fill="url(#gWhite)"/>
<circle cx="641.8" cy="184.9" r="1.5" fill="url(#gWhite)"/>
<circle cx="639.4" cy="182.3" r="1.5" fill="url(#gWhite)"/>
<circle cx="640.5" cy="178.9" r="1.5" fill="url(#gWhite)"/>
<circle cx="643.9" cy="178.2" r="1.5" fill="url(#gWhite)"/>
<circle cx="646.3" cy="180.8" r="1.5" fill="url(#gWhite)"/>
<path d="M652.1,187.3 L649.2,189.3 L645.9,187.8 L645.7,184.3 L648.6,182.2 L651.8,183.7 Z" fill="none" stroke="#a4a4a4" stroke-width="1.7"/>
<circle cx="652.1" cy="187.3" r="1.5" fill="url(#gWhite)"/>
<circle cx="649.2" cy="189.3" r="1.5" fill="url(#gWhite)"/>
<circle cx="645.9" cy="187.8" r="1.5" fill="url(#gWhite)"/>
<circle cx="645.7" cy="184.3" r="1.5" fill="url(#gWhite)"/>
<circle cx="648.6" cy="182.2" r="1.5" fill="url(#gWhite)"/>
<circle cx="651.8" cy="183.7" r="1.5" fill="url(#gWhite)"/>
<path d="M498.3,184.1 L496.3,186.8 L492.9,186.4 L491.6,183.3 L493.6,180.5 L497.0,181.0 Z" fill="none" stroke="#a4a4a4" stroke-width="1.7"/>
<circle cx="498.3" cy="184.1" r="1.5" fill="url(#gWhite)"/>
<circle cx="496.3" cy="186.8" r="1.5" fill="url(#gWhite)"/>
<circle cx="492.9" cy="186.4" r="1.5" fill="url(#gWhite)"/>
<circle cx="491.6" cy="183.3" r="1.5" fill="url(#gWhite)"/>
<circle cx="493.6" cy="180.5" r="1.5" fill="url(#gWhite)"/>
<circle cx="497.0" cy="181.0" r="1.5" fill="url(#gWhite)"/>
<path d="M508.9,187.1 L506.1,189.3 L502.8,188.0 L502.3,184.5 L505.1,182.3 L508.4,183.6 Z" fill="none" stroke="#a4a4a4" stroke-width="1.7"/>
<circle cx="508.9" cy="187.1" r="1.5" fill="url(#gWhite)"/>
<circle cx="506.1" cy="189.3" r="1.5" fill="url(#gWhite)"/>
<circle cx="502.8" cy="188.0" r="1.5" fill="url(#gWhite)"/>
<circle cx="502.3" cy="184.5" r="1.5" fill="url(#gWhite)"/>
<circle cx="505.1" cy="182.3" r="1.5" fill="url(#gWhite)"/>
<circle cx="508.4" cy="183.6" r="1.5" fill="url(#gWhite)"/>
<path d="M514.0,187.1 L510.8,187.6 L508.7,185.1 L509.9,182.0 L513.1,181.5 L515.2,184.1 Z" fill="none" stroke="#a4a4a4" stroke-width="1.7"/>
<circle cx="514.0" cy="187.1" r="1.5" fill="url(#gWhite)"/>
<circle cx="510.8" cy="187.6" r="1.5" fill="url(#gWhite)"/>
<circle cx="508.7" cy="185.1" r="1.5" fill="url(#gWhite)"/>
<circle cx="509.9" cy="182.0" r="1.5" fill="url(#gWhite)"/>
<circle cx="513.1" cy="181.5" r="1.5" fill="url(#gWhite)"/>
<circle cx="515.2" cy="184.1" r="1.5" fill="url(#gWhite)"/>
<path d="M526.4,186.4 L524.3,188.8 L521.2,188.2 L520.2,185.2 L522.2,182.8 L525.4,183.4 Z" fill="none" stroke="#a4a4a4" stroke-width="1.7"/>
<circle cx="526.4" cy="186.4" r="1.5" fill="url(#gWhite)"/>
<circle cx="524.3" cy="188.8" r="1.5" fill="url(#gWhite)"/>
<circle cx="521.2" cy="188.2" r="1.5" fill="url(#gWhite)"/>
<circle cx="520.2" cy="185.2" r="1.5" fill="url(#gWhite)"/>
<circle cx="522.2" cy="182.8" r="1.5" fill="url(#gWhite)"/>
<circle cx="525.4" cy="183.4" r="1.5" fill="url(#gWhite)"/>
<path d="M534.2,188.8 L531.1,190.3 L528.2,188.3 L528.5,184.9 L531.6,183.3 L534.5,185.3 Z" fill="none" stroke="#a4a4a4" stroke-width="1.7"/>
<circle cx="534.2" cy="188.8" r="1.5" fill="url(#gWhite)"/>
<circle cx="531.1" cy="190.3" r="1.5" fill="url(#gWhite)"/>
<circle cx="528.2" cy="188.3" r="1.5" fill="url(#gWhite)"/>
<circle cx="528.5" cy="184.9" r="1.5" fill="url(#gWhite)"/>
<circle cx="531.6" cy="183.3" r="1.5" fill="url(#gWhite)"/>
<circle cx="534.5" cy="185.3" r="1.5" fill="url(#gWhite)"/>
<path d="M547.3,186.4 L545.7,189.0 L542.7,189.0 L541.2,186.3 L542.8,183.7 L545.9,183.8 Z" fill="none" stroke="#a4a4a4" stroke-width="1.7"/>
<circle cx="547.3" cy="186.4" r="1.5" fill="url(#gWhite)"/>
<circle cx="545.7" cy="189.0" r="1.5" fill="url(#gWhite)"/>
<circle cx="542.7" cy="189.0" r="1.5" fill="url(#gWhite)"/>
<circle cx="541.2" cy="186.3" r="1.5" fill="url(#gWhite)"/>
<circle cx="542.8" cy="183.7" r="1.5" fill="url(#gWhite)"/>
<circle cx="545.9" cy="183.8" r="1.5" fill="url(#gWhite)"/>
<path d="M554.6,185.5 L553.0,188.3 L549.8,188.3 L548.2,185.5 L549.8,182.7 L553.0,182.7 Z" fill="none" stroke="#a4a4a4" stroke-width="1.7"/>
<circle cx="554.6" cy="185.5" r="1.5" fill="url(#gWhite)"/>
<circle cx="553.0" cy="188.3" r="1.5" fill="url(#gWhite)"/>
<circle cx="549.8" cy="188.3" r="1.5" fill="url(#gWhite)"/>
<circle cx="548.2" cy="185.5" r="1.5" fill="url(#gWhite)"/>
<circle cx="549.8" cy="182.7" r="1.5" fill="url(#gWhite)"/>
<circle cx="553.0" cy="182.7" r="1.5" fill="url(#gWhite)"/>
<path d="M562.7,189.4 L560.4,192.0 L557.0,191.4 L555.8,188.1 L558.1,185.4 L561.5,186.1 Z" fill="none" stroke="#a4a4a4" stroke-width="1.7"/>
<circle cx="562.7" cy="189.4" r="1.5" fill="url(#gWhite)"/>
<circle cx="560.4" cy="192.0" r="1.5" fill="url(#gWhite)"/>
<circle cx="557.0" cy="191.4" r="1.5" fill="url(#gWhite)"/>
<circle cx="555.8" cy="188.1" r="1.5" fill="url(#gWhite)"/>
<circle cx="558.1" cy="185.4" r="1.5" fill="url(#gWhite)"/>
<circle cx="561.5" cy="186.1" r="1.5" fill="url(#gWhite)"/>
<path d="M570.6,191.5 L568.1,193.5 L565.2,192.3 L564.7,189.1 L567.2,187.2 L570.2,188.4 Z" fill="none" stroke="#a4a4a4" stroke-width="1.7"/>
<circle cx="570.6" cy="191.5" r="1.5" fill="url(#gWhite)"/>
<circle cx="568.1" cy="193.5" r="1.5" fill="url(#gWhite)"/>
<circle cx="565.2" cy="192.3" r="1.5" fill="url(#gWhite)"/>
<circle cx="564.7" cy="189.1" r="1.5" fill="url(#gWhite)"/>
<circle cx="567.2" cy="187.2" r="1.5" fill="url(#gWhite)"/>
<circle cx="570.2" cy="188.4" r="1.5" fill="url(#gWhite)"/>
<path d="M583.8,188.3 L581.1,190.2 L578.1,188.8 L577.8,185.5 L580.5,183.6 L583.5,185.0 Z" fill="none" stroke="#a4a4a4" stroke-width="1.7"/>
<circle cx="583.8" cy="188.3" r="1.5" fill="url(#gWhite)"/>
<circle cx="581.1" cy="190.2" r="1.5" fill="url(#gWhite)"/>
<circle cx="578.1" cy="188.8" r="1.5" fill="url(#gWhite)"/>
<circle cx="577.8" cy="185.5" r="1.5" fill="url(#gWhite)"/>
<circle cx="580.5" cy="183.6" r="1.5" fill="url(#gWhite)"/>
<circle cx="583.5" cy="185.0" r="1.5" fill="url(#gWhite)"/>
<path d="M592.9,190.8 L589.7,192.1 L587.1,190.0 L587.5,186.7 L590.7,185.4 L593.3,187.5 Z" fill="none" stroke="#a4a4a4" stroke-width="1.7"/>
<circle cx="592.9" cy="190.8" r="1.5" fill="url(#gWhite)"/>
<circle cx="589.7" cy="192.1" r="1.5" fill="url(#gWhite)"/>
<circle cx="587.1" cy="190.0" r="1.5" fill="url(#gWhite)"/>
<circle cx="587.5" cy="186.7" r="1.5" fill="url(#gWhite)"/>
<circle cx="590.7" cy="185.4" r="1.5" fill="url(#gWhite)"/>
<circle cx="593.3" cy="187.5" r="1.5" fill="url(#gWhite)"/>
<path d="M601.8,191.5 L599.9,194.2 L596.7,193.8 L595.3,190.9 L597.2,188.2 L600.5,188.5 Z" fill="none" stroke="#a4a4a4" stroke-width="1.7"/>
<circle cx="601.8" cy="191.5" r="1.5" fill="url(#gWhite)"/>
<circle cx="599.9" cy="194.2" r="1.5" fill="url(#gWhite)"/>
<circle cx="596.7" cy="193.8" r="1.5" fill="url(#gWhite)"/>
<circle cx="595.3" cy="190.9" r="1.5" fill="url(#gWhite)"/>
<circle cx="597.2" cy="188.2" r="1.5" fill="url(#gWhite)"/>
<circle cx="600.5" cy="188.5" r="1.5" fill="url(#gWhite)"/>
<path d="M608.1,193.6 L604.8,194.8 L602.0,192.5 L602.6,189.0 L606.0,187.7 L608.7,190.0 Z" fill="none" stroke="#a4a4a4" stroke-width="1.7"/>
<circle cx="608.1" cy="193.6" r="1.5" fill="url(#gWhite)"/>
<circle cx="604.8" cy="194.8" r="1.5" fill="url(#gWhite)"/>
<circle cx="602.0" cy="192.5" r="1.5" fill="url(#gWhite)"/>
<circle cx="602.6" cy="189.0" r="1.5" fill="url(#gWhite)"/>
<circle cx="606.0" cy="187.7" r="1.5" fill="url(#gWhite)"/>
<circle cx="608.7" cy="190.0" r="1.5" fill="url(#gWhite)"/>
<path d="M619.1,193.7 L616.6,195.5 L613.9,194.2 L613.6,191.1 L616.1,189.4 L618.9,190.7 Z" fill="none" stroke="#a4a4a4" stroke-width="1.7"/>
<circle cx="619.1" cy="193.7" r="1.5" fill="url(#gWhite)"/>
<circle cx="616.6" cy="195.5" r="1.5" fill="url(#gWhite)"/>
<circle cx="613.9" cy="194.2" r="1.5" fill="url(#gWhite)"/>
<circle cx="613.6" cy="191.1" r="1.5" fill="url(#gWhite)"/>
<circle cx="616.1" cy="189.4" r="1.5" fill="url(#gWhite)"/>
<circle cx="618.9" cy="190.7" r="1.5" fill="url(#gWhite)"/>
<path d="M625.5,195.6 L622.1,195.8 L620.2,192.9 L621.7,189.8 L625.2,189.6 L627.1,192.5 Z" fill="none" stroke="#a4a4a4" stroke-width="1.7"/>
<circle cx="625.5" cy="195.6" r="1.5" fill="url(#gWhite)"/>
<circle cx="622.1" cy="195.8" r="1.5" fill="url(#gWhite)"/>
<circle cx="620.2" cy="192.9" r="1.5" fill="url(#gWhite)"/>
<circle cx="621.7" cy="189.8" r="1.5" fill="url(#gWhite)"/>
<circle cx="625.2" cy="189.6" r="1.5" fill="url(#gWhite)"/>
<circle cx="627.1" cy="192.5" r="1.5" fill="url(#gWhite)"/>
<path d="M639.3,192.8 L637.8,195.4 L634.8,195.4 L633.3,192.7 L634.8,190.1 L637.9,190.1 Z" fill="none" stroke="#a4a4a4" stroke-width="1.7"/>
<circle cx="639.3" cy="192.8" r="1.5" fill="url(#gWhite)"/>
<circle cx="637.8" cy="195.4" r="1.5" fill="url(#gWhite)"/>
<circle cx="634.8" cy="195.4" r="1.5" fill="url(#gWhite)"/>
<circle cx="633.3" cy="192.7" r="1.5" fill="url(#gWhite)"/>
<circle cx="634.8" cy="190.1" r="1.5" fill="url(#gWhite)"/>
<circle cx="637.9" cy="190.1" r="1.5" fill="url(#gWhite)"/>
<path d="M646.4,191.8 L643.7,193.7 L640.7,192.4 L640.4,189.1 L643.0,187.2 L646.0,188.5 Z" fill="none" stroke="#a4a4a4" stroke-width="1.7"/>
<circle cx="646.4" cy="191.8" r="1.5" fill="url(#gWhite)"/>
<circle cx="643.7" cy="193.7" r="1.5" fill="url(#gWhite)"/>
<circle cx="640.7" cy="192.4" r="1.5" fill="url(#gWhite)"/>
<circle cx="640.4" cy="189.1" r="1.5" fill="url(#gWhite)"/>
<circle cx="643.0" cy="187.2" r="1.5" fill="url(#gWhite)"/>
<circle cx="646.0" cy="188.5" r="1.5" fill="url(#gWhite)"/>
<path d="M654.8,194.8 L651.3,195.5 L648.9,192.9 L650.0,189.6 L653.4,188.8 L655.8,191.4 Z" fill="none" stroke="#a4a4a4" stroke-width="1.7"/>
<circle cx="654.8" cy="194.8" r="1.5" fill="url(#gWhite)"/>
<circle cx="651.3" cy="195.5" r="1.5" fill="url(#gWhite)"/>
<circle cx="648.9" cy="192.9" r="1.5" fill="url(#gWhite)"/>
<circle cx="650.0" cy="189.6" r="1.5" fill="url(#gWhite)"/>
<circle cx="653.4" cy="188.8" r="1.5" fill="url(#gWhite)"/>
<circle cx="655.8" cy="191.4" r="1.5" fill="url(#gWhite)"/>
<path d="M510.0,193.4 L507.4,195.3 L504.4,194.0 L504.1,190.8 L506.7,188.9 L509.6,190.2 Z" fill="none" stroke="#a4a4a4" stroke-width="1.7"/>
<circle cx="510.0" cy="193.4" r="1.5" fill="url(#gWhite)"/>
<circle cx="507.4" cy="195.3" r="1.5" fill="url(#gWhite)"/>
<circle cx="504.4" cy="194.0" r="1.5" fill="url(#gWhite)"/>
<circle cx="504.1" cy="190.8" r="1.5" fill="url(#gWhite)"/>
<circle cx="506.7" cy="188.9" r="1.5" fill="url(#gWhite)"/>
<circle cx="509.6" cy="190.2" r="1.5" fill="url(#gWhite)"/>
<path d="M518.8,197.4 L515.4,198.0 L513.3,195.4 L514.5,192.3 L517.8,191.7 L519.9,194.3 Z" fill="none" stroke="#a4a4a4" stroke-width="1.7"/>
<circle cx="518.8" cy="197.4" r="1.5" fill="url(#gWhite)"/>
<circle cx="515.4" cy="198.0" r="1.5" fill="url(#gWhite)"/>
<circle cx="513.3" cy="195.4" r="1.5" fill="url(#gWhite)"/>
<circle cx="514.5" cy="192.3" r="1.5" fill="url(#gWhite)"/>
<circle cx="517.8" cy="191.7" r="1.5" fill="url(#gWhite)"/>
<circle cx="519.9" cy="194.3" r="1.5" fill="url(#gWhite)"/>
<path d="M526.4,197.8 L523.9,199.7 L521.0,198.6 L520.6,195.5 L523.1,193.6 L526.0,194.7 Z" fill="none" stroke="#a4a4a4" stroke-width="1.7"/>
<circle cx="526.4" cy="197.8" r="1.5" fill="url(#gWhite)"/>
<circle cx="523.9" cy="199.7" r="1.5" fill="url(#gWhite)"/>
<circle cx="521.0" cy="198.6" r="1.5" fill="url(#gWhite)"/>
<circle cx="520.6" cy="195.5" r="1.5" fill="url(#gWhite)"/>
<circle cx="523.1" cy="193.6" r="1.5" fill="url(#gWhite)"/>
<circle cx="526.0" cy="194.7" r="1.5" fill="url(#gWhite)"/>
<path d="M537.5,195.1 L534.7,196.3 L532.3,194.5 L532.6,191.5 L535.4,190.3 L537.9,192.1 Z" fill="none" stroke="#a4a4a4" stroke-width="1.7"/>
<circle cx="537.5" cy="195.1" r="1.5" fill="url(#gWhite)"/>
<circle cx="534.7" cy="196.3" r="1.5" fill="url(#gWhite)"/>
<circle cx="532.3" cy="194.5" r="1.5" fill="url(#gWhite)"/>
<circle cx="532.6" cy="191.5" r="1.5" fill="url(#gWhite)"/>
<circle cx="535.4" cy="190.3" r="1.5" fill="url(#gWhite)"/>
<circle cx="537.9" cy="192.1" r="1.5" fill="url(#gWhite)"/>
<path d="M547.5,196.3 L544.5,196.7 L542.7,194.2 L543.9,191.5 L546.9,191.1 L548.7,193.6 Z" fill="none" stroke="#a4a4a4" stroke-width="1.7"/>
<circle cx="547.5" cy="196.3" r="1.5" fill="url(#gWhite)"/>
<circle cx="544.5" cy="196.7" r="1.5" fill="url(#gWhite)"/>
<circle cx="542.7" cy="194.2" r="1.5" fill="url(#gWhite)"/>
<circle cx="543.9" cy="191.5" r="1.5" fill="url(#gWhite)"/>
<circle cx="546.9" cy="191.1" r="1.5" fill="url(#gWhite)"/>
<circle cx="548.7" cy="193.6" r="1.5" fill="url(#gWhite)"/>
<path d="M554.6,199.1 L551.7,200.6 L548.9,198.8 L549.1,195.5 L552.0,194.0 L554.8,195.8 Z" fill="none" stroke="#a4a4a4" stroke-width="1.7"/>
<circle cx="554.6" cy="199.1" r="1.5" fill="url(#gWhite)"/>
<circle cx="551.7" cy="200.6" r="1.5" fill="url(#gWhite)"/>
<circle cx="548.9" cy="198.8" r="1.5" fill="url(#gWhite)"/>
<circle cx="549.1" cy="195.5" r="1.5" fill="url(#gWhite)"/>
<circle cx="552.0" cy="194.0" r="1.5" fill="url(#gWhite)"/>
<circle cx="554.8" cy="195.8" r="1.5" fill="url(#gWhite)"/>
<path d="M565.4,197.7 L563.3,199.9 L560.3,199.2 L559.4,196.3 L561.5,194.1 L564.5,194.8 Z" fill="none" stroke="#a4a4a4" stroke-width="1.7"/>
<circle cx="565.4" cy="197.7" r="1.5" fill="url(#gWhite)"/>
<circle cx="563.3" cy="199.9" r="1.5" fill="url(#gWhite)"/>
<circle cx="560.3" cy="199.2" r="1.5" fill="url(#gWhite)"/>
<circle cx="559.4" cy="196.3" r="1.5" fill="url(#gWhite)"/>
<circle cx="561.5" cy="194.1" r="1.5" fill="url(#gWhite)"/>
<circle cx="564.5" cy="194.8" r="1.5" fill="url(#gWhite)"/>
<path d="M574.0,199.5 L570.8,200.1 L568.6,197.6 L569.7,194.5 L572.9,193.9 L575.1,196.4 Z" fill="none" stroke="#a4a4a4" stroke-width="1.7"/>
<circle cx="574.0" cy="199.5" r="1.5" fill="url(#gWhite)"/>
<circle cx="570.8" cy="200.1" r="1.5" fill="url(#gWhite)"/>
<circle cx="568.6" cy="197.6" r="1.5" fill="url(#gWhite)"/>
<circle cx="569.7" cy="194.5" r="1.5" fill="url(#gWhite)"/>
<circle cx="572.9" cy="193.9" r="1.5" fill="url(#gWhite)"/>
<circle cx="575.1" cy="196.4" r="1.5" fill="url(#gWhite)"/>
<path d="M582.6,197.0 L580.1,199.3 L577.0,198.4 L576.2,195.1 L578.6,192.9 L581.8,193.8 Z" fill="none" stroke="#a4a4a4" stroke-width="1.7"/>
<circle cx="582.6" cy="197.0" r="1.5" fill="url(#gWhite)"/>
<circle cx="580.1" cy="199.3" r="1.5" fill="url(#gWhite)"/>
<circle cx="577.0" cy="198.4" r="1.5" fill="url(#gWhite)"/>
<circle cx="576.2" cy="195.1" r="1.5" fill="url(#gWhite)"/>
<circle cx="578.6" cy="192.9" r="1.5" fill="url(#gWhite)"/>
<circle cx="581.8" cy="193.8" r="1.5" fill="url(#gWhite)"/>
<path d="M590.2,201.5 L586.8,202.8 L584.0,200.6 L584.5,197.1 L587.8,195.7 L590.7,197.9 Z" fill="none" stroke="#a4a4a4" stroke-width="1.7"/>
<circle cx="590.2" cy="201.5" r="1.5" fill="url(#gWhite)"/>
<circle cx="586.8" cy="202.8" r="1.5" fill="url(#gWhite)"/>
<circle cx="584.0" cy="200.6" r="1.5" fill="url(#gWhite)"/>
<circle cx="584.5" cy="197.1" r="1.5" fill="url(#gWhite)"/>
<circle cx="587.8" cy="195.7" r="1.5" fill="url(#gWhite)"/>
<circle cx="590.7" cy="197.9" r="1.5" fill="url(#gWhite)"/>
<path d="M603.2,199.6 L601.0,202.1 L597.8,201.4 L596.7,198.2 L598.9,195.8 L602.2,196.4 Z" fill="none" stroke="#a4a4a4" stroke-width="1.7"/>
<circle cx="603.2" cy="199.6" r="1.5" fill="url(#gWhite)"/>
<circle cx="601.0" cy="202.1" r="1.5" fill="url(#gWhite)"/>
<circle cx="597.8" cy="201.4" r="1.5" fill="url(#gWhite)"/>
<circle cx="596.7" cy="198.2" r="1.5" fill="url(#gWhite)"/>
<circle cx="598.9" cy="195.8" r="1.5" fill="url(#gWhite)"/>
<circle cx="602.2" cy="196.4" r="1.5" fill="url(#gWhite)"/>
<path d="M611.1,201.0 L607.9,201.5 L606.0,199.0 L607.1,196.0 L610.3,195.5 L612.2,198.0 Z" fill="none" stroke="#a4a4a4" stroke-width="1.7"/>
<circle cx="611.1" cy="201.0" r="1.5" fill="url(#gWhite)"/>
<circle cx="607.9" cy="201.5" r="1.5" fill="url(#gWhite)"/>
<circle cx="606.0" cy="199.0" r="1.5" fill="url(#gWhite)"/>
<circle cx="607.1" cy="196.0" r="1.5" fill="url(#gWhite)"/>
<circle cx="610.3" cy="195.5" r="1.5" fill="url(#gWhite)"/>
<circle cx="612.2" cy="198.0" r="1.5" fill="url(#gWhite)"/>
<path d="M618.6,200.7 L615.9,202.2 L613.2,200.6 L613.3,197.6 L616.0,196.0 L618.6,197.6 Z" fill="none" stroke="#a4a4a4" stroke-width="1.7"/>
<circle cx="618.6" cy="200.7" r="1.5" fill="url(#gWhite)"/>
<circle cx="615.9" cy="202.2" r="1.5" fill="url(#gWhite)"/>
<circle cx="613.2" cy="200.6" r="1.5" fill="url(#gWhite)"/>
<circle cx="613.3" cy="197.6" r="1.5" fill="url(#gWhite)"/>
<circle cx="616.0" cy="196.0" r="1.5" fill="url(#gWhite)"/>
<circle cx="618.6" cy="197.6" r="1.5" fill="url(#gWhite)"/>
<path d="M631.3,199.1 L628.7,201.2 L625.6,200.1 L625.0,196.7 L627.6,194.6 L630.8,195.8 Z" fill="none" stroke="#a4a4a4" stroke-width="1.7"/>
<circle cx="631.3" cy="199.1" r="1.5" fill="url(#gWhite)"/>
<circle cx="628.7" cy="201.2" r="1.5" fill="url(#gWhite)"/>
<circle cx="625.6" cy="200.1" r="1.5" fill="url(#gWhite)"/>
<circle cx="625.0" cy="196.7" r="1.5" fill="url(#gWhite)"/>
<circle cx="627.6" cy="194.6" r="1.5" fill="url(#gWhite)"/>
<circle cx="630.8" cy="195.8" r="1.5" fill="url(#gWhite)"/>
<path d="M637.6,202.2 L634.2,202.6 L632.1,199.9 L633.4,196.7 L636.8,196.2 L639.0,199.0 Z" fill="none" stroke="#a4a4a4" stroke-width="1.7"/>
<circle cx="637.6" cy="202.2" r="1.5" fill="url(#gWhite)"/>
<circle cx="634.2" cy="202.6" r="1.5" fill="url(#gWhite)"/>
<circle cx="632.1" cy="199.9" r="1.5" fill="url(#gWhite)"/>
<circle cx="633.4" cy="196.7" r="1.5" fill="url(#gWhite)"/>
<circle cx="636.8" cy="196.2" r="1.5" fill="url(#gWhite)"/>
<circle cx="639.0" cy="199.0" r="1.5" fill="url(#gWhite)"/>
<path d="M518.1,204.2 L514.7,205.3 L512.1,202.9 L512.9,199.5 L516.2,198.4 L518.8,200.8 Z" fill="none" stroke="#a4a4a4" stroke-width="1.7"/>
<circle cx="518.1" cy="204.2" r="1.5" fill="url(#gWhite)"/>
<circle cx="514.7" cy="205.3" r="1.5" fill="url(#gWhite)"/>
<circle cx="512.1" cy="202.9" r="1.5" fill="url(#gWhite)"/>
<circle cx="512.9" cy="199.5" r="1.5" fill="url(#gWhite)"/>
<circle cx="516.2" cy="198.4" r="1.5" fill="url(#gWhite)"/>
<circle cx="518.8" cy="200.8" r="1.5" fill="url(#gWhite)"/>
<path d="M527.7,201.8 L526.0,204.4 L522.9,204.2 L521.5,201.4 L523.2,198.8 L526.3,199.0 Z" fill="none" stroke="#a4a4a4" stroke-width="1.7"/>
<circle cx="527.7" cy="201.8" r="1.5" fill="url(#gWhite)"/>
<circle cx="526.0" cy="204.4" r="1.5" fill="url(#gWhite)"/>
<circle cx="522.9" cy="204.2" r="1.5" fill="url(#gWhite)"/>
<circle cx="521.5" cy="201.4" r="1.5" fill="url(#gWhite)"/>
<circle cx="523.2" cy="198.8" r="1.5" fill="url(#gWhite)"/>
<circle cx="526.3" cy="199.0" r="1.5" fill="url(#gWhite)"/>
<path d="M540.3,206.1 L537.9,208.3 L534.8,207.3 L534.1,204.1 L536.5,201.9 L539.6,203.0 Z" fill="none" stroke="#a4a4a4" stroke-width="1.7"/>
<circle cx="540.3" cy="206.1" r="1.5" fill="url(#gWhite)"/>
<circle cx="537.9" cy="208.3" r="1.5" fill="url(#gWhite)"/>
<circle cx="534.8" cy="207.3" r="1.5" fill="url(#gWhite)"/>
<circle cx="534.1" cy="204.1" r="1.5" fill="url(#gWhite)"/>
<circle cx="536.5" cy="201.9" r="1.5" fill="url(#gWhite)"/>
<circle cx="539.6" cy="203.0" r="1.5" fill="url(#gWhite)"/>
<path d="M545.4,205.3 L542.4,205.9 L540.4,203.5 L541.4,200.6 L544.5,200.0 L546.5,202.4 Z" fill="none" stroke="#a4a4a4" stroke-width="1.7"/>
<circle cx="545.4" cy="205.3" r="1.5" fill="url(#gWhite)"/>
<circle cx="542.4" cy="205.9" r="1.5" fill="url(#gWhite)"/>
<circle cx="540.4" cy="203.5" r="1.5" fill="url(#gWhite)"/>
<circle cx="541.4" cy="200.6" r="1.5" fill="url(#gWhite)"/>
<circle cx="544.5" cy="200.0" r="1.5" fill="url(#gWhite)"/>
<circle cx="546.5" cy="202.4" r="1.5" fill="url(#gWhite)"/>
<path d="M555.9,208.5 L552.9,209.2 L550.7,206.9 L551.7,203.9 L554.7,203.2 L556.8,205.5 Z" fill="none" stroke="#a4a4a4" stroke-width="1.7"/>
<circle cx="555.9" cy="208.5" r="1.5" fill="url(#gWhite)"/>
<circle cx="552.9" cy="209.2" r="1.5" fill="url(#gWhite)"/>
<circle cx="550.7" cy="206.9" r="1.5" fill="url(#gWhite)"/>
<circle cx="551.7" cy="203.9" r="1.5" fill="url(#gWhite)"/>
<circle cx="554.7" cy="203.2" r="1.5" fill="url(#gWhite)"/>
<circle cx="556.8" cy="205.5" r="1.5" fill="url(#gWhite)"/>
<path d="M568.5,207.2 L566.4,210.0 L562.8,209.6 L561.4,206.3 L563.6,203.5 L567.1,203.9 Z" fill="none" stroke="#a4a4a4" stroke-width="1.7"/>
<circle cx="568.5" cy="207.2" r="1.5" fill="url(#gWhite)"/>
<circle cx="566.4" cy="210.0" r="1.5" fill="url(#gWhite)"/>
<circle cx="562.8" cy="209.6" r="1.5" fill="url(#gWhite)"/>
<circle cx="561.4" cy="206.3" r="1.5" fill="url(#gWhite)"/>
<circle cx="563.6" cy="203.5" r="1.5" fill="url(#gWhite)"/>
<circle cx="567.1" cy="203.9" r="1.5" fill="url(#gWhite)"/>
<path d="M576.3,205.6 L573.5,207.8 L570.2,206.4 L569.8,202.9 L572.6,200.7 L575.9,202.1 Z" fill="none" stroke="#a4a4a4" stroke-width="1.7"/>
<circle cx="576.3" cy="205.6" r="1.5" fill="url(#gWhite)"/>
<circle cx="573.5" cy="207.8" r="1.5" fill="url(#gWhite)"/>
<circle cx="570.2" cy="206.4" r="1.5" fill="url(#gWhite)"/>
<circle cx="569.8" cy="202.9" r="1.5" fill="url(#gWhite)"/>
<circle cx="572.6" cy="200.7" r="1.5" fill="url(#gWhite)"/>
<circle cx="575.9" cy="202.1" r="1.5" fill="url(#gWhite)"/>
<path d="M584.4,205.5 L582.3,207.9 L579.3,207.3 L578.2,204.4 L580.3,202.0 L583.3,202.6 Z" fill="none" stroke="#a4a4a4" stroke-width="1.7"/>
<circle cx="584.4" cy="205.5" r="1.5" fill="url(#gWhite)"/>
<circle cx="582.3" cy="207.9" r="1.5" fill="url(#gWhite)"/>
<circle cx="579.3" cy="207.3" r="1.5" fill="url(#gWhite)"/>
<circle cx="578.2" cy="204.4" r="1.5" fill="url(#gWhite)"/>
<circle cx="580.3" cy="202.0" r="1.5" fill="url(#gWhite)"/>
<circle cx="583.3" cy="202.6" r="1.5" fill="url(#gWhite)"/>
<path d="M593.8,208.8 L591.2,210.4 L588.6,208.9 L588.5,205.9 L591.1,204.3 L593.7,205.8 Z" fill="none" stroke="#a4a4a4" stroke-width="1.7"/>
<circle cx="593.8" cy="208.8" r="1.5" fill="url(#gWhite)"/>
<circle cx="591.2" cy="210.4" r="1.5" fill="url(#gWhite)"/>
<circle cx="588.6" cy="208.9" r="1.5" fill="url(#gWhite)"/>
<circle cx="588.5" cy="205.9" r="1.5" fill="url(#gWhite)"/>
<circle cx="591.1" cy="204.3" r="1.5" fill="url(#gWhite)"/>
<circle cx="593.7" cy="205.8" r="1.5" fill="url(#gWhite)"/>
<path d="M600.8,208.7 L597.7,209.3 L595.5,206.9 L596.6,203.8 L599.8,203.2 L601.9,205.6 Z" fill="none" stroke="#a4a4a4" stroke-width="1.7"/>
<circle cx="600.8" cy="208.7" r="1.5" fill="url(#gWhite)"/>
<circle cx="597.7" cy="209.3" r="1.5" fill="url(#gWhite)"/>
<circle cx="595.5" cy="206.9" r="1.5" fill="url(#gWhite)"/>
<circle cx="596.6" cy="203.8" r="1.5" fill="url(#gWhite)"/>
<circle cx="599.8" cy="203.2" r="1.5" fill="url(#gWhite)"/>
<circle cx="601.9" cy="205.6" r="1.5" fill="url(#gWhite)"/>
<path d="M614.3,205.8 L612.4,208.8 L608.9,208.6 L607.3,205.5 L609.2,202.5 L612.7,202.7 Z" fill="none" stroke="#a4a4a4" stroke-width="1.7"/>
<circle cx="614.3" cy="205.8" r="1.5" fill="url(#gWhite)"/>
<circle cx="612.4" cy="208.8" r="1.5" fill="url(#gWhite)"/>
<circle cx="608.9" cy="208.6" r="1.5" fill="url(#gWhite)"/>
<circle cx="607.3" cy="205.5" r="1.5" fill="url(#gWhite)"/>
<circle cx="609.2" cy="202.5" r="1.5" fill="url(#gWhite)"/>
<circle cx="612.7" cy="202.7" r="1.5" fill="url(#gWhite)"/>
<circle cx="501.9" cy="138.4" r="10.5" fill="url(#gBlk)"/>
<circle cx="575.1" cy="124.3" r="10.5" fill="url(#gBlk)"/>
<circle cx="528.9" cy="143.6" r="9.0" fill="url(#gBlk)"/>
<circle cx="585.4" cy="153.9" r="10.5" fill="url(#gBlk)"/>
<circle cx="608.6" cy="141.0" r="10.0" fill="url(#gBlk)"/>
<circle cx="513.4" cy="166.7" r="9.0" fill="url(#gBlk)"/>
<circle cx="540.4" cy="175.7" r="10.5" fill="url(#gBlk)"/>
<circle cx="616.3" cy="166.7" r="9.5" fill="url(#gBlk)"/>
<circle cx="519.9" cy="192.4" r="9.5" fill="url(#gBlk)"/>
<circle cx="588.0" cy="184.7" r="9.0" fill="url(#gBlk)"/>
<circle cx="616.3" cy="195.0" r="10.0" fill="url(#gBlk)"/>
<circle cx="564.9" cy="152.6" r="7.0" fill="url(#gBlk)"/>
<ellipse cx="487.7" cy="133.3" rx="4.3" ry="4.8" fill="url(#gRed)"/>
<ellipse cx="519.9" cy="139.7" rx="4.3" ry="4.8" fill="url(#gRed)"/>
<ellipse cx="545.6" cy="134.6" rx="4.3" ry="4.8" fill="url(#gRed)"/>
<ellipse cx="559.7" cy="121.7" rx="4.3" ry="4.8" fill="url(#gRed)"/>
<ellipse cx="577.7" cy="141" rx="4.3" ry="4.8" fill="url(#gRed)"/>
<ellipse cx="617.6" cy="123" rx="4.3" ry="4.8" fill="url(#gRed)"/>
<ellipse cx="494.1" cy="164.1" rx="4.3" ry="4.8" fill="url(#gRed)"/>
<ellipse cx="500.6" cy="161.6" rx="4.3" ry="4.8" fill="url(#gRed)"/>
<ellipse cx="545.6" cy="156.4" rx="4.3" ry="4.8" fill="url(#gRed)"/>
<ellipse cx="566.1" cy="152.6" rx="4.3" ry="4.8" fill="url(#gRed)"/>
<ellipse cx="559.7" cy="162.9" rx="4.3" ry="4.8" fill="url(#gRed)"/>
<ellipse cx="573.9" cy="162.9" rx="4.3" ry="4.8" fill="url(#gRed)"/>
<ellipse cx="603.4" cy="157.7" rx="4.3" ry="4.8" fill="url(#gRed)"/>
<ellipse cx="633" cy="153.9" rx="4.3" ry="4.8" fill="url(#gRed)"/>
<ellipse cx="631.7" cy="165.4" rx="4.3" ry="4.8" fill="url(#gRed)"/>
<ellipse cx="525" cy="171.9" rx="4.3" ry="4.8" fill="url(#gRed)"/>
<ellipse cx="593.1" cy="171.9" rx="4.3" ry="4.8" fill="url(#gRed)"/>
<ellipse cx="507" cy="192.4" rx="4.3" ry="4.8" fill="url(#gRed)"/>
<ellipse cx="550.7" cy="187.3" rx="4.3" ry="4.8" fill="url(#gRed)"/>
<ellipse cx="572.6" cy="193.7" rx="4.3" ry="4.8" fill="url(#gRed)"/>
<ellipse cx="580.3" cy="193.7" rx="4.3" ry="4.8" fill="url(#gRed)"/>
<ellipse cx="618.9" cy="188.6" rx="4.3" ry="4.8" fill="url(#gRed)"/>
<ellipse cx="647.1" cy="195" rx="4.3" ry="4.8" fill="url(#gRed)"/>
<path d="M534.1,145.6 L531.7,147.9 L528.4,146.9 L527.7,143.6 L530.1,141.3 L533.4,142.3 Z" fill="none" stroke="#d0d0d0" stroke-width="1.7"/>
<circle cx="534.1" cy="145.6" r="1.3" fill="url(#gWhite)"/>
<circle cx="531.7" cy="147.9" r="1.3" fill="url(#gWhite)"/>
<circle cx="528.4" cy="146.9" r="1.3" fill="url(#gWhite)"/>
<circle cx="527.7" cy="143.6" r="1.3" fill="url(#gWhite)"/>
<circle cx="530.1" cy="141.3" r="1.3" fill="url(#gWhite)"/>
<circle cx="533.4" cy="142.3" r="1.3" fill="url(#gWhite)"/>
<path d="M528.0,142.8 L525.1,143.5 L523.0,141.3 L523.8,138.4 L526.7,137.7 L528.8,139.9 Z" fill="none" stroke="#c0c0c0" stroke-width="1.7"/>
<circle cx="528.0" cy="142.8" r="1.2" fill="url(#gWhite)"/>
<circle cx="525.1" cy="143.5" r="1.2" fill="url(#gWhite)"/>
<circle cx="523.0" cy="141.3" r="1.2" fill="url(#gWhite)"/>
<circle cx="523.8" cy="138.4" r="1.2" fill="url(#gWhite)"/>
<circle cx="526.7" cy="137.7" r="1.2" fill="url(#gWhite)"/>
<circle cx="528.8" cy="139.9" r="1.2" fill="url(#gWhite)"/>
<path d="M518.6,168.7 L516.2,171.0 L512.9,170.0 L512.2,166.7 L514.6,164.4 L517.9,165.4 Z" fill="none" stroke="#d0d0d0" stroke-width="1.7"/>
<circle cx="518.6" cy="168.7" r="1.3" fill="url(#gWhite)"/>
<circle cx="516.2" cy="171.0" r="1.3" fill="url(#gWhite)"/>
<circle cx="512.9" cy="170.0" r="1.3" fill="url(#gWhite)"/>
<circle cx="512.2" cy="166.7" r="1.3" fill="url(#gWhite)"/>
<circle cx="514.6" cy="164.4" r="1.3" fill="url(#gWhite)"/>
<circle cx="517.9" cy="165.4" r="1.3" fill="url(#gWhite)"/>
<path d="M512.5,165.9 L509.6,166.6 L507.5,164.4 L508.3,161.5 L511.2,160.8 L513.3,163.0 Z" fill="none" stroke="#c0c0c0" stroke-width="1.7"/>
<circle cx="512.5" cy="165.9" r="1.2" fill="url(#gWhite)"/>
<circle cx="509.6" cy="166.6" r="1.2" fill="url(#gWhite)"/>
<circle cx="507.5" cy="164.4" r="1.2" fill="url(#gWhite)"/>
<circle cx="508.3" cy="161.5" r="1.2" fill="url(#gWhite)"/>
<circle cx="511.2" cy="160.8" r="1.2" fill="url(#gWhite)"/>
<circle cx="513.3" cy="163.0" r="1.2" fill="url(#gWhite)"/>
<path d="M621.5,168.7 L619.1,171.0 L615.8,170.0 L615.1,166.7 L617.5,164.4 L620.8,165.4 Z" fill="none" stroke="#d0d0d0" stroke-width="1.7"/>
<circle cx="621.5" cy="168.7" r="1.3" fill="url(#gWhite)"/>
<circle cx="619.1" cy="171.0" r="1.3" fill="url(#gWhite)"/>
<circle cx="615.8" cy="170.0" r="1.3" fill="url(#gWhite)"/>
<circle cx="615.1" cy="166.7" r="1.3" fill="url(#gWhite)"/>
<circle cx="617.5" cy="164.4" r="1.3" fill="url(#gWhite)"/>
<circle cx="620.8" cy="165.4" r="1.3" fill="url(#gWhite)"/>
<path d="M615.4,165.9 L612.5,166.6 L610.4,164.4 L611.2,161.5 L614.1,160.8 L616.2,163.0 Z" fill="none" stroke="#c0c0c0" stroke-width="1.7"/>
<circle cx="615.4" cy="165.9" r="1.2" fill="url(#gWhite)"/>
<circle cx="612.5" cy="166.6" r="1.2" fill="url(#gWhite)"/>
<circle cx="610.4" cy="164.4" r="1.2" fill="url(#gWhite)"/>
<circle cx="611.2" cy="161.5" r="1.2" fill="url(#gWhite)"/>
<circle cx="614.1" cy="160.8" r="1.2" fill="url(#gWhite)"/>
<circle cx="616.2" cy="163.0" r="1.2" fill="url(#gWhite)"/>
<path d="M593.2,186.7 L590.8,189.0 L587.5,188.0 L586.8,184.7 L589.2,182.4 L592.5,183.4 Z" fill="none" stroke="#d0d0d0" stroke-width="1.7"/>
<circle cx="593.2" cy="186.7" r="1.3" fill="url(#gWhite)"/>
<circle cx="590.8" cy="189.0" r="1.3" fill="url(#gWhite)"/>
<circle cx="587.5" cy="188.0" r="1.3" fill="url(#gWhite)"/>
<circle cx="586.8" cy="184.7" r="1.3" fill="url(#gWhite)"/>
<circle cx="589.2" cy="182.4" r="1.3" fill="url(#gWhite)"/>
<circle cx="592.5" cy="183.4" r="1.3" fill="url(#gWhite)"/>
<path d="M587.1,183.9 L584.2,184.6 L582.1,182.4 L582.9,179.5 L585.8,178.8 L587.9,181.0 Z" fill="none" stroke="#c0c0c0" stroke-width="1.7"/>
<circle cx="587.1" cy="183.9" r="1.2" fill="url(#gWhite)"/>
<circle cx="584.2" cy="184.6" r="1.2" fill="url(#gWhite)"/>
<circle cx="582.1" cy="182.4" r="1.2" fill="url(#gWhite)"/>
<circle cx="582.9" cy="179.5" r="1.2" fill="url(#gWhite)"/>
<circle cx="585.8" cy="178.8" r="1.2" fill="url(#gWhite)"/>
<circle cx="587.9" cy="181.0" r="1.2" fill="url(#gWhite)"/>
<path d="M570.1,154.6 L567.7,156.9 L564.4,155.9 L563.7,152.6 L566.1,150.3 L569.4,151.3 Z" fill="none" stroke="#d0d0d0" stroke-width="1.7"/>
<circle cx="570.1" cy="154.6" r="1.3" fill="url(#gWhite)"/>
<circle cx="567.7" cy="156.9" r="1.3" fill="url(#gWhite)"/>
<circle cx="564.4" cy="155.9" r="1.3" fill="url(#gWhite)"/>
<circle cx="563.7" cy="152.6" r="1.3" fill="url(#gWhite)"/>
<circle cx="566.1" cy="150.3" r="1.3" fill="url(#gWhite)"/>
<circle cx="569.4" cy="151.3" r="1.3" fill="url(#gWhite)"/>
<path d="M564.0,151.8 L561.1,152.5 L559.0,150.3 L559.8,147.4 L562.7,146.7 L564.8,148.9 Z" fill="none" stroke="#c0c0c0" stroke-width="1.7"/>
<circle cx="564.0" cy="151.8" r="1.2" fill="url(#gWhite)"/>
<circle cx="561.1" cy="152.5" r="1.2" fill="url(#gWhite)"/>
<circle cx="559.0" cy="150.3" r="1.2" fill="url(#gWhite)"/>
<circle cx="559.8" cy="147.4" r="1.2" fill="url(#gWhite)"/>
<circle cx="562.7" cy="146.7" r="1.2" fill="url(#gWhite)"/>
<circle cx="564.8" cy="148.9" r="1.2" fill="url(#gWhite)"/>
<path d="M525.1,197.0 L522.7,199.3 L519.4,198.3 L518.7,195.0 L521.1,192.7 L524.4,193.7 Z" fill="none" stroke="#d0d0d0" stroke-width="1.7"/>
<circle cx="525.1" cy="197.0" r="1.3" fill="url(#gWhite)"/>
<circle cx="522.7" cy="199.3" r="1.3" fill="url(#gWhite)"/>
<circle cx="519.4" cy="198.3" r="1.3" fill="url(#gWhite)"/>
<circle cx="518.7" cy="195.0" r="1.3" fill="url(#gWhite)"/>
<circle cx="521.1" cy="192.7" r="1.3" fill="url(#gWhite)"/>
<circle cx="524.4" cy="193.7" r="1.3" fill="url(#gWhite)"/>
<path d="M519.0,194.2 L516.1,194.9 L514.0,192.7 L514.8,189.8 L517.7,189.1 L519.8,191.3 Z" fill="none" stroke="#c0c0c0" stroke-width="1.7"/>
<circle cx="519.0" cy="194.2" r="1.2" fill="url(#gWhite)"/>
<circle cx="516.1" cy="194.9" r="1.2" fill="url(#gWhite)"/>
<circle cx="514.0" cy="192.7" r="1.2" fill="url(#gWhite)"/>
<circle cx="514.8" cy="189.8" r="1.2" fill="url(#gWhite)"/>
<circle cx="517.7" cy="189.1" r="1.2" fill="url(#gWhite)"/>
<circle cx="519.8" cy="191.3" r="1.2" fill="url(#gWhite)"/>
<circle cx="496.0" cy="117.0" r="2.3" fill="url(#gGreen)"/>
<circle cx="554.0" cy="121.0" r="2.3" fill="url(#gGreen)"/>
<circle cx="557.0" cy="130.0" r="2.3" fill="url(#gGreen)"/>
<circle cx="600.0" cy="130.0" r="2.3" fill="url(#gGreen)"/>
<circle cx="530.0" cy="145.0" r="2.3" fill="url(#gGreen)"/>
<circle cx="540.0" cy="145.0" r="2.3" fill="url(#gGreen)"/>
<circle cx="508.0" cy="152.0" r="2.3" fill="url(#gGreen)"/>
<circle cx="562.0" cy="160.0" r="2.3" fill="url(#gGreen)"/>
<circle cx="598.0" cy="170.0" r="2.3" fill="url(#gGreen)"/>
<circle cx="612.0" cy="172.0" r="2.3" fill="url(#gGreen)"/>
<circle cx="530.0" cy="182.0" r="2.3" fill="url(#gGreen)"/>
<circle cx="575.0" cy="184.0" r="2.3" fill="url(#gGreen)"/>
<circle cx="560.0" cy="200.0" r="2.3" fill="url(#gGreen)"/>
<circle cx="500.0" cy="182.0" r="2.3" fill="url(#gGreen)"/>
<circle cx="627.0" cy="160.0" r="2.3" fill="url(#gGreen)"/>
<circle cx="485.0" cy="190.0" r="2.3" fill="url(#gGreen)"/>
<path d="M43,274 C43,272 60,272 100,272 L560,272 C600,272 617,274 617,276 C560,282 480,290 420,302 C396,307 386,312 388.5,320 C389,324 392,326 400,326 L453,326 L328,353.5 L205,327 L262,327 C270,327 272,323 270.5,318 C268,310 255,306 235,302 C170,290 90,282 43,274 Z" fill="url(#gFQ)"/>
<text x="332" y="321.3" font-family="Liberation Serif" font-weight="bold" font-size="35.5" fill="#fff" text-anchor="middle">FQs</text>
<text x="52.5" y="119.3" font-family="Liberation Serif" font-weight="bold" font-style="italic" font-size="18.2" fill="#1446c6" stroke="#1446c6" stroke-width="0.3" text-anchor="start" textLength="82.5" lengthAdjust="spacingAndGlyphs" >BDC-NH<tspan font-size="13" dy="5">2</tspan></text>
<text x="75.5" y="183.8" font-family="Liberation Serif" font-weight="bold" font-style="italic" font-size="18.5" fill="#1446c6" stroke="#1446c6" stroke-width="0.3" text-anchor="start" textLength="37.5" lengthAdjust="spacingAndGlyphs" >Eu<tspan font-size="12" font-style="normal" dy="-6">3+</tspan></text>
<text x="71.5" y="247.3" font-family="Liberation Serif" font-weight="bold" font-style="italic" font-size="18.5" fill="#1446c6" stroke="#1446c6" stroke-width="0.3" text-anchor="start" textLength="49" lengthAdjust="spacingAndGlyphs" >Fe<tspan font-size="12.5" dy="4.2">3</tspan><tspan dy="-4.2">O</tspan><tspan font-size="12.5" dy="3.5">4</tspan></text>
<text x="157" y="133.9" font-family="Liberation Serif" font-weight="bold" font-style="italic" font-size="16.3" fill="#1446c6" stroke="#1446c6" stroke-width="0.3" text-anchor="start" textLength="119.5" lengthAdjust="spacingAndGlyphs" >DMF, RT, 10min</text>
<text x="168.5" y="196.3" font-family="Liberation Serif" font-weight="bold" font-style="italic" font-size="15.8" fill="#1446c6" stroke="#1446c6" stroke-width="0.3" text-anchor="start" textLength="78" lengthAdjust="spacingAndGlyphs" >180°C, 24h</text>
<text x="504.5" y="246.7" font-family="Liberation Serif" font-weight="bold" font-style="italic" font-size="18" fill="#1446c6" stroke="#1446c6" stroke-width="0.3" text-anchor="start" textLength="134" lengthAdjust="spacingAndGlyphs" >Fe<tspan font-size="12.5" dy="4.2">3</tspan><tspan dy="-4.2">O</tspan><tspan font-size="12.5" dy="3.5">4</tspan><tspan dy="-3.5">@EuMOF</tspan></text>
<rect x="9.4" y="368.8" width="246" height="204" fill="#ffffff"/>
<polyline points="34.4,539.6 35.4,539.6 36.4,539.5 37.4,539.4 38.4,539.4 39.4,539.3 40.4,539.2 41.4,539.1 42.4,539.0 43.4,538.8 44.4,538.7 45.4,538.5 46.4,538.3 47.4,538.0 48.4,537.8 49.4,537.5 50.4,537.2 51.4,536.8 52.4,536.5 53.4,536.0 54.4,535.6 55.4,535.1 56.4,534.6 57.4,534.0 58.4,533.4 59.4,532.8 60.4,532.1 61.4,531.4 62.4,530.7 63.4,530.0 64.4,529.2 65.4,528.4 66.4,527.7 67.4,526.9 68.4,526.1 69.4,525.3 70.4,524.5 71.4,523.8 72.4,523.1 73.4,522.4 74.4,521.8 75.4,521.2 76.4,520.7 77.4,520.2 78.4,519.8 79.4,519.5 80.4,519.3 81.4,519.1 82.4,519.0 83.4,519.0 84.4,519.0 85.4,519.1 86.4,519.2 87.4,519.3 88.4,519.5 89.4,519.7 90.4,519.9 91.4,520.1 92.4,520.4 93.4,520.7 94.4,520.9 95.4,521.3 96.4,521.6 97.4,521.9 98.4,522.3 99.4,522.6 100.4,523.0 101.4,523.4 102.4,523.8 103.4,524.1 104.4,524.5 105.4,524.9 106.4,525.3 107.4,525.7 108.4,526.1 109.4,526.5 110.4,526.9 111.4,527.2 112.4,527.6 113.4,528.0 114.4,528.4 115.4,528.7 116.4,529.1 117.4,529.4 118.4,529.8 119.4,530.1 120.4,530.4 121.4,530.8 122.4,531.1 123.4,531.4 124.4,531.7 125.4,532.0 126.4,532.2 127.4,532.5 128.4,532.8 129.4,533.0 130.4,533.3 131.4,533.5 132.4,533.8 133.4,534.0 134.4,534.2 135.4,534.4 136.4,534.6 137.4,534.8 138.4,535.0 139.4,535.2 140.4,535.4 141.4,535.6 142.4,535.7 143.4,535.9 144.4,536.0 145.4,536.2 146.4,536.3 147.4,536.5 148.4,536.6 149.4,536.7 150.4,536.8 151.4,537.0 152.4,537.1 153.4,537.2 154.4,537.3 155.4,537.4 156.4,537.5 157.4,537.6 158.4,537.7 159.4,537.8 160.4,537.8 161.4,537.9 162.4,538.0 163.4,538.1 164.4,538.1 165.4,538.2 166.4,538.3 167.4,538.3 168.4,538.4 169.4,538.4 170.4,538.5 171.4,538.6 172.4,538.6 173.4,538.7 174.4,538.7 175.4,538.7 176.4,538.8 177.4,538.8 178.4,538.9 179.4,538.9 180.4,538.9 181.4,539.0 182.4,539.0 183.4,539.0 184.4,539.1 185.4,539.1 186.4,539.1 187.4,539.1 188.4,539.2 189.4,539.2 190.4,539.2 191.4,539.2 192.4,539.3 193.4,539.3 194.4,539.3 195.4,539.3 196.4,539.3 197.4,539.4 198.4,539.4 199.4,539.4 200.4,539.4 201.4,539.4 202.4,539.4 203.4,539.5 204.4,539.5 205.4,539.5 206.4,539.5 207.4,539.5 208.4,539.5 209.4,539.5 210.4,539.5 211.4,539.5 212.4,539.6 213.4,539.6 214.4,539.6" fill="none" stroke="#b87ee8" stroke-width="1.2" stroke-linejoin="round"/>
<polyline points="34.4,539.6 35.4,539.6 36.4,539.6 37.4,539.5 38.4,539.5 39.4,539.4 40.4,539.3 41.4,539.3 42.4,539.2 43.4,539.1 44.4,538.9 45.4,538.8 46.4,538.6 47.4,538.5 48.4,538.3 49.4,538.1 50.4,537.8 51.4,537.6 52.4,537.3 53.4,536.9 54.4,536.6 55.4,536.2 56.4,535.8 57.4,535.4 58.4,535.0 59.4,534.5 60.4,534.0 61.4,533.4 62.4,532.9 63.4,532.3 64.4,531.8 65.4,531.2 66.4,530.6 67.4,530.0 68.4,529.4 69.4,528.8 70.4,528.2 71.4,527.7 72.4,527.1 73.4,526.6 74.4,526.1 75.4,525.7 76.4,525.3 77.4,524.9 78.4,524.6 79.4,524.4 80.4,524.2 81.4,524.1 82.4,524.0 83.4,524.0 84.4,524.0 85.4,524.1 86.4,524.2 87.4,524.2 88.4,524.4 89.4,524.5 90.4,524.7 91.4,524.8 92.4,525.0 93.4,525.3 94.4,525.5 95.4,525.7 96.4,526.0 97.4,526.2 98.4,526.5 99.4,526.8 100.4,527.0 101.4,527.3 102.4,527.6 103.4,527.9 104.4,528.2 105.4,528.5 106.4,528.8 107.4,529.1 108.4,529.4 109.4,529.7 110.4,530.0 111.4,530.3 112.4,530.6 113.4,530.8 114.4,531.1 115.4,531.4 116.4,531.7 117.4,531.9 118.4,532.2 119.4,532.4 120.4,532.7 121.4,532.9 122.4,533.2 123.4,533.4 124.4,533.6 125.4,533.8 126.4,534.1 127.4,534.3 128.4,534.5 129.4,534.7 130.4,534.9 131.4,535.0 132.4,535.2 133.4,535.4 134.4,535.6 135.4,535.7 136.4,535.9 137.4,536.0 138.4,536.2 139.4,536.3 140.4,536.4 141.4,536.6 142.4,536.7 143.4,536.8 144.4,536.9 145.4,537.1 146.4,537.2 147.4,537.3 148.4,537.4 149.4,537.5 150.4,537.6 151.4,537.6 152.4,537.7 153.4,537.8 154.4,537.9 155.4,538.0 156.4,538.0 157.4,538.1 158.4,538.2 159.4,538.2 160.4,538.3 161.4,538.4 162.4,538.4 163.4,538.5 164.4,538.5 165.4,538.6 166.4,538.6 167.4,538.7 168.4,538.7 169.4,538.8 170.4,538.8 171.4,538.9 172.4,538.9 173.4,538.9 174.4,539.0 175.4,539.0 176.4,539.0 177.4,539.1 178.4,539.1 179.4,539.1 180.4,539.1 181.4,539.2 182.4,539.2 183.4,539.2 184.4,539.2 185.4,539.3 186.4,539.3 187.4,539.3 188.4,539.3 189.4,539.3 190.4,539.4 191.4,539.4 192.4,539.4 193.4,539.4 194.4,539.4 195.4,539.4 196.4,539.5 197.4,539.5 198.4,539.5 199.4,539.5 200.4,539.5 201.4,539.5 202.4,539.5 203.4,539.5 204.4,539.5 205.4,539.6 206.4,539.6 207.4,539.6 208.4,539.6 209.4,539.6 210.4,539.6 211.4,539.6 212.4,539.6 213.4,539.6 214.4,539.6" fill="none" stroke="#c28cec" stroke-width="1.2" stroke-linejoin="round"/>
<polyline points="34.4,539.7 35.4,539.7 36.4,539.6 37.4,539.6 38.4,539.6 39.4,539.5 40.4,539.5 41.4,539.4 42.4,539.3 43.4,539.2 44.4,539.2 45.4,539.1 46.4,538.9 47.4,538.8 48.4,538.7 49.4,538.5 50.4,538.3 51.4,538.1 52.4,537.9 53.4,537.7 54.4,537.4 55.4,537.1 56.4,536.8 57.4,536.5 58.4,536.2 59.4,535.8 60.4,535.4 61.4,535.1 62.4,534.6 63.4,534.2 64.4,533.8 65.4,533.4 66.4,532.9 67.4,532.5 68.4,532.0 69.4,531.6 70.4,531.1 71.4,530.7 72.4,530.3 73.4,529.9 74.4,529.6 75.4,529.3 76.4,529.0 77.4,528.7 78.4,528.5 79.4,528.3 80.4,528.2 81.4,528.1 82.4,528.0 83.4,528.0 84.4,528.0 85.4,528.1 86.4,528.1 87.4,528.2 88.4,528.3 89.4,528.4 90.4,528.5 91.4,528.6 92.4,528.8 93.4,528.9 94.4,529.1 95.4,529.3 96.4,529.5 97.4,529.7 98.4,529.9 99.4,530.1 100.4,530.3 101.4,530.5 102.4,530.7 103.4,530.9 104.4,531.1 105.4,531.4 106.4,531.6 107.4,531.8 108.4,532.0 109.4,532.2 110.4,532.5 111.4,532.7 112.4,532.9 113.4,533.1 114.4,533.3 115.4,533.5 116.4,533.7 117.4,533.9 118.4,534.1 119.4,534.3 120.4,534.5 121.4,534.7 122.4,534.8 123.4,535.0 124.4,535.2 125.4,535.4 126.4,535.5 127.4,535.7 128.4,535.8 129.4,536.0 130.4,536.1 131.4,536.2 132.4,536.4 133.4,536.5 134.4,536.6 135.4,536.7 136.4,536.9 137.4,537.0 138.4,537.1 139.4,537.2 140.4,537.3 141.4,537.4 142.4,537.5 143.4,537.6 144.4,537.7 145.4,537.7 146.4,537.8 147.4,537.9 148.4,538.0 149.4,538.1 150.4,538.1 151.4,538.2 152.4,538.3 153.4,538.3 154.4,538.4 155.4,538.4 156.4,538.5 157.4,538.5 158.4,538.6 159.4,538.6 160.4,538.7 161.4,538.7 162.4,538.8 163.4,538.8 164.4,538.9 165.4,538.9 166.4,538.9 167.4,539.0 168.4,539.0 169.4,539.0 170.4,539.1 171.4,539.1 172.4,539.1 173.4,539.1 174.4,539.2 175.4,539.2 176.4,539.2 177.4,539.2 178.4,539.3 179.4,539.3 180.4,539.3 181.4,539.3 182.4,539.3 183.4,539.4 184.4,539.4 185.4,539.4 186.4,539.4 187.4,539.4 188.4,539.4 189.4,539.5 190.4,539.5 191.4,539.5 192.4,539.5 193.4,539.5 194.4,539.5 195.4,539.5 196.4,539.5 197.4,539.6 198.4,539.6 199.4,539.6 200.4,539.6 201.4,539.6 202.4,539.6 203.4,539.6 204.4,539.6 205.4,539.6 206.4,539.6 207.4,539.6 208.4,539.6 209.4,539.6 210.4,539.7 211.4,539.7 212.4,539.7 213.4,539.7 214.4,539.7" fill="none" stroke="#a878e4" stroke-width="1.2" stroke-linejoin="round"/>
<polyline points="34.4,539.7 35.4,539.7 36.4,539.7 37.4,539.7 38.4,539.6 39.4,539.6 40.4,539.6 41.4,539.5 42.4,539.5 43.4,539.4 44.4,539.4 45.4,539.3 46.4,539.2 47.4,539.1 48.4,539.0 49.4,538.9 50.4,538.8 51.4,538.7 52.4,538.5 53.4,538.4 54.4,538.2 55.4,538.0 56.4,537.8 57.4,537.6 58.4,537.4 59.4,537.2 60.4,536.9 61.4,536.7 62.4,536.4 63.4,536.1 64.4,535.8 65.4,535.5 66.4,535.2 67.4,535.0 68.4,534.7 69.4,534.4 70.4,534.1 71.4,533.8 72.4,533.5 73.4,533.3 74.4,533.0 75.4,532.8 76.4,532.6 77.4,532.5 78.4,532.3 79.4,532.2 80.4,532.1 81.4,532.0 82.4,532.0 83.4,532.0 84.4,532.0 85.4,532.0 86.4,532.1 87.4,532.1 88.4,532.2 89.4,532.3 90.4,532.3 91.4,532.4 92.4,532.5 93.4,532.6 94.4,532.7 95.4,532.8 96.4,533.0 97.4,533.1 98.4,533.2 99.4,533.4 100.4,533.5 101.4,533.6 102.4,533.8 103.4,533.9 104.4,534.1 105.4,534.2 106.4,534.4 107.4,534.5 108.4,534.7 109.4,534.8 110.4,534.9 111.4,535.1 112.4,535.2 113.4,535.4 114.4,535.5 115.4,535.6 116.4,535.8 117.4,535.9 118.4,536.0 119.4,536.2 120.4,536.3 121.4,536.4 122.4,536.5 123.4,536.6 124.4,536.8 125.4,536.9 126.4,537.0 127.4,537.1 128.4,537.2 129.4,537.3 130.4,537.4 131.4,537.4 132.4,537.5 133.4,537.6 134.4,537.7 135.4,537.8 136.4,537.9 137.4,537.9 138.4,538.0 139.4,538.1 140.4,538.1 141.4,538.2 142.4,538.3 143.4,538.3 144.4,538.4 145.4,538.4 146.4,538.5 147.4,538.5 148.4,538.6 149.4,538.6 150.4,538.7 151.4,538.7 152.4,538.8 153.4,538.8 154.4,538.9 155.4,538.9 156.4,538.9 157.4,539.0 158.4,539.0 159.4,539.0 160.4,539.1 161.4,539.1 162.4,539.1 163.4,539.2 164.4,539.2 165.4,539.2 166.4,539.2 167.4,539.2 168.4,539.3 169.4,539.3 170.4,539.3 171.4,539.3 172.4,539.4 173.4,539.4 174.4,539.4 175.4,539.4 176.4,539.4 177.4,539.4 178.4,539.4 179.4,539.5 180.4,539.5 181.4,539.5 182.4,539.5 183.4,539.5 184.4,539.5 185.4,539.5 186.4,539.5 187.4,539.6 188.4,539.6 189.4,539.6 190.4,539.6 191.4,539.6 192.4,539.6 193.4,539.6 194.4,539.6 195.4,539.6 196.4,539.6 197.4,539.6 198.4,539.6 199.4,539.6 200.4,539.7 201.4,539.7 202.4,539.7 203.4,539.7 204.4,539.7 205.4,539.7 206.4,539.7 207.4,539.7 208.4,539.7 209.4,539.7 210.4,539.7 211.4,539.7 212.4,539.7 213.4,539.7 214.4,539.7" fill="none" stroke="#c898f0" stroke-width="1.2" stroke-linejoin="round"/>
<polyline points="34.4,539.8 35.4,539.7 36.4,539.7 37.4,539.7 38.4,539.7 39.4,539.7 40.4,539.7 41.4,539.7 42.4,539.6 43.4,539.6 44.4,539.6 45.4,539.5 46.4,539.5 47.4,539.4 48.4,539.4 49.4,539.3 50.4,539.3 51.4,539.2 52.4,539.1 53.4,539.0 54.4,538.9 55.4,538.8 56.4,538.7 57.4,538.6 58.4,538.5 59.4,538.4 60.4,538.2 61.4,538.1 62.4,537.9 63.4,537.8 64.4,537.6 65.4,537.5 66.4,537.3 67.4,537.1 68.4,537.0 69.4,536.8 70.4,536.6 71.4,536.5 72.4,536.3 73.4,536.2 74.4,536.1 75.4,536.0 76.4,535.9 77.4,535.8 78.4,535.7 79.4,535.6 80.4,535.6 81.4,535.5 82.4,535.5 83.4,535.5 84.4,535.5 85.4,535.5 86.4,535.5 87.4,535.6 88.4,535.6 89.4,535.6 90.4,535.7 91.4,535.7 92.4,535.8 93.4,535.8 94.4,535.9 95.4,536.0 96.4,536.0 97.4,536.1 98.4,536.2 99.4,536.3 100.4,536.3 101.4,536.4 102.4,536.5 103.4,536.6 104.4,536.6 105.4,536.7 106.4,536.8 107.4,536.9 108.4,537.0 109.4,537.0 110.4,537.1 111.4,537.2 112.4,537.3 113.4,537.4 114.4,537.4 115.4,537.5 116.4,537.6 117.4,537.7 118.4,537.7 119.4,537.8 120.4,537.9 121.4,537.9 122.4,538.0 123.4,538.1 124.4,538.1 125.4,538.2 126.4,538.2 127.4,538.3 128.4,538.3 129.4,538.4 130.4,538.5 131.4,538.5 132.4,538.6 133.4,538.6 134.4,538.6 135.4,538.7 136.4,538.7 137.4,538.8 138.4,538.8 139.4,538.8 140.4,538.9 141.4,538.9 142.4,539.0 143.4,539.0 144.4,539.0 145.4,539.1 146.4,539.1 147.4,539.1 148.4,539.1 149.4,539.2 150.4,539.2 151.4,539.2 152.4,539.2 153.4,539.3 154.4,539.3 155.4,539.3 156.4,539.3 157.4,539.3 158.4,539.4 159.4,539.4 160.4,539.4 161.4,539.4 162.4,539.4 163.4,539.4 164.4,539.5 165.4,539.5 166.4,539.5 167.4,539.5 168.4,539.5 169.4,539.5 170.4,539.5 171.4,539.5 172.4,539.6 173.4,539.6 174.4,539.6 175.4,539.6 176.4,539.6 177.4,539.6 178.4,539.6 179.4,539.6 180.4,539.6 181.4,539.6 182.4,539.6 183.4,539.6 184.4,539.6 185.4,539.7 186.4,539.7 187.4,539.7 188.4,539.7 189.4,539.7 190.4,539.7 191.4,539.7 192.4,539.7 193.4,539.7 194.4,539.7 195.4,539.7 196.4,539.7 197.4,539.7 198.4,539.7 199.4,539.7 200.4,539.7 201.4,539.7 202.4,539.7 203.4,539.7 204.4,539.7 205.4,539.7 206.4,539.7 207.4,539.7 208.4,539.7 209.4,539.7 210.4,539.7 211.4,539.7 212.4,539.7 213.4,539.8 214.4,539.8" fill="none" stroke="#b488ea" stroke-width="1.2" stroke-linejoin="round"/>
<polyline points="34.4,539.8 35.4,539.8 36.4,539.8 37.4,539.8 38.4,539.8 39.4,539.8 40.4,539.8 41.4,539.8 42.4,539.8 43.4,539.8 44.4,539.8 45.4,539.8 46.4,539.7 47.4,539.7 48.4,539.7 49.4,539.7 50.4,539.6 51.4,539.6 52.4,539.5 53.4,539.4 54.4,539.3 55.4,539.2 56.4,539.1 57.4,538.9 58.4,538.7 59.4,538.4 60.4,538.1 61.4,537.7 62.4,537.3 63.4,536.8 64.4,536.2 65.4,535.6 66.4,534.8 67.4,534.0 68.4,533.0 69.4,532.0 70.4,530.9 71.4,529.6 72.4,528.3 73.4,526.8 74.4,525.3 75.4,523.7 76.4,522.0 77.4,520.3 78.4,518.5 79.4,516.8 80.4,515.0 81.4,513.3 82.4,511.6 83.4,510.0 84.4,508.5 85.4,507.2 86.4,506.0 87.4,505.0 88.4,504.2 89.4,503.6 90.4,503.2 91.4,503.0 92.4,503.0 93.4,503.2 94.4,503.4 95.4,503.7 96.4,504.0 97.4,504.5 98.4,505.0 99.4,505.6 100.4,506.2 101.4,506.9 102.4,507.7 103.4,508.5 104.4,509.3 105.4,510.1 106.4,511.0 107.4,511.9 108.4,512.8 109.4,513.7 110.4,514.6 111.4,515.6 112.4,516.5 113.4,517.4 114.4,518.3 115.4,519.2 116.4,520.1 117.4,520.9 118.4,521.8 119.4,522.6 120.4,523.4 121.4,524.2 122.4,524.9 123.4,525.7 124.4,526.4 125.4,527.0 126.4,527.7 127.4,528.3 128.4,528.9 129.4,529.5 130.4,530.1 131.4,530.6 132.4,531.1 133.4,531.6 134.4,532.1 135.4,532.5 136.4,533.0 137.4,533.4 138.4,533.7 139.4,534.1 140.4,534.4 141.4,534.8 142.4,535.1 143.4,535.4 144.4,535.6 145.4,535.9 146.4,536.1 147.4,536.4 148.4,536.6 149.4,536.8 150.4,537.0 151.4,537.1 152.4,537.3 153.4,537.5 154.4,537.6 155.4,537.8 156.4,537.9 157.4,538.0 158.4,538.1 159.4,538.2 160.4,538.3 161.4,538.4 162.4,538.5 163.4,538.6 164.4,538.7 165.4,538.8 166.4,538.8 167.4,538.9 168.4,539.0 169.4,539.0 170.4,539.1 171.4,539.1 172.4,539.2 173.4,539.2 174.4,539.2 175.4,539.3 176.4,539.3 177.4,539.3 178.4,539.4 179.4,539.4 180.4,539.4 181.4,539.5 182.4,539.5 183.4,539.5 184.4,539.5 185.4,539.5 186.4,539.6 187.4,539.6 188.4,539.6 189.4,539.6 190.4,539.6 191.4,539.6 192.4,539.6 193.4,539.6 194.4,539.7 195.4,539.7 196.4,539.7 197.4,539.7 198.4,539.7 199.4,539.7 200.4,539.7 201.4,539.7 202.4,539.7 203.4,539.7 204.4,539.7 205.4,539.7 206.4,539.7 207.4,539.7 208.4,539.7 209.4,539.7 210.4,539.8 211.4,539.8 212.4,539.8 213.4,539.8" fill="none" stroke="#7e4ad8" stroke-width="1.5" stroke-linejoin="round"/>
<polyline points="34.4,539.8 35.4,539.8 36.4,539.8 37.4,539.8 38.4,539.8 39.4,539.8 40.4,539.8 41.4,539.8 42.4,539.8 43.4,539.8 44.4,539.8 45.4,539.7 46.4,539.7 47.4,539.7 48.4,539.7 49.4,539.6 50.4,539.6 51.4,539.5 52.4,539.4 53.4,539.3 54.4,539.2 55.4,539.0 56.4,538.8 57.4,538.6 58.4,538.3 59.4,537.9 60.4,537.5 61.4,537.0 62.4,536.5 63.4,535.8 64.4,535.1 65.4,534.2 66.4,533.2 67.4,532.1 68.4,530.8 69.4,529.5 70.4,528.0 71.4,526.3 72.4,524.5 73.4,522.6 74.4,520.6 75.4,518.4 76.4,516.2 77.4,513.9 78.4,511.6 79.4,509.3 80.4,506.9 81.4,504.6 82.4,502.4 83.4,500.3 84.4,498.4 85.4,496.6 86.4,495.0 87.4,493.6 88.4,492.5 89.4,491.7 90.4,491.2 91.4,491.0 92.4,491.0 93.4,491.2 94.4,491.5 95.4,491.9 96.4,492.4 97.4,493.0 98.4,493.7 99.4,494.5 100.4,495.3 101.4,496.2 102.4,497.2 103.4,498.3 104.4,499.3 105.4,500.5 106.4,501.6 107.4,502.8 108.4,504.0 109.4,505.2 110.4,506.4 111.4,507.6 112.4,508.9 113.4,510.1 114.4,511.3 115.4,512.4 116.4,513.6 117.4,514.8 118.4,515.9 119.4,517.0 120.4,518.0 121.4,519.1 122.4,520.1 123.4,521.0 124.4,522.0 125.4,522.9 126.4,523.8 127.4,524.6 128.4,525.4 129.4,526.2 130.4,526.9 131.4,527.6 132.4,528.3 133.4,529.0 134.4,529.6 135.4,530.2 136.4,530.7 137.4,531.3 138.4,531.8 139.4,532.2 140.4,532.7 141.4,533.1 142.4,533.5 143.4,533.9 144.4,534.3 145.4,534.6 146.4,534.9 147.4,535.2 148.4,535.5 149.4,535.8 150.4,536.0 151.4,536.3 152.4,536.5 153.4,536.7 154.4,536.9 155.4,537.1 156.4,537.3 157.4,537.4 158.4,537.6 159.4,537.7 160.4,537.9 161.4,538.0 162.4,538.1 163.4,538.2 164.4,538.3 165.4,538.4 166.4,538.5 167.4,538.6 168.4,538.7 169.4,538.8 170.4,538.8 171.4,538.9 172.4,539.0 173.4,539.0 174.4,539.1 175.4,539.1 176.4,539.2 177.4,539.2 178.4,539.2 179.4,539.3 180.4,539.3 181.4,539.3 182.4,539.4 183.4,539.4 184.4,539.4 185.4,539.5 186.4,539.5 187.4,539.5 188.4,539.5 189.4,539.5 190.4,539.6 191.4,539.6 192.4,539.6 193.4,539.6 194.4,539.6 195.4,539.6 196.4,539.6 197.4,539.6 198.4,539.7 199.4,539.7 200.4,539.7 201.4,539.7 202.4,539.7 203.4,539.7 204.4,539.7 205.4,539.7 206.4,539.7 207.4,539.7 208.4,539.7 209.4,539.7 210.4,539.7 211.4,539.7 212.4,539.7 213.4,539.7" fill="none" stroke="#8652dc" stroke-width="1.5" stroke-linejoin="round"/>
<polyline points="34.4,539.8 35.4,539.8 36.4,539.8 37.4,539.8 38.4,539.8 39.4,539.8 40.4,539.8 41.4,539.8 42.4,539.8 43.4,539.8 44.4,539.7 45.4,539.7 46.4,539.7 47.4,539.7 48.4,539.6 49.4,539.6 50.4,539.5 51.4,539.4 52.4,539.3 53.4,539.2 54.4,539.0 55.4,538.9 56.4,538.6 57.4,538.3 58.4,538.0 59.4,537.6 60.4,537.1 61.4,536.5 62.4,535.8 63.4,535.0 64.4,534.1 65.4,533.0 66.4,531.8 67.4,530.5 68.4,529.0 69.4,527.3 70.4,525.5 71.4,523.5 72.4,521.4 73.4,519.1 74.4,516.6 75.4,514.1 76.4,511.4 77.4,508.6 78.4,505.8 79.4,503.0 80.4,500.2 81.4,497.4 82.4,494.8 83.4,492.2 84.4,489.9 85.4,487.7 86.4,485.8 87.4,484.2 88.4,482.9 89.4,481.9 90.4,481.3 91.4,481.0 92.4,481.0 93.4,481.2 94.4,481.6 95.4,482.1 96.4,482.7 97.4,483.4 98.4,484.2 99.4,485.2 100.4,486.2 101.4,487.3 102.4,488.5 103.4,489.7 104.4,491.0 105.4,492.4 106.4,493.8 107.4,495.2 108.4,496.7 109.4,498.1 110.4,499.6 111.4,501.1 112.4,502.5 113.4,504.0 114.4,505.4 115.4,506.8 116.4,508.2 117.4,509.6 118.4,511.0 119.4,512.3 120.4,513.6 121.4,514.8 122.4,516.0 123.4,517.2 124.4,518.3 125.4,519.4 126.4,520.5 127.4,521.5 128.4,522.5 129.4,523.4 130.4,524.3 131.4,525.1 132.4,526.0 133.4,526.7 134.4,527.5 135.4,528.2 136.4,528.9 137.4,529.5 138.4,530.1 139.4,530.7 140.4,531.2 141.4,531.7 142.4,532.2 143.4,532.7 144.4,533.1 145.4,533.5 146.4,533.9 147.4,534.3 148.4,534.6 149.4,535.0 150.4,535.3 151.4,535.6 152.4,535.8 153.4,536.1 154.4,536.3 155.4,536.5 156.4,536.8 157.4,537.0 158.4,537.1 159.4,537.3 160.4,537.5 161.4,537.6 162.4,537.8 163.4,537.9 164.4,538.0 165.4,538.1 166.4,538.3 167.4,538.4 168.4,538.5 169.4,538.5 170.4,538.6 171.4,538.7 172.4,538.8 173.4,538.8 174.4,538.9 175.4,539.0 176.4,539.0 177.4,539.1 178.4,539.1 179.4,539.2 180.4,539.2 181.4,539.2 182.4,539.3 183.4,539.3 184.4,539.4 185.4,539.4 186.4,539.4 187.4,539.4 188.4,539.5 189.4,539.5 190.4,539.5 191.4,539.5 192.4,539.5 193.4,539.6 194.4,539.6 195.4,539.6 196.4,539.6 197.4,539.6 198.4,539.6 199.4,539.6 200.4,539.7 201.4,539.7 202.4,539.7 203.4,539.7 204.4,539.7 205.4,539.7 206.4,539.7 207.4,539.7 208.4,539.7 209.4,539.7 210.4,539.7 211.4,539.7 212.4,539.7 213.4,539.7" fill="none" stroke="#7a5ee0" stroke-width="1.5" stroke-linejoin="round"/>
<polyline points="34.4,539.8 35.4,539.8 36.4,539.8 37.4,539.8 38.4,539.8 39.4,539.8 40.4,539.8 41.4,539.8 42.4,539.8 43.4,539.8 44.4,539.7 45.4,539.7 46.4,539.7 47.4,539.6 48.4,539.6 49.4,539.5 50.4,539.5 51.4,539.4 52.4,539.2 53.4,539.1 54.4,538.9 55.4,538.7 56.4,538.4 57.4,538.0 58.4,537.6 59.4,537.1 60.4,536.5 61.4,535.8 62.4,535.0 63.4,534.0 64.4,532.9 65.4,531.7 66.4,530.2 67.4,528.6 68.4,526.8 69.4,524.8 70.4,522.6 71.4,520.2 72.4,517.6 73.4,514.9 74.4,511.9 75.4,508.8 76.4,505.6 77.4,502.3 78.4,498.9 79.4,495.5 80.4,492.1 81.4,488.8 82.4,485.6 83.4,482.5 84.4,479.7 85.4,477.1 86.4,474.8 87.4,472.8 88.4,471.2 89.4,470.1 90.4,469.3 91.4,469.0 92.4,469.1 93.4,469.3 94.4,469.7 95.4,470.3 96.4,471.0 97.4,471.9 98.4,472.9 99.4,474.0 100.4,475.3 101.4,476.6 102.4,478.0 103.4,479.5 104.4,481.1 105.4,482.7 106.4,484.4 107.4,486.1 108.4,487.9 109.4,489.6 110.4,491.4 111.4,493.1 112.4,494.9 113.4,496.7 114.4,498.4 115.4,500.1 116.4,501.8 117.4,503.5 118.4,505.1 119.4,506.7 120.4,508.2 121.4,509.7 122.4,511.2 123.4,512.6 124.4,513.9 125.4,515.3 126.4,516.5 127.4,517.7 128.4,518.9 129.4,520.0 130.4,521.1 131.4,522.1 132.4,523.1 133.4,524.1 134.4,525.0 135.4,525.8 136.4,526.6 137.4,527.4 138.4,528.1 139.4,528.8 140.4,529.5 141.4,530.1 142.4,530.7 143.4,531.2 144.4,531.8 145.4,532.3 146.4,532.7 147.4,533.2 148.4,533.6 149.4,534.0 150.4,534.3 151.4,534.7 152.4,535.0 153.4,535.3 154.4,535.6 155.4,535.9 156.4,536.1 157.4,536.4 158.4,536.6 159.4,536.8 160.4,537.0 161.4,537.2 162.4,537.4 163.4,537.5 164.4,537.7 165.4,537.8 166.4,537.9 167.4,538.1 168.4,538.2 169.4,538.3 170.4,538.4 171.4,538.5 172.4,538.6 173.4,538.6 174.4,538.7 175.4,538.8 176.4,538.9 177.4,538.9 178.4,539.0 179.4,539.0 180.4,539.1 181.4,539.1 182.4,539.2 183.4,539.2 184.4,539.3 185.4,539.3 186.4,539.3 187.4,539.4 188.4,539.4 189.4,539.4 190.4,539.4 191.4,539.5 192.4,539.5 193.4,539.5 194.4,539.5 195.4,539.5 196.4,539.6 197.4,539.6 198.4,539.6 199.4,539.6 200.4,539.6 201.4,539.6 202.4,539.6 203.4,539.7 204.4,539.7 205.4,539.7 206.4,539.7 207.4,539.7 208.4,539.7 209.4,539.7 210.4,539.7 211.4,539.7 212.4,539.7 213.4,539.7" fill="none" stroke="#6a8ee4" stroke-width="1.5" stroke-linejoin="round"/>
<polyline points="34.4,539.8 35.4,539.8 36.4,539.8 37.4,539.8 38.4,539.8 39.4,539.8 40.4,539.8 41.4,539.8 42.4,539.8 43.4,539.7 44.4,539.7 45.4,539.7 46.4,539.7 47.4,539.6 48.4,539.6 49.4,539.5 50.4,539.4 51.4,539.3 52.4,539.2 53.4,539.0 54.4,538.8 55.4,538.5 56.4,538.2 57.4,537.8 58.4,537.3 59.4,536.7 60.4,536.0 61.4,535.2 62.4,534.3 63.4,533.2 64.4,531.9 65.4,530.5 66.4,528.9 67.4,527.0 68.4,525.0 69.4,522.7 70.4,520.2 71.4,517.4 72.4,514.5 73.4,511.3 74.4,508.0 75.4,504.4 76.4,500.8 77.4,497.0 78.4,493.1 79.4,489.2 80.4,485.4 81.4,481.6 82.4,477.9 83.4,474.4 84.4,471.2 85.4,468.2 86.4,465.6 87.4,463.4 88.4,461.6 89.4,460.2 90.4,459.4 91.4,459.0 92.4,459.1 93.4,459.3 94.4,459.8 95.4,460.5 96.4,461.3 97.4,462.3 98.4,463.4 99.4,464.7 100.4,466.1 101.4,467.7 102.4,469.3 103.4,471.0 104.4,472.8 105.4,474.7 106.4,476.6 107.4,478.5 108.4,480.5 109.4,482.5 110.4,484.5 111.4,486.6 112.4,488.6 113.4,490.6 114.4,492.6 115.4,494.5 116.4,496.4 117.4,498.3 118.4,500.2 119.4,502.0 120.4,503.8 121.4,505.5 122.4,507.1 123.4,508.7 124.4,510.3 125.4,511.8 126.4,513.2 127.4,514.6 128.4,516.0 129.4,517.3 130.4,518.5 131.4,519.7 132.4,520.8 133.4,521.9 134.4,522.9 135.4,523.8 136.4,524.8 137.4,525.6 138.4,526.5 139.4,527.3 140.4,528.0 141.4,528.7 142.4,529.4 143.4,530.0 144.4,530.6 145.4,531.2 146.4,531.7 147.4,532.2 148.4,532.7 149.4,533.2 150.4,533.6 151.4,534.0 152.4,534.3 153.4,534.7 154.4,535.0 155.4,535.3 156.4,535.6 157.4,535.9 158.4,536.1 159.4,536.4 160.4,536.6 161.4,536.8 162.4,537.0 163.4,537.2 164.4,537.4 165.4,537.5 166.4,537.7 167.4,537.8 168.4,537.9 169.4,538.1 170.4,538.2 171.4,538.3 172.4,538.4 173.4,538.5 174.4,538.6 175.4,538.7 176.4,538.7 177.4,538.8 178.4,538.9 179.4,538.9 180.4,539.0 181.4,539.0 182.4,539.1 183.4,539.1 184.4,539.2 185.4,539.2 186.4,539.3 187.4,539.3 188.4,539.3 189.4,539.4 190.4,539.4 191.4,539.4 192.4,539.4 193.4,539.5 194.4,539.5 195.4,539.5 196.4,539.5 197.4,539.5 198.4,539.6 199.4,539.6 200.4,539.6 201.4,539.6 202.4,539.6 203.4,539.6 204.4,539.6 205.4,539.7 206.4,539.7 207.4,539.7 208.4,539.7 209.4,539.7 210.4,539.7 211.4,539.7 212.4,539.7 213.4,539.7" fill="none" stroke="#76aaea" stroke-width="1.5" stroke-linejoin="round"/>
<polyline points="34.4,539.8 35.4,539.8 36.4,539.8 37.4,539.8 38.4,539.8 39.4,539.8 40.4,539.8 41.4,539.8 42.4,539.8 43.4,539.7 44.4,539.7 45.4,539.7 46.4,539.7 47.4,539.6 48.4,539.6 49.4,539.5 50.4,539.4 51.4,539.3 52.4,539.1 53.4,538.9 54.4,538.7 55.4,538.4 56.4,538.0 57.4,537.6 58.4,537.1 59.4,536.5 60.4,535.8 61.4,534.9 62.4,533.9 63.4,532.7 64.4,531.4 65.4,529.8 66.4,528.1 67.4,526.1 68.4,523.9 69.4,521.4 70.4,518.7 71.4,515.8 72.4,512.6 73.4,509.2 74.4,505.6 75.4,501.8 76.4,497.9 77.4,493.8 78.4,489.7 79.4,485.5 80.4,481.3 81.4,477.3 82.4,473.3 83.4,469.6 84.4,466.1 85.4,462.9 86.4,460.1 87.4,457.7 88.4,455.8 89.4,454.3 90.4,453.4 91.4,453.0 92.4,453.1 93.4,453.4 94.4,453.9 95.4,454.6 96.4,455.5 97.4,456.5 98.4,457.8 99.4,459.1 100.4,460.7 101.4,462.3 102.4,464.1 103.4,465.9 104.4,467.8 105.4,469.8 106.4,471.9 107.4,474.0 108.4,476.1 109.4,478.3 110.4,480.4 111.4,482.6 112.4,484.8 113.4,486.9 114.4,489.0 115.4,491.1 116.4,493.2 117.4,495.2 118.4,497.2 119.4,499.2 120.4,501.1 121.4,502.9 122.4,504.7 123.4,506.4 124.4,508.1 125.4,509.7 126.4,511.3 127.4,512.8 128.4,514.2 129.4,515.6 130.4,516.9 131.4,518.2 132.4,519.4 133.4,520.5 134.4,521.6 135.4,522.7 136.4,523.7 137.4,524.6 138.4,525.5 139.4,526.3 140.4,527.1 141.4,527.9 142.4,528.6 143.4,529.3 144.4,530.0 145.4,530.6 146.4,531.1 147.4,531.7 148.4,532.2 149.4,532.7 150.4,533.1 151.4,533.5 152.4,533.9 153.4,534.3 154.4,534.7 155.4,535.0 156.4,535.3 157.4,535.6 158.4,535.9 159.4,536.1 160.4,536.4 161.4,536.6 162.4,536.8 163.4,537.0 164.4,537.2 165.4,537.4 166.4,537.5 167.4,537.7 168.4,537.8 169.4,537.9 170.4,538.1 171.4,538.2 172.4,538.3 173.4,538.4 174.4,538.5 175.4,538.6 176.4,538.7 177.4,538.7 178.4,538.8 179.4,538.9 180.4,538.9 181.4,539.0 182.4,539.0 183.4,539.1 184.4,539.1 185.4,539.2 186.4,539.2 187.4,539.3 188.4,539.3 189.4,539.3 190.4,539.4 191.4,539.4 192.4,539.4 193.4,539.4 194.4,539.5 195.4,539.5 196.4,539.5 197.4,539.5 198.4,539.5 199.4,539.6 200.4,539.6 201.4,539.6 202.4,539.6 203.4,539.6 204.4,539.6 205.4,539.6 206.4,539.7 207.4,539.7 208.4,539.7 209.4,539.7 210.4,539.7 211.4,539.7 212.4,539.7 213.4,539.7" fill="none" stroke="#5cb4ea" stroke-width="1.5" stroke-linejoin="round"/>
<polyline points="34.4,539.8 35.4,539.8 36.4,539.8 37.4,539.8 38.4,539.8 39.4,539.8 40.4,539.8 41.4,539.8 42.4,539.8 43.4,539.7 44.4,539.7 45.4,539.7 46.4,539.6 47.4,539.6 48.4,539.5 49.4,539.5 50.4,539.3 51.4,539.2 52.4,539.0 53.4,538.8 54.4,538.6 55.4,538.3 56.4,537.9 57.4,537.4 58.4,536.8 59.4,536.2 60.4,535.4 61.4,534.4 62.4,533.3 63.4,532.0 64.4,530.5 65.4,528.8 66.4,526.9 67.4,524.7 68.4,522.3 69.4,519.6 70.4,516.7 71.4,513.4 72.4,510.0 73.4,506.2 74.4,502.3 75.4,498.1 76.4,493.8 77.4,489.3 78.4,484.7 79.4,480.2 80.4,475.6 81.4,471.1 82.4,466.8 83.4,462.7 84.4,458.9 85.4,455.4 86.4,452.3 87.4,449.7 88.4,447.5 89.4,445.9 90.4,444.9 91.4,444.5 92.4,444.6 93.4,444.9 94.4,445.4 95.4,446.2 96.4,447.2 97.4,448.4 98.4,449.7 99.4,451.2 100.4,452.9 101.4,454.7 102.4,456.6 103.4,458.7 104.4,460.8 105.4,463.0 106.4,465.2 107.4,467.5 108.4,469.9 109.4,472.2 110.4,474.6 111.4,477.0 112.4,479.4 113.4,481.7 114.4,484.1 115.4,486.4 116.4,488.7 117.4,490.9 118.4,493.1 119.4,495.2 120.4,497.3 121.4,499.3 122.4,501.3 123.4,503.2 124.4,505.0 125.4,506.8 126.4,508.5 127.4,510.1 128.4,511.7 129.4,513.2 130.4,514.7 131.4,516.0 132.4,517.4 133.4,518.6 134.4,519.8 135.4,521.0 136.4,522.1 137.4,523.1 138.4,524.1 139.4,525.0 140.4,525.9 141.4,526.7 142.4,527.5 143.4,528.3 144.4,529.0 145.4,529.7 146.4,530.3 147.4,530.9 148.4,531.4 149.4,532.0 150.4,532.5 151.4,532.9 152.4,533.4 153.4,533.8 154.4,534.2 155.4,534.5 156.4,534.9 157.4,535.2 158.4,535.5 159.4,535.8 160.4,536.0 161.4,536.3 162.4,536.5 163.4,536.7 164.4,536.9 165.4,537.1 166.4,537.3 167.4,537.5 168.4,537.6 169.4,537.8 170.4,537.9 171.4,538.0 172.4,538.1 173.4,538.3 174.4,538.4 175.4,538.5 176.4,538.5 177.4,538.6 178.4,538.7 179.4,538.8 180.4,538.8 181.4,538.9 182.4,539.0 183.4,539.0 184.4,539.1 185.4,539.1 186.4,539.2 187.4,539.2 188.4,539.2 189.4,539.3 190.4,539.3 191.4,539.4 192.4,539.4 193.4,539.4 194.4,539.4 195.4,539.5 196.4,539.5 197.4,539.5 198.4,539.5 199.4,539.5 200.4,539.6 201.4,539.6 202.4,539.6 203.4,539.6 204.4,539.6 205.4,539.6 206.4,539.6 207.4,539.6 208.4,539.7 209.4,539.7 210.4,539.7 211.4,539.7 212.4,539.7 213.4,539.7" fill="none" stroke="#64d2b0" stroke-width="1.5" stroke-linejoin="round"/>
<polyline points="34.4,539.8 35.4,539.8 36.4,539.8 37.4,539.8 38.4,539.8 39.4,539.8 40.4,539.8 41.4,539.8 42.4,539.8 43.4,539.7 44.4,539.7 45.4,539.7 46.4,539.6 47.4,539.6 48.4,539.5 49.4,539.4 50.4,539.3 51.4,539.2 52.4,539.0 53.4,538.8 54.4,538.5 55.4,538.2 56.4,537.8 57.4,537.3 58.4,536.7 59.4,536.0 60.4,535.1 61.4,534.2 62.4,533.0 63.4,531.6 64.4,530.1 65.4,528.3 66.4,526.3 67.4,524.0 68.4,521.5 69.4,518.7 70.4,515.6 71.4,512.2 72.4,508.5 73.4,504.6 74.4,500.5 75.4,496.1 76.4,491.6 77.4,486.9 78.4,482.1 79.4,477.3 80.4,472.6 81.4,467.9 82.4,463.4 83.4,459.0 84.4,455.0 85.4,451.4 86.4,448.1 87.4,445.4 88.4,443.2 89.4,441.5 90.4,440.5 91.4,440.0 92.4,440.1 93.4,440.4 94.4,441.0 95.4,441.8 96.4,442.8 97.4,444.1 98.4,445.5 99.4,447.1 100.4,448.8 101.4,450.7 102.4,452.7 103.4,454.8 104.4,457.1 105.4,459.4 106.4,461.7 107.4,464.1 108.4,466.6 109.4,469.1 110.4,471.5 111.4,474.0 112.4,476.5 113.4,479.0 114.4,481.4 115.4,483.9 116.4,486.2 117.4,488.6 118.4,490.9 119.4,493.1 120.4,495.3 121.4,497.4 122.4,499.4 123.4,501.4 124.4,503.4 125.4,505.2 126.4,507.0 127.4,508.7 128.4,510.4 129.4,512.0 130.4,513.5 131.4,514.9 132.4,516.3 133.4,517.6 134.4,518.9 135.4,520.1 136.4,521.2 137.4,522.3 138.4,523.3 139.4,524.3 140.4,525.2 141.4,526.1 142.4,527.0 143.4,527.7 144.4,528.5 145.4,529.2 146.4,529.8 147.4,530.5 148.4,531.0 149.4,531.6 150.4,532.1 151.4,532.6 152.4,533.1 153.4,533.5 154.4,533.9 155.4,534.3 156.4,534.6 157.4,535.0 158.4,535.3 159.4,535.6 160.4,535.9 161.4,536.1 162.4,536.4 163.4,536.6 164.4,536.8 165.4,537.0 166.4,537.2 167.4,537.4 168.4,537.5 169.4,537.7 170.4,537.8 171.4,537.9 172.4,538.1 173.4,538.2 174.4,538.3 175.4,538.4 176.4,538.5 177.4,538.6 178.4,538.7 179.4,538.7 180.4,538.8 181.4,538.9 182.4,538.9 183.4,539.0 184.4,539.0 185.4,539.1 186.4,539.1 187.4,539.2 188.4,539.2 189.4,539.3 190.4,539.3 191.4,539.3 192.4,539.4 193.4,539.4 194.4,539.4 195.4,539.4 196.4,539.5 197.4,539.5 198.4,539.5 199.4,539.5 200.4,539.5 201.4,539.6 202.4,539.6 203.4,539.6 204.4,539.6 205.4,539.6 206.4,539.6 207.4,539.6 208.4,539.7 209.4,539.7 210.4,539.7 211.4,539.7 212.4,539.7 213.4,539.7" fill="none" stroke="#70dc90" stroke-width="1.5" stroke-linejoin="round"/>
<polyline points="34.4,539.8 35.4,539.8 36.4,539.8 37.4,539.8 38.4,539.8 39.4,539.8 40.4,539.8 41.4,539.8 42.4,539.7 43.4,539.7 44.4,539.7 45.4,539.7 46.4,539.6 47.4,539.6 48.4,539.5 49.4,539.4 50.4,539.3 51.4,539.1 52.4,539.0 53.4,538.7 54.4,538.4 55.4,538.1 56.4,537.7 57.4,537.1 58.4,536.5 59.4,535.8 60.4,534.9 61.4,533.8 62.4,532.6 63.4,531.2 64.4,529.5 65.4,527.6 66.4,525.5 67.4,523.1 68.4,520.4 69.4,517.4 70.4,514.1 71.4,510.5 72.4,506.7 73.4,502.5 74.4,498.1 75.4,493.5 76.4,488.7 77.4,483.7 78.4,478.7 79.4,473.6 80.4,468.5 81.4,463.6 82.4,458.8 83.4,454.2 84.4,449.9 85.4,446.1 86.4,442.6 87.4,439.7 88.4,437.4 89.4,435.6 90.4,434.5 91.4,434.0 92.4,434.1 93.4,434.4 94.4,435.1 95.4,435.9 96.4,437.0 97.4,438.3 98.4,439.8 99.4,441.5 100.4,443.3 101.4,445.3 102.4,447.5 103.4,449.7 104.4,452.1 105.4,454.5 106.4,457.0 107.4,459.6 108.4,462.2 109.4,464.8 110.4,467.4 111.4,470.1 112.4,472.7 113.4,475.3 114.4,477.9 115.4,480.5 116.4,483.0 117.4,485.5 118.4,487.9 119.4,490.3 120.4,492.6 121.4,494.8 122.4,497.0 123.4,499.1 124.4,501.2 125.4,503.1 126.4,505.0 127.4,506.8 128.4,508.6 129.4,510.3 130.4,511.9 131.4,513.4 132.4,514.9 133.4,516.3 134.4,517.6 135.4,518.9 136.4,520.1 137.4,521.3 138.4,522.4 139.4,523.4 140.4,524.4 141.4,525.3 142.4,526.2 143.4,527.0 144.4,527.8 145.4,528.5 146.4,529.2 147.4,529.9 148.4,530.5 149.4,531.1 150.4,531.7 151.4,532.2 152.4,532.7 153.4,533.1 154.4,533.5 155.4,533.9 156.4,534.3 157.4,534.7 158.4,535.0 159.4,535.3 160.4,535.6 161.4,535.9 162.4,536.1 163.4,536.4 164.4,536.6 165.4,536.8 166.4,537.0 167.4,537.2 168.4,537.4 169.4,537.5 170.4,537.7 171.4,537.8 172.4,538.0 173.4,538.1 174.4,538.2 175.4,538.3 176.4,538.4 177.4,538.5 178.4,538.6 179.4,538.7 180.4,538.7 181.4,538.8 182.4,538.9 183.4,538.9 184.4,539.0 185.4,539.0 186.4,539.1 187.4,539.1 188.4,539.2 189.4,539.2 190.4,539.3 191.4,539.3 192.4,539.3 193.4,539.4 194.4,539.4 195.4,539.4 196.4,539.4 197.4,539.5 198.4,539.5 199.4,539.5 200.4,539.5 201.4,539.5 202.4,539.6 203.4,539.6 204.4,539.6 205.4,539.6 206.4,539.6 207.4,539.6 208.4,539.6 209.4,539.7 210.4,539.7 211.4,539.7 212.4,539.7 213.4,539.7" fill="none" stroke="#60d868" stroke-width="1.5" stroke-linejoin="round"/>
<polyline points="34.4,539.8 35.4,539.8 36.4,539.8 37.4,539.8 38.4,539.8 39.4,539.8 40.4,539.8 41.4,539.8 42.4,539.7 43.4,539.7 44.4,539.7 45.4,539.7 46.4,539.6 47.4,539.6 48.4,539.5 49.4,539.4 50.4,539.3 51.4,539.1 52.4,538.9 53.4,538.7 54.4,538.4 55.4,538.0 56.4,537.5 57.4,537.0 58.4,536.3 59.4,535.5 60.4,534.5 61.4,533.4 62.4,532.1 63.4,530.6 64.4,528.8 65.4,526.8 66.4,524.5 67.4,522.0 68.4,519.1 69.4,515.9 70.4,512.4 71.4,508.6 72.4,504.5 73.4,500.1 74.4,495.4 75.4,490.4 76.4,485.3 77.4,480.0 78.4,474.6 79.4,469.2 80.4,463.8 81.4,458.5 82.4,453.4 83.4,448.5 84.4,444.0 85.4,439.9 86.4,436.2 87.4,433.1 88.4,430.6 89.4,428.7 90.4,427.5 91.4,427.0 92.4,427.1 93.4,427.5 94.4,428.1 95.4,429.0 96.4,430.2 97.4,431.6 98.4,433.2 99.4,435.0 100.4,437.0 101.4,439.1 102.4,441.4 103.4,443.8 104.4,446.3 105.4,448.9 106.4,451.5 107.4,454.3 108.4,457.0 109.4,459.8 110.4,462.7 111.4,465.5 112.4,468.3 113.4,471.1 114.4,473.8 115.4,476.6 116.4,479.3 117.4,481.9 118.4,484.5 119.4,487.0 120.4,489.5 121.4,491.9 122.4,494.2 123.4,496.4 124.4,498.6 125.4,500.7 126.4,502.7 127.4,504.7 128.4,506.5 129.4,508.3 130.4,510.0 131.4,511.7 132.4,513.2 133.4,514.7 134.4,516.2 135.4,517.5 136.4,518.8 137.4,520.0 138.4,521.2 139.4,522.3 140.4,523.4 141.4,524.3 142.4,525.3 143.4,526.2 144.4,527.0 145.4,527.8 146.4,528.5 147.4,529.2 148.4,529.9 149.4,530.5 150.4,531.1 151.4,531.7 152.4,532.2 153.4,532.7 154.4,533.1 155.4,533.6 156.4,534.0 157.4,534.3 158.4,534.7 159.4,535.0 160.4,535.3 161.4,535.6 162.4,535.9 163.4,536.2 164.4,536.4 165.4,536.6 166.4,536.8 167.4,537.0 168.4,537.2 169.4,537.4 170.4,537.5 171.4,537.7 172.4,537.8 173.4,538.0 174.4,538.1 175.4,538.2 176.4,538.3 177.4,538.4 178.4,538.5 179.4,538.6 180.4,538.7 181.4,538.7 182.4,538.8 183.4,538.9 184.4,538.9 185.4,539.0 186.4,539.1 187.4,539.1 188.4,539.1 189.4,539.2 190.4,539.2 191.4,539.3 192.4,539.3 193.4,539.3 194.4,539.4 195.4,539.4 196.4,539.4 197.4,539.4 198.4,539.5 199.4,539.5 200.4,539.5 201.4,539.5 202.4,539.6 203.4,539.6 204.4,539.6 205.4,539.6 206.4,539.6 207.4,539.6 208.4,539.6 209.4,539.6 210.4,539.7 211.4,539.7 212.4,539.7 213.4,539.7" fill="none" stroke="#44d044" stroke-width="1.5" stroke-linejoin="round"/>
<polyline points="34.4,539.8 35.4,539.8 36.4,539.8 37.4,539.8 38.4,539.8 39.4,539.8 40.4,539.8 41.4,539.8 42.4,539.7 43.4,539.7 44.4,539.7 45.4,539.7 46.4,539.6 47.4,539.6 48.4,539.5 49.4,539.4 50.4,539.2 51.4,539.1 52.4,538.9 53.4,538.6 54.4,538.3 55.4,537.9 56.4,537.5 57.4,536.9 58.4,536.2 59.4,535.4 60.4,534.4 61.4,533.2 62.4,531.9 63.4,530.3 64.4,528.5 65.4,526.5 66.4,524.1 67.4,521.5 68.4,518.5 69.4,515.3 70.4,511.7 71.4,507.8 72.4,503.5 73.4,499.0 74.4,494.2 75.4,489.1 76.4,483.9 77.4,478.4 78.4,472.9 79.4,467.3 80.4,461.8 81.4,456.4 82.4,451.1 83.4,446.1 84.4,441.4 85.4,437.2 86.4,433.5 87.4,430.3 88.4,427.7 89.4,425.8 90.4,424.5 91.4,424.0 92.4,424.1 93.4,424.5 94.4,425.2 95.4,426.1 96.4,427.3 97.4,428.7 98.4,430.3 99.4,432.2 100.4,434.2 101.4,436.4 102.4,438.8 103.4,441.2 104.4,443.8 105.4,446.5 106.4,449.2 107.4,452.0 108.4,454.8 109.4,457.7 110.4,460.6 111.4,463.5 112.4,466.4 113.4,469.2 114.4,472.1 115.4,474.9 116.4,477.7 117.4,480.4 118.4,483.0 119.4,485.6 120.4,488.1 121.4,490.6 122.4,493.0 123.4,495.3 124.4,497.5 125.4,499.7 126.4,501.7 127.4,503.7 128.4,505.7 129.4,507.5 130.4,509.2 131.4,510.9 132.4,512.5 133.4,514.1 134.4,515.5 135.4,516.9 136.4,518.3 137.4,519.5 138.4,520.7 139.4,521.8 140.4,522.9 141.4,523.9 142.4,524.9 143.4,525.8 144.4,526.7 145.4,527.5 146.4,528.2 147.4,529.0 148.4,529.6 149.4,530.3 150.4,530.9 151.4,531.4 152.4,532.0 153.4,532.5 154.4,532.9 155.4,533.4 156.4,533.8 157.4,534.2 158.4,534.6 159.4,534.9 160.4,535.2 161.4,535.5 162.4,535.8 163.4,536.1 164.4,536.3 165.4,536.5 166.4,536.8 167.4,537.0 168.4,537.1 169.4,537.3 170.4,537.5 171.4,537.6 172.4,537.8 173.4,537.9 174.4,538.0 175.4,538.2 176.4,538.3 177.4,538.4 178.4,538.5 179.4,538.6 180.4,538.6 181.4,538.7 182.4,538.8 183.4,538.9 184.4,538.9 185.4,539.0 186.4,539.0 187.4,539.1 188.4,539.1 189.4,539.2 190.4,539.2 191.4,539.3 192.4,539.3 193.4,539.3 194.4,539.4 195.4,539.4 196.4,539.4 197.4,539.4 198.4,539.5 199.4,539.5 200.4,539.5 201.4,539.5 202.4,539.5 203.4,539.6 204.4,539.6 205.4,539.6 206.4,539.6 207.4,539.6 208.4,539.6 209.4,539.6 210.4,539.7 211.4,539.7 212.4,539.7 213.4,539.7" fill="none" stroke="#b0e448" stroke-width="1.5" stroke-linejoin="round"/>
<polyline points="34.4,539.8 35.4,539.8 36.4,539.8 37.4,539.8 38.4,539.8 39.4,539.8 40.4,539.8 41.4,539.8 42.4,539.7 43.4,539.7 44.4,539.7 45.4,539.7 46.4,539.6 47.4,539.5 48.4,539.5 49.4,539.4 50.4,539.2 51.4,539.0 52.4,538.8 53.4,538.6 54.4,538.2 55.4,537.8 56.4,537.3 57.4,536.7 58.4,536.0 59.4,535.1 60.4,534.1 61.4,532.9 62.4,531.5 63.4,529.8 64.4,528.0 65.4,525.8 66.4,523.3 67.4,520.5 68.4,517.4 69.4,514.0 70.4,510.2 71.4,506.1 72.4,501.7 73.4,496.9 74.4,491.8 75.4,486.5 76.4,481.0 77.4,475.3 78.4,469.4 79.4,463.6 80.4,457.8 81.4,452.0 82.4,446.5 83.4,441.2 84.4,436.3 85.4,431.9 86.4,427.9 87.4,424.6 88.4,421.9 89.4,419.8 90.4,418.6 91.4,418.0 92.4,418.1 93.4,418.5 94.4,419.2 95.4,420.2 96.4,421.4 97.4,422.9 98.4,424.7 99.4,426.6 100.4,428.8 101.4,431.1 102.4,433.5 103.4,436.1 104.4,438.8 105.4,441.6 106.4,444.5 107.4,447.4 108.4,450.4 109.4,453.5 110.4,456.5 111.4,459.5 112.4,462.6 113.4,465.6 114.4,468.6 115.4,471.5 116.4,474.4 117.4,477.3 118.4,480.1 119.4,482.8 120.4,485.5 121.4,488.0 122.4,490.5 123.4,493.0 124.4,495.3 125.4,497.6 126.4,499.8 127.4,501.9 128.4,503.9 129.4,505.8 130.4,507.7 131.4,509.4 132.4,511.1 133.4,512.7 134.4,514.3 135.4,515.7 136.4,517.1 137.4,518.5 138.4,519.7 139.4,520.9 140.4,522.0 141.4,523.1 142.4,524.1 143.4,525.1 144.4,526.0 145.4,526.8 146.4,527.6 147.4,528.4 148.4,529.1 149.4,529.8 150.4,530.4 151.4,531.0 152.4,531.6 153.4,532.1 154.4,532.6 155.4,533.1 156.4,533.5 157.4,533.9 158.4,534.3 159.4,534.6 160.4,535.0 161.4,535.3 162.4,535.6 163.4,535.9 164.4,536.1 165.4,536.4 166.4,536.6 167.4,536.8 168.4,537.0 169.4,537.2 170.4,537.4 171.4,537.5 172.4,537.7 173.4,537.8 174.4,538.0 175.4,538.1 176.4,538.2 177.4,538.3 178.4,538.4 179.4,538.5 180.4,538.6 181.4,538.7 182.4,538.7 183.4,538.8 184.4,538.9 185.4,538.9 186.4,539.0 187.4,539.0 188.4,539.1 189.4,539.1 190.4,539.2 191.4,539.2 192.4,539.3 193.4,539.3 194.4,539.3 195.4,539.4 196.4,539.4 197.4,539.4 198.4,539.4 199.4,539.5 200.4,539.5 201.4,539.5 202.4,539.5 203.4,539.5 204.4,539.6 205.4,539.6 206.4,539.6 207.4,539.6 208.4,539.6 209.4,539.6 210.4,539.6 211.4,539.7 212.4,539.7 213.4,539.7" fill="none" stroke="#e8e870" stroke-width="1.5" stroke-linejoin="round"/>
<polyline points="34.4,539.8 35.4,539.8 36.4,539.8 37.4,539.8 38.4,539.8 39.4,539.8 40.4,539.8 41.4,539.8 42.4,539.7 43.4,539.7 44.4,539.7 45.4,539.6 46.4,539.6 47.4,539.5 48.4,539.4 49.4,539.3 50.4,539.2 51.4,539.0 52.4,538.8 53.4,538.5 54.4,538.2 55.4,537.7 56.4,537.2 57.4,536.6 58.4,535.8 59.4,534.9 60.4,533.9 61.4,532.6 62.4,531.1 63.4,529.4 64.4,527.4 65.4,525.1 66.4,522.5 67.4,519.6 68.4,516.4 69.4,512.8 70.4,508.8 71.4,504.5 72.4,499.9 73.4,494.9 74.4,489.6 75.4,484.0 76.4,478.2 77.4,472.2 78.4,466.1 79.4,460.0 80.4,453.9 81.4,447.9 82.4,442.1 83.4,436.6 84.4,431.5 85.4,426.8 86.4,422.7 87.4,419.2 88.4,416.3 89.4,414.2 90.4,412.9 91.4,412.3 92.4,412.4 93.4,412.8 94.4,413.6 95.4,414.6 96.4,415.9 97.4,417.5 98.4,419.3 99.4,421.3 100.4,423.6 101.4,426.0 102.4,428.5 103.4,431.3 104.4,434.1 105.4,437.0 106.4,440.0 107.4,443.1 108.4,446.3 109.4,449.4 110.4,452.6 111.4,455.8 112.4,459.0 113.4,462.1 114.4,465.2 115.4,468.3 116.4,471.4 117.4,474.4 118.4,477.3 119.4,480.1 120.4,482.9 121.4,485.6 122.4,488.2 123.4,490.8 124.4,493.2 125.4,495.6 126.4,497.9 127.4,500.1 128.4,502.2 129.4,504.2 130.4,506.2 131.4,508.0 132.4,509.8 133.4,511.5 134.4,513.1 135.4,514.6 136.4,516.1 137.4,517.5 138.4,518.8 139.4,520.0 140.4,521.2 141.4,522.3 142.4,523.4 143.4,524.4 144.4,525.3 145.4,526.2 146.4,527.1 147.4,527.9 148.4,528.6 149.4,529.3 150.4,530.0 151.4,530.6 152.4,531.2 153.4,531.7 154.4,532.3 155.4,532.7 156.4,533.2 157.4,533.6 158.4,534.0 159.4,534.4 160.4,534.8 161.4,535.1 162.4,535.4 163.4,535.7 164.4,536.0 165.4,536.2 166.4,536.4 167.4,536.7 168.4,536.9 169.4,537.1 170.4,537.3 171.4,537.4 172.4,537.6 173.4,537.7 174.4,537.9 175.4,538.0 176.4,538.1 177.4,538.2 178.4,538.3 179.4,538.4 180.4,538.5 181.4,538.6 182.4,538.7 183.4,538.8 184.4,538.8 185.4,538.9 186.4,539.0 187.4,539.0 188.4,539.1 189.4,539.1 190.4,539.2 191.4,539.2 192.4,539.2 193.4,539.3 194.4,539.3 195.4,539.3 196.4,539.4 197.4,539.4 198.4,539.4 199.4,539.5 200.4,539.5 201.4,539.5 202.4,539.5 203.4,539.5 204.4,539.6 205.4,539.6 206.4,539.6 207.4,539.6 208.4,539.6 209.4,539.6 210.4,539.6 211.4,539.6 212.4,539.7 213.4,539.7" fill="none" stroke="#f4e060" stroke-width="1.5" stroke-linejoin="round"/>
<polyline points="34.4,539.8 35.4,539.8 36.4,539.8 37.4,539.8 38.4,539.8 39.4,539.8 40.4,539.8 41.4,539.8 42.4,539.7 43.4,539.7 44.4,539.7 45.4,539.6 46.4,539.6 47.4,539.5 48.4,539.4 49.4,539.3 50.4,539.1 51.4,539.0 52.4,538.7 53.4,538.4 54.4,538.0 55.4,537.6 56.4,537.0 57.4,536.3 58.4,535.5 59.4,534.5 60.4,533.4 61.4,532.0 62.4,530.4 63.4,528.5 64.4,526.4 65.4,523.9 66.4,521.2 67.4,518.0 68.4,514.5 69.4,510.6 70.4,506.3 71.4,501.7 72.4,496.6 73.4,491.3 74.4,485.5 75.4,479.5 76.4,473.2 77.4,466.8 78.4,460.2 79.4,453.6 80.4,447.0 81.4,440.5 82.4,434.2 83.4,428.3 84.4,422.8 85.4,417.7 86.4,413.2 87.4,409.4 88.4,406.4 89.4,404.1 90.4,402.6 91.4,402.0 92.4,402.1 93.4,402.6 94.4,403.4 95.4,404.5 96.4,405.9 97.4,407.6 98.4,409.6 99.4,411.8 100.4,414.2 101.4,416.8 102.4,419.6 103.4,422.5 104.4,425.5 105.4,428.7 106.4,432.0 107.4,435.3 108.4,438.7 109.4,442.1 110.4,445.6 111.4,449.0 112.4,452.4 113.4,455.8 114.4,459.2 115.4,462.6 116.4,465.8 117.4,469.1 118.4,472.2 119.4,475.3 120.4,478.3 121.4,481.2 122.4,484.1 123.4,486.8 124.4,489.5 125.4,492.0 126.4,494.5 127.4,496.9 128.4,499.2 129.4,501.3 130.4,503.4 131.4,505.4 132.4,507.4 133.4,509.2 134.4,510.9 135.4,512.6 136.4,514.2 137.4,515.7 138.4,517.1 139.4,518.4 140.4,519.7 141.4,520.9 142.4,522.1 143.4,523.1 144.4,524.2 145.4,525.1 146.4,526.0 147.4,526.9 148.4,527.7 149.4,528.5 150.4,529.2 151.4,529.9 152.4,530.5 153.4,531.1 154.4,531.6 155.4,532.2 156.4,532.7 157.4,533.1 158.4,533.6 159.4,534.0 160.4,534.4 161.4,534.7 162.4,535.0 163.4,535.4 164.4,535.6 165.4,535.9 166.4,536.2 167.4,536.4 168.4,536.6 169.4,536.9 170.4,537.0 171.4,537.2 172.4,537.4 173.4,537.6 174.4,537.7 175.4,537.8 176.4,538.0 177.4,538.1 178.4,538.2 179.4,538.3 180.4,538.4 181.4,538.5 182.4,538.6 183.4,538.7 184.4,538.8 185.4,538.8 186.4,538.9 187.4,538.9 188.4,539.0 189.4,539.1 190.4,539.1 191.4,539.2 192.4,539.2 193.4,539.2 194.4,539.3 195.4,539.3 196.4,539.3 197.4,539.4 198.4,539.4 199.4,539.4 200.4,539.5 201.4,539.5 202.4,539.5 203.4,539.5 204.4,539.5 205.4,539.6 206.4,539.6 207.4,539.6 208.4,539.6 209.4,539.6 210.4,539.6 211.4,539.6 212.4,539.6 213.4,539.7" fill="none" stroke="#f4a848" stroke-width="1.5" stroke-linejoin="round"/>
<polyline points="34.4,539.8 35.4,539.8 36.4,539.8 37.4,539.8 38.4,539.8 39.4,539.8 40.4,539.8 41.4,539.7 42.4,539.7 43.4,539.7 44.4,539.7 45.4,539.6 46.4,539.6 47.4,539.5 48.4,539.4 49.4,539.3 50.4,539.1 51.4,538.9 52.4,538.7 53.4,538.3 54.4,537.9 55.4,537.5 56.4,536.9 57.4,536.2 58.4,535.3 59.4,534.3 60.4,533.0 61.4,531.6 62.4,529.9 63.4,528.0 64.4,525.7 65.4,523.1 66.4,520.2 67.4,516.9 68.4,513.2 69.4,509.1 70.4,504.6 71.4,499.7 72.4,494.5 73.4,488.8 74.4,482.8 75.4,476.4 76.4,469.9 77.4,463.1 78.4,456.2 79.4,449.2 80.4,442.3 81.4,435.5 82.4,428.9 83.4,422.6 84.4,416.8 85.4,411.5 86.4,406.8 87.4,402.8 88.4,399.6 89.4,397.2 90.4,395.7 91.4,395.0 92.4,395.1 93.4,395.6 94.4,396.4 95.4,397.6 96.4,399.1 97.4,400.9 98.4,402.9 99.4,405.2 100.4,407.8 101.4,410.5 102.4,413.4 103.4,416.5 104.4,419.7 105.4,423.1 106.4,426.5 107.4,430.0 108.4,433.6 109.4,437.2 110.4,440.8 111.4,444.4 112.4,448.0 113.4,451.6 114.4,455.1 115.4,458.6 116.4,462.1 117.4,465.5 118.4,468.8 119.4,472.0 120.4,475.2 121.4,478.3 122.4,481.2 123.4,484.1 124.4,486.9 125.4,489.6 126.4,492.2 127.4,494.7 128.4,497.1 129.4,499.4 130.4,501.6 131.4,503.7 132.4,505.7 133.4,507.6 134.4,509.5 135.4,511.2 136.4,512.9 137.4,514.4 138.4,515.9 139.4,517.3 140.4,518.7 141.4,520.0 142.4,521.2 143.4,522.3 144.4,523.4 145.4,524.4 146.4,525.3 147.4,526.2 148.4,527.1 149.4,527.9 150.4,528.6 151.4,529.4 152.4,530.0 153.4,530.6 154.4,531.2 155.4,531.8 156.4,532.3 157.4,532.8 158.4,533.2 159.4,533.7 160.4,534.1 161.4,534.4 162.4,534.8 163.4,535.1 164.4,535.4 165.4,535.7 166.4,536.0 167.4,536.2 168.4,536.5 169.4,536.7 170.4,536.9 171.4,537.1 172.4,537.3 173.4,537.4 174.4,537.6 175.4,537.7 176.4,537.9 177.4,538.0 178.4,538.1 179.4,538.2 180.4,538.3 181.4,538.4 182.4,538.5 183.4,538.6 184.4,538.7 185.4,538.8 186.4,538.8 187.4,538.9 188.4,539.0 189.4,539.0 190.4,539.1 191.4,539.1 192.4,539.2 193.4,539.2 194.4,539.2 195.4,539.3 196.4,539.3 197.4,539.3 198.4,539.4 199.4,539.4 200.4,539.4 201.4,539.5 202.4,539.5 203.4,539.5 204.4,539.5 205.4,539.5 206.4,539.6 207.4,539.6 208.4,539.6 209.4,539.6 210.4,539.6 211.4,539.6 212.4,539.6 213.4,539.6" fill="none" stroke="#f07a5a" stroke-width="1.5" stroke-linejoin="round"/>
<polyline points="34.4,539.8 35.4,539.8 36.4,539.8 37.4,539.8 38.4,539.8 39.4,539.8 40.4,539.8 41.4,539.7 42.4,539.7 43.4,539.7 44.4,539.7 45.4,539.6 46.4,539.6 47.4,539.5 48.4,539.4 49.4,539.3 50.4,539.1 51.4,538.9 52.4,538.6 53.4,538.3 54.4,537.9 55.4,537.4 56.4,536.8 57.4,536.1 58.4,535.2 59.4,534.2 60.4,532.9 61.4,531.4 62.4,529.7 63.4,527.7 64.4,525.4 65.4,522.8 66.4,519.8 67.4,516.4 68.4,512.7 69.4,508.5 70.4,503.9 71.4,498.9 72.4,493.5 73.4,487.7 74.4,481.6 75.4,475.1 76.4,468.4 77.4,461.5 78.4,454.4 79.4,447.3 80.4,440.2 81.4,433.3 82.4,426.6 83.4,420.2 84.4,414.3 85.4,408.9 86.4,404.1 87.4,400.0 88.4,396.7 89.4,394.2 90.4,392.7 91.4,392.0 92.4,392.1 93.4,392.6 94.4,393.5 95.4,394.7 96.4,396.2 97.4,398.0 98.4,400.1 99.4,402.5 100.4,405.0 101.4,407.8 102.4,410.8 103.4,414.0 104.4,417.3 105.4,420.7 106.4,424.2 107.4,427.7 108.4,431.4 109.4,435.0 110.4,438.7 111.4,442.4 112.4,446.1 113.4,449.8 114.4,453.4 115.4,457.0 116.4,460.5 117.4,463.9 118.4,467.3 119.4,470.6 120.4,473.9 121.4,477.0 122.4,480.0 123.4,483.0 124.4,485.8 125.4,488.6 126.4,491.2 127.4,493.8 128.4,496.2 129.4,498.6 130.4,500.8 131.4,503.0 132.4,505.0 133.4,507.0 134.4,508.8 135.4,510.6 136.4,512.3 137.4,513.9 138.4,515.4 139.4,516.9 140.4,518.2 141.4,519.5 142.4,520.8 143.4,521.9 144.4,523.0 145.4,524.1 146.4,525.0 147.4,526.0 148.4,526.8 149.4,527.6 150.4,528.4 151.4,529.1 152.4,529.8 153.4,530.5 154.4,531.1 155.4,531.6 156.4,532.1 157.4,532.6 158.4,533.1 159.4,533.5 160.4,534.0 161.4,534.3 162.4,534.7 163.4,535.0 164.4,535.3 165.4,535.6 166.4,535.9 167.4,536.2 168.4,536.4 169.4,536.6 170.4,536.8 171.4,537.0 172.4,537.2 173.4,537.4 174.4,537.6 175.4,537.7 176.4,537.8 177.4,538.0 178.4,538.1 179.4,538.2 180.4,538.3 181.4,538.4 182.4,538.5 183.4,538.6 184.4,538.7 185.4,538.8 186.4,538.8 187.4,538.9 188.4,538.9 189.4,539.0 190.4,539.1 191.4,539.1 192.4,539.2 193.4,539.2 194.4,539.2 195.4,539.3 196.4,539.3 197.4,539.3 198.4,539.4 199.4,539.4 200.4,539.4 201.4,539.4 202.4,539.5 203.4,539.5 204.4,539.5 205.4,539.5 206.4,539.6 207.4,539.6 208.4,539.6 209.4,539.6 210.4,539.6 211.4,539.6 212.4,539.6 213.4,539.6" fill="none" stroke="#ec5a50" stroke-width="1.5" stroke-linejoin="round"/>
<polyline points="34.4,539.8 35.4,539.8 36.4,539.8 37.4,539.8 38.4,539.8 39.4,539.8 40.4,539.8 41.4,539.7 42.4,539.7 43.4,539.7 44.4,539.7 45.4,539.6 46.4,539.6 47.4,539.5 48.4,539.4 49.4,539.2 50.4,539.1 51.4,538.9 52.4,538.6 53.4,538.3 54.4,537.9 55.4,537.4 56.4,536.8 57.4,536.0 58.4,535.1 59.4,534.1 60.4,532.8 61.4,531.3 62.4,529.5 63.4,527.5 64.4,525.2 65.4,522.5 66.4,519.4 67.4,516.0 68.4,512.2 69.4,507.9 70.4,503.3 71.4,498.2 72.4,492.7 73.4,486.8 74.4,480.5 75.4,473.9 76.4,467.1 77.4,460.0 78.4,452.9 79.4,445.6 80.4,438.4 81.4,431.3 82.4,424.5 83.4,418.0 84.4,412.0 85.4,406.5 86.4,401.6 87.4,397.4 88.4,394.1 89.4,391.6 90.4,390.0 91.4,389.3 92.4,389.4 93.4,389.9 94.4,390.8 95.4,392.0 96.4,393.6 97.4,395.4 98.4,397.6 99.4,400.0 100.4,402.6 101.4,405.4 102.4,408.5 103.4,411.7 104.4,415.0 105.4,418.5 106.4,422.0 107.4,425.7 108.4,429.4 109.4,433.1 110.4,436.9 111.4,440.6 112.4,444.4 113.4,448.1 114.4,451.8 115.4,455.4 116.4,459.0 117.4,462.6 118.4,466.0 119.4,469.4 120.4,472.7 121.4,475.8 122.4,478.9 123.4,481.9 124.4,484.8 125.4,487.6 126.4,490.3 127.4,492.9 128.4,495.4 129.4,497.8 130.4,500.1 131.4,502.3 132.4,504.4 133.4,506.4 134.4,508.3 135.4,510.1 136.4,511.8 137.4,513.4 138.4,515.0 139.4,516.5 140.4,517.9 141.4,519.2 142.4,520.4 143.4,521.6 144.4,522.7 145.4,523.8 146.4,524.8 147.4,525.7 148.4,526.6 149.4,527.4 150.4,528.2 151.4,528.9 152.4,529.6 153.4,530.3 154.4,530.9 155.4,531.5 156.4,532.0 157.4,532.5 158.4,533.0 159.4,533.4 160.4,533.8 161.4,534.2 162.4,534.6 163.4,534.9 164.4,535.3 165.4,535.6 166.4,535.8 167.4,536.1 168.4,536.4 169.4,536.6 170.4,536.8 171.4,537.0 172.4,537.2 173.4,537.4 174.4,537.5 175.4,537.7 176.4,537.8 177.4,537.9 178.4,538.1 179.4,538.2 180.4,538.3 181.4,538.4 182.4,538.5 183.4,538.6 184.4,538.7 185.4,538.7 186.4,538.8 187.4,538.9 188.4,538.9 189.4,539.0 190.4,539.0 191.4,539.1 192.4,539.1 193.4,539.2 194.4,539.2 195.4,539.3 196.4,539.3 197.4,539.3 198.4,539.4 199.4,539.4 200.4,539.4 201.4,539.4 202.4,539.5 203.4,539.5 204.4,539.5 205.4,539.5 206.4,539.5 207.4,539.6 208.4,539.6 209.4,539.6 210.4,539.6 211.4,539.6 212.4,539.6 213.4,539.6" fill="none" stroke="#e23a36" stroke-width="2.0" stroke-linejoin="round"/>
<polyline points="34.4,539.2 35.4,539.1 36.4,538.8 37.4,538.6 38.4,538.2 39.4,537.9 40.4,537.4 41.4,536.9 42.4,536.3 43.4,535.7 44.4,535.0 45.4,534.3 46.4,533.5 47.4,532.8 48.4,532.0 49.4,531.3 50.4,530.7 51.4,530.2 52.4,529.8 53.4,529.5 54.4,529.3 55.4,529.3 56.4,529.4 57.4,529.5 58.4,529.7 59.4,530.0 60.4,530.3 61.4,530.6 62.4,530.9 63.4,531.3 64.4,531.6 65.4,532.0 66.4,532.3 67.4,532.7 68.4,533.0 69.4,533.3 70.4,533.7 71.4,534.0 72.4,534.3 73.4,534.6 74.4,534.8 75.4,535.1 76.4,535.3 77.4,535.6 78.4,535.8 79.4,536.0 80.4,536.2 81.4,536.4 82.4,536.6 83.4,536.7 84.4,536.9 85.4,537.0 86.4,537.2 87.4,537.3 88.4,537.4 89.4,537.5 90.4,537.7 91.4,537.8 92.4,537.9 93.4,538.0 94.4,538.0 95.4,538.1 96.4,538.2 97.4,538.3 98.4,538.3 99.4,538.4 100.4,538.5 101.4,538.5 102.4,538.6 103.4,538.6 104.4,538.7 105.4,538.7 106.4,538.8 107.4,538.8 108.4,538.9 109.4,538.9 110.4,538.9 111.4,539.0 112.4,539.0 113.4,539.0 114.4,539.1 115.4,539.1 116.4,539.1 117.4,539.1 118.4,539.2 119.4,539.2 120.4,539.2 121.4,539.2 122.4,539.2 123.4,539.3 124.4,539.3 125.4,539.3 126.4,539.3 127.4,539.3 128.4,539.3 129.4,539.4 130.4,539.4 131.4,539.4 132.4,539.4 133.4,539.4 134.4,539.4 135.4,539.4 136.4,539.4 137.4,539.4 138.4,539.5 139.4,539.5 140.4,539.5 141.4,539.5 142.4,539.5 143.4,539.5 144.4,539.5 145.4,539.5 146.4,539.5 147.4,539.5 148.4,539.5 149.4,539.5 150.4,539.6 151.4,539.6 152.4,539.6 153.4,539.6 154.4,539.6 155.4,539.6 156.4,539.6 157.4,539.6 158.4,539.6 159.4,539.6 160.4,539.6 161.4,539.6 162.4,539.6 163.4,539.6 164.4,539.6 165.4,539.6 166.4,539.6 167.4,539.6 168.4,539.6 169.4,539.6 170.4,539.6 171.4,539.6 172.4,539.6 173.4,539.7 174.4,539.7 175.4,539.7 176.4,539.7 177.4,539.7 178.4,539.7 179.4,539.7 180.4,539.7 181.4,539.7 182.4,539.7 183.4,539.7 184.4,539.7 185.4,539.7 186.4,539.7 187.4,539.7 188.4,539.7 189.4,539.7 190.4,539.7 191.4,539.7 192.4,539.7 193.4,539.7 194.4,539.7 195.4,539.7 196.4,539.7 197.4,539.7 198.4,539.7 199.4,539.7" fill="none" stroke="#707070" stroke-width="1.1" stroke-linejoin="round"/>
<line x1="110" y1="539.8" x2="160" y2="539.8" stroke="#a878e6" stroke-width="2.6"/>
<line x1="159.5" y1="539.4" x2="213" y2="539.4" stroke="#3cb060" stroke-width="2"/>
<line x1="212" y1="540.6" x2="248" y2="540.6" stroke="#e06a6a" stroke-width="1"/>
<rect x="33.8" y="372" width="214.4" height="171.5" fill="none" stroke="#606060" stroke-width="1.3"/>
<line x1="42.6" y1="543.5" x2="42.6" y2="546.5" stroke="#444" stroke-width="0.9"/>
<line x1="54.1" y1="543.5" x2="54.1" y2="545.5" stroke="#444" stroke-width="0.8"/>
<text x="42.6" y="556.3" font-family="Liberation Serif" font-weight="bold" font-size="7.8" fill="#333" text-anchor="middle">400</text>
<line x1="65.6" y1="543.5" x2="65.6" y2="546.5" stroke="#444" stroke-width="0.9"/>
<line x1="77.1" y1="543.5" x2="77.1" y2="545.5" stroke="#444" stroke-width="0.8"/>
<text x="65.6" y="556.3" font-family="Liberation Serif" font-weight="bold" font-size="7.8" fill="#333" text-anchor="middle">450</text>
<line x1="88.6" y1="543.5" x2="88.6" y2="546.5" stroke="#444" stroke-width="0.9"/>
<line x1="100.1" y1="543.5" x2="100.1" y2="545.5" stroke="#444" stroke-width="0.8"/>
<text x="88.6" y="556.3" font-family="Liberation Serif" font-weight="bold" font-size="7.8" fill="#333" text-anchor="middle">500</text>
<line x1="111.5" y1="543.5" x2="111.5" y2="546.5" stroke="#444" stroke-width="0.9"/>
<line x1="123.0" y1="543.5" x2="123.0" y2="545.5" stroke="#444" stroke-width="0.8"/>
<text x="111.5" y="556.3" font-family="Liberation Serif" font-weight="bold" font-size="7.8" fill="#333" text-anchor="middle">550</text>
<line x1="134.5" y1="543.5" x2="134.5" y2="546.5" stroke="#444" stroke-width="0.9"/>
<line x1="146.0" y1="543.5" x2="146.0" y2="545.5" stroke="#444" stroke-width="0.8"/>
<text x="134.5" y="556.3" font-family="Liberation Serif" font-weight="bold" font-size="7.8" fill="#333" text-anchor="middle">600</text>
<line x1="157.5" y1="543.5" x2="157.5" y2="546.5" stroke="#444" stroke-width="0.9"/>
<line x1="169.0" y1="543.5" x2="169.0" y2="545.5" stroke="#444" stroke-width="0.8"/>
<text x="157.5" y="556.3" font-family="Liberation Serif" font-weight="bold" font-size="7.8" fill="#333" text-anchor="middle">650</text>
<line x1="180.5" y1="543.5" x2="180.5" y2="546.5" stroke="#444" stroke-width="0.9"/>
<line x1="192.0" y1="543.5" x2="192.0" y2="545.5" stroke="#444" stroke-width="0.8"/>
<text x="180.5" y="556.3" font-family="Liberation Serif" font-weight="bold" font-size="7.8" fill="#333" text-anchor="middle">700</text>
<line x1="203.5" y1="543.5" x2="203.5" y2="546.5" stroke="#444" stroke-width="0.9"/>
<line x1="214.9" y1="543.5" x2="214.9" y2="545.5" stroke="#444" stroke-width="0.8"/>
<text x="203.5" y="556.3" font-family="Liberation Serif" font-weight="bold" font-size="7.8" fill="#333" text-anchor="middle">750</text>
<line x1="226.4" y1="543.5" x2="226.4" y2="546.5" stroke="#444" stroke-width="0.9"/>
<line x1="237.9" y1="543.5" x2="237.9" y2="545.5" stroke="#444" stroke-width="0.8"/>
<text x="226.4" y="556.3" font-family="Liberation Serif" font-weight="bold" font-size="7.8" fill="#333" text-anchor="middle">800</text>
<line x1="249.4" y1="543.5" x2="249.4" y2="546.5" stroke="#444" stroke-width="0.9"/>
<text x="249.4" y="556.3" font-family="Liberation Serif" font-weight="bold" font-size="7.8" fill="#333" text-anchor="middle">850</text>
<text x="140.8" y="570.6" font-family="Liberation Serif" font-weight="bold" font-size="9.2" fill="#1a1a1a" text-anchor="middle">Wavelength (nm)</text>
<text transform="translate(20.4,454.9) rotate(-90)" font-family="Liberation Serif" font-weight="bold" font-size="9" fill="#1a1a1a" text-anchor="middle">Intensity (a.u.)</text>
<radialGradient id="gTubeG" gradientUnits="userSpaceOnUse" cx="208" cy="411.3" r="27">
<stop offset="0" stop-color="#58ffc0"/><stop offset="0.55" stop-color="#3cf0a6"/><stop offset="0.75" stop-color="#28b8a0"/><stop offset="0.9" stop-color="#1e7a98"/><stop offset="1" stop-color="#1a5c8c"/></radialGradient>
<radialGradient id="gTubeB" gradientUnits="userSpaceOnUse" cx="208" cy="411.3" r="27">
<stop offset="0" stop-color="#40e0b0"/><stop offset="0.4" stop-color="#2aa8b0"/><stop offset="0.7" stop-color="#1e64b0"/><stop offset="1" stop-color="#1a4a98"/></radialGradient>
<filter id="fSoft" x="-10%" y="-10%" width="120%" height="120%"><feGaussianBlur stdDeviation="0.7"/></filter>
<g filter="url(#fSoft)">
<circle cx="208" cy="411.3" r="29.6" fill="#050c16"/>
<circle cx="208" cy="411.3" r="27.8" fill="#0c1e38"/>
<path d="M207.7,406.3 L205.0,386.0 Q208.0,383.8 211.0,386.0 L208.3,406.3 Z" fill="url(#gTubeG)"/>
<path d="M209.3,406.5 L213.0,386.3 Q216.5,385.1 218.7,388.2 L209.8,406.6 Z" fill="url(#gTubeB)"/>
<path d="M210.7,407.1 L220.4,389.0 Q224.2,389.1 225.3,392.6 L211.2,407.4 Z" fill="url(#gTubeB)"/>
<path d="M211.9,408.1 L226.7,394.0 Q230.2,395.1 230.3,398.9 L212.2,408.6 Z" fill="url(#gTubeB)"/>
<path d="M212.7,409.5 L231.1,400.6 Q234.2,402.8 233.0,406.3 L212.8,410.0 Z" fill="url(#gTubeB)"/>
<path d="M213.0,411.0 L233.3,408.3 Q235.5,411.3 233.3,414.3 L213.0,411.6 Z" fill="url(#gTubeB)"/>
<path d="M212.8,412.6 L233.0,416.3 Q234.2,419.8 231.1,422.0 L212.7,413.1 Z" fill="url(#gTubeB)"/>
<path d="M212.2,414.0 L230.3,423.7 Q230.2,427.5 226.7,428.6 L211.9,414.5 Z" fill="url(#gTubeB)"/>
<path d="M211.2,415.2 L225.3,430.0 Q224.2,433.5 220.4,433.6 L210.7,415.5 Z" fill="url(#gTubeG)"/>
<path d="M209.8,416.0 L218.7,434.4 Q216.5,437.5 213.0,436.3 L209.3,416.1 Z" fill="url(#gTubeG)"/>
<path d="M208.3,416.3 L211.0,436.6 Q208.0,438.8 205.0,436.6 L207.7,416.3 Z" fill="url(#gTubeG)"/>
<path d="M206.7,416.1 L203.0,436.3 Q199.5,437.5 197.3,434.4 L206.2,416.0 Z" fill="url(#gTubeG)"/>
<path d="M205.3,415.5 L195.6,433.6 Q191.8,433.5 190.7,430.0 L204.8,415.2 Z" fill="url(#gTubeG)"/>
<path d="M204.1,414.5 L189.3,428.6 Q185.8,427.5 185.7,423.7 L203.8,414.0 Z" fill="url(#gTubeG)"/>
<path d="M203.3,413.1 L184.9,422.0 Q181.8,419.8 183.0,416.3 L203.2,412.6 Z" fill="url(#gTubeG)"/>
<path d="M203.0,411.6 L182.7,414.3 Q180.5,411.3 182.7,408.3 L203.0,411.0 Z" fill="url(#gTubeG)"/>
<path d="M203.2,410.0 L183.0,406.3 Q181.8,402.8 184.9,400.6 L203.3,409.5 Z" fill="url(#gTubeG)"/>
<path d="M203.8,408.6 L185.7,398.9 Q185.8,395.1 189.3,394.0 L204.1,408.1 Z" fill="url(#gTubeG)"/>
<path d="M204.8,407.4 L190.7,392.6 Q191.8,389.1 195.6,389.0 L205.3,407.1 Z" fill="url(#gTubeG)"/>
<path d="M206.2,406.6 L197.3,388.2 Q199.5,385.1 203.0,386.3 L206.7,406.5 Z" fill="url(#gTubeG)"/>
<circle cx="205" cy="414.3" r="18" fill="#4cf8b4" opacity="0.5"/>
<ellipse cx="208" cy="407.8" rx="5.8" ry="5" fill="#041008"/>
</g>
<linearGradient id="gRingL" x1="0" y1="1" x2="0.3" y2="0"><stop offset="0" stop-color="#4a9a44"/><stop offset="0.5" stop-color="#80c870"/><stop offset="1" stop-color="#a8dc98"/></linearGradient>
<path d="M207.2,446.3 A34.8,34.8 0 0 1 203.6,377.0" fill="none" stroke="url(#gRingL)" stroke-width="3.6"/>
<path d="M203.1,372.0 L211.6,377.3 L203.1,382.2 Z" fill="#a8dc98"/>
<path d="M227.4,382.3 A34.8,34.8 0 0 1 205.4,446.2" fill="none" stroke="#3e8a38" stroke-width="3.6"/>
<text x="146.6" y="423.8" font-family="Liberation Serif" font-weight="bold" font-size="7.8" fill="#4a9040" text-anchor="middle">275 μM</text>
<path d="M145,428.8 L149.8,434 L147.4,434 L147.4,456.5 L142.6,456.5 L142.6,434 L140.2,434 Z" fill="url(#gGreenArrow)" stroke="#2d6a2a" stroke-width="0.6"/>
<text x="145.6" y="467.6" font-family="Liberation Serif" font-weight="bold" font-size="7.6" fill="#1a1a1a" text-anchor="middle">Blank</text>
<text x="168.2" y="459" font-family="Liberation Serif" font-weight="bold" font-size="6" fill="#c83434" text-anchor="middle">Hydrogen</text>
<text x="168.2" y="466.2" font-family="Liberation Serif" font-weight="bold" font-size="6" fill="#c83434" text-anchor="middle">bond</text>
<text x="207.8" y="458" font-family="Liberation Serif" font-weight="bold" font-size="6" fill="#c83434" text-anchor="middle">Electrostatic</text>
<text x="207.8" y="465.3" font-family="Liberation Serif" font-weight="bold" font-size="6" fill="#c83434" text-anchor="middle">interaction</text>
<text x="231.2" y="490" font-family="Liberation Serif" font-weight="bold" font-size="6" font-style="italic" fill="#c83434" text-anchor="middle">π-π</text>
<text x="231.2" y="496.8" font-family="Liberation Serif" font-weight="bold" font-size="6" fill="#c83434" text-anchor="middle">stacking</text>
<polyline points="166,478 172,477 178,476 186,476 194,475 204,477 212,476 218,479" fill="none" stroke="#a8a8a8" stroke-width="1"/>
<path d="M178.9,478.6 L176.1,480.3 L173.2,478.7 L173.1,475.4 L175.9,473.7 L178.8,475.3 Z" fill="none" stroke="#a0a0a0" stroke-width="1.0"/>
<circle cx="178.9" cy="478.6" r="1.0" fill="#c8c8c8"/>
<circle cx="176.1" cy="480.3" r="1.0" fill="#c8c8c8"/>
<circle cx="173.2" cy="478.7" r="1.0" fill="#c8c8c8"/>
<circle cx="173.1" cy="475.4" r="1.0" fill="#c8c8c8"/>
<circle cx="175.9" cy="473.7" r="1.0" fill="#c8c8c8"/>
<circle cx="178.8" cy="475.3" r="1.0" fill="#c8c8c8"/>
<path d="M188.9,476.6 L186.1,478.3 L183.2,476.7 L183.1,473.4 L185.9,471.7 L188.8,473.3 Z" fill="none" stroke="#a0a0a0" stroke-width="1.0"/>
<circle cx="188.9" cy="476.6" r="1.0" fill="#c8c8c8"/>
<circle cx="186.1" cy="478.3" r="1.0" fill="#c8c8c8"/>
<circle cx="183.2" cy="476.7" r="1.0" fill="#c8c8c8"/>
<circle cx="183.1" cy="473.4" r="1.0" fill="#c8c8c8"/>
<circle cx="185.9" cy="471.7" r="1.0" fill="#c8c8c8"/>
<circle cx="188.8" cy="473.3" r="1.0" fill="#c8c8c8"/>
<path d="M198.9,477.6 L196.1,479.3 L193.2,477.7 L193.1,474.4 L195.9,472.7 L198.8,474.3 Z" fill="none" stroke="#a0a0a0" stroke-width="1.0"/>
<circle cx="198.9" cy="477.6" r="1.0" fill="#c8c8c8"/>
<circle cx="196.1" cy="479.3" r="1.0" fill="#c8c8c8"/>
<circle cx="193.2" cy="477.7" r="1.0" fill="#c8c8c8"/>
<circle cx="193.1" cy="474.4" r="1.0" fill="#c8c8c8"/>
<circle cx="195.9" cy="472.7" r="1.0" fill="#c8c8c8"/>
<circle cx="198.8" cy="474.3" r="1.0" fill="#c8c8c8"/>
<path d="M208.9,477.6 L206.1,479.3 L203.2,477.7 L203.1,474.4 L205.9,472.7 L208.8,474.3 Z" fill="none" stroke="#a0a0a0" stroke-width="1.0"/>
<circle cx="208.9" cy="477.6" r="1.0" fill="#c8c8c8"/>
<circle cx="206.1" cy="479.3" r="1.0" fill="#c8c8c8"/>
<circle cx="203.2" cy="477.7" r="1.0" fill="#c8c8c8"/>
<circle cx="203.1" cy="474.4" r="1.0" fill="#c8c8c8"/>
<circle cx="205.9" cy="472.7" r="1.0" fill="#c8c8c8"/>
<circle cx="208.8" cy="474.3" r="1.0" fill="#c8c8c8"/>
<path d="M216.9,478.6 L214.1,480.3 L211.2,478.7 L211.1,475.4 L213.9,473.7 L216.8,475.3 Z" fill="none" stroke="#a0a0a0" stroke-width="1.0"/>
<circle cx="216.9" cy="478.6" r="1.0" fill="#c8c8c8"/>
<circle cx="214.1" cy="480.3" r="1.0" fill="#c8c8c8"/>
<circle cx="211.2" cy="478.7" r="1.0" fill="#c8c8c8"/>
<circle cx="211.1" cy="475.4" r="1.0" fill="#c8c8c8"/>
<circle cx="213.9" cy="473.7" r="1.0" fill="#c8c8c8"/>
<circle cx="216.8" cy="475.3" r="1.0" fill="#c8c8c8"/>
<circle cx="173" cy="470" r="1" fill="#b0b0b0"/>
<circle cx="190" cy="469" r="1" fill="#b0b0b0"/>
<circle cx="203" cy="469" r="1" fill="#b0b0b0"/>
<circle cx="215" cy="470" r="1" fill="#b0b0b0"/>
<circle cx="220" cy="482" r="1" fill="#b0b0b0"/>
<circle cx="184" cy="484" r="1" fill="#b0b0b0"/>
<circle cx="198" cy="484" r="1" fill="#b0b0b0"/>
<circle cx="181" cy="474" r="1.5" fill="#30c030"/>
<circle cx="200" cy="476" r="1.5" fill="#30c030"/>
<circle cx="211" cy="474" r="1.5" fill="#30c030"/>
<circle cx="193" cy="472" r="1.5" fill="#d02020"/>
<circle cx="165" cy="478" r="1.5" fill="#d02020"/>
<circle cx="168" cy="483" r="1.5" fill="#d02020"/>
<circle cx="177" cy="484" r="1.5" fill="#d02020"/>
<circle cx="198" cy="482" r="1.5" fill="#e0e040"/>
<g transform="rotate(0 168 492.0)"><path d="M168,486 L171.8,490.2 L169.5,490.2 L169.5,493.8 L171.8,493.8 L168,498 L164.2,493.8 L166.5,493.8 L166.5,490.2 L164.2,490.2 Z" fill="#2a78cc"/></g>
<g transform="rotate(20 187 492.0)"><path d="M187,486 L190.8,490.2 L188.5,490.2 L188.5,493.8 L190.8,493.8 L187,498 L183.2,493.8 L185.5,493.8 L185.5,490.2 L183.2,490.2 Z" fill="#2a78cc"/></g>
<g transform="rotate(0 213 492.0)"><path d="M213,486 L216.8,490.2 L214.5,490.2 L214.5,493.8 L216.8,493.8 L213,498 L209.2,493.8 L211.5,493.8 L211.5,490.2 L209.2,490.2 Z" fill="#2a78cc"/></g>
<ellipse cx="207" cy="514" rx="42" ry="18" fill="url(#gGlow)"/>
<ellipse cx="212" cy="514" rx="26" ry="11" fill="#8fd4f4" opacity="0.45"/>
<path d="M161.6,502.9 L159.7,503.4 L158.3,502.0 L158.8,500.1 L160.8,499.6 L162.2,501.0 Z" fill="none" stroke="#9c9c9c" stroke-width="0.85"/>
<circle cx="161.6" cy="502.9" r="0.8" fill="#d4d4d4"/>
<circle cx="159.7" cy="503.4" r="0.8" fill="#d4d4d4"/>
<circle cx="158.3" cy="502.0" r="0.8" fill="#d4d4d4"/>
<circle cx="158.8" cy="500.1" r="0.8" fill="#d4d4d4"/>
<circle cx="160.8" cy="499.6" r="0.8" fill="#d4d4d4"/>
<circle cx="162.2" cy="501.0" r="0.8" fill="#d4d4d4"/>
<path d="M167.9,503.5 L165.9,503.8 L164.7,502.2 L165.5,500.3 L167.5,500.1 L168.7,501.7 Z" fill="none" stroke="#9c9c9c" stroke-width="0.85"/>
<circle cx="167.9" cy="503.5" r="0.8" fill="#d4d4d4"/>
<circle cx="165.9" cy="503.8" r="0.8" fill="#d4d4d4"/>
<circle cx="164.7" cy="502.2" r="0.8" fill="#d4d4d4"/>
<circle cx="165.5" cy="500.3" r="0.8" fill="#d4d4d4"/>
<circle cx="167.5" cy="500.1" r="0.8" fill="#d4d4d4"/>
<circle cx="168.7" cy="501.7" r="0.8" fill="#d4d4d4"/>
<path d="M171.8,503.5 L169.8,503.7 L168.7,502.0 L169.5,500.2 L171.5,500.0 L172.6,501.6 Z" fill="none" stroke="#9c9c9c" stroke-width="0.85"/>
<circle cx="171.8" cy="503.5" r="0.8" fill="#d4d4d4"/>
<circle cx="169.8" cy="503.7" r="0.8" fill="#d4d4d4"/>
<circle cx="168.7" cy="502.0" r="0.8" fill="#d4d4d4"/>
<circle cx="169.5" cy="500.2" r="0.8" fill="#d4d4d4"/>
<circle cx="171.5" cy="500.0" r="0.8" fill="#d4d4d4"/>
<circle cx="172.6" cy="501.6" r="0.8" fill="#d4d4d4"/>
<path d="M179.7,503.4 L178.5,505.0 L176.5,504.8 L175.7,502.9 L176.9,501.3 L178.9,501.5 Z" fill="none" stroke="#9c9c9c" stroke-width="0.85"/>
<circle cx="179.7" cy="503.4" r="0.8" fill="#d4d4d4"/>
<circle cx="178.5" cy="505.0" r="0.8" fill="#d4d4d4"/>
<circle cx="176.5" cy="504.8" r="0.8" fill="#d4d4d4"/>
<circle cx="175.7" cy="502.9" r="0.8" fill="#d4d4d4"/>
<circle cx="176.9" cy="501.3" r="0.8" fill="#d4d4d4"/>
<circle cx="178.9" cy="501.5" r="0.8" fill="#d4d4d4"/>
<path d="M184.8,503.3 L183.1,504.3 L181.4,503.3 L181.4,501.3 L183.2,500.3 L184.9,501.3 Z" fill="none" stroke="#9c9c9c" stroke-width="0.85"/>
<circle cx="184.8" cy="503.3" r="0.8" fill="#d4d4d4"/>
<circle cx="183.1" cy="504.3" r="0.8" fill="#d4d4d4"/>
<circle cx="181.4" cy="503.3" r="0.8" fill="#d4d4d4"/>
<circle cx="181.4" cy="501.3" r="0.8" fill="#d4d4d4"/>
<circle cx="183.2" cy="500.3" r="0.8" fill="#d4d4d4"/>
<circle cx="184.9" cy="501.3" r="0.8" fill="#d4d4d4"/>
<path d="M191.1,502.7 L189.8,504.2 L187.8,503.8 L187.2,501.8 L188.5,500.4 L190.5,500.8 Z" fill="none" stroke="#9c9c9c" stroke-width="0.85"/>
<circle cx="191.1" cy="502.7" r="0.8" fill="#d4d4d4"/>
<circle cx="189.8" cy="504.2" r="0.8" fill="#d4d4d4"/>
<circle cx="187.8" cy="503.8" r="0.8" fill="#d4d4d4"/>
<circle cx="187.2" cy="501.8" r="0.8" fill="#d4d4d4"/>
<circle cx="188.5" cy="500.4" r="0.8" fill="#d4d4d4"/>
<circle cx="190.5" cy="500.8" r="0.8" fill="#d4d4d4"/>
<path d="M195.8,505.9 L193.9,506.5 L192.4,505.1 L192.9,503.1 L194.8,502.6 L196.3,504.0 Z" fill="none" stroke="#9c9c9c" stroke-width="0.85"/>
<circle cx="195.8" cy="505.9" r="0.8" fill="#d4d4d4"/>
<circle cx="193.9" cy="506.5" r="0.8" fill="#d4d4d4"/>
<circle cx="192.4" cy="505.1" r="0.8" fill="#d4d4d4"/>
<circle cx="192.9" cy="503.1" r="0.8" fill="#d4d4d4"/>
<circle cx="194.8" cy="502.6" r="0.8" fill="#d4d4d4"/>
<circle cx="196.3" cy="504.0" r="0.8" fill="#d4d4d4"/>
<path d="M201.9,505.0 L200.7,506.6 L198.7,506.3 L197.9,504.5 L199.2,502.9 L201.1,503.2 Z" fill="none" stroke="#9c9c9c" stroke-width="0.85"/>
<circle cx="201.9" cy="505.0" r="0.8" fill="#d4d4d4"/>
<circle cx="200.7" cy="506.6" r="0.8" fill="#d4d4d4"/>
<circle cx="198.7" cy="506.3" r="0.8" fill="#d4d4d4"/>
<circle cx="197.9" cy="504.5" r="0.8" fill="#d4d4d4"/>
<circle cx="199.2" cy="502.9" r="0.8" fill="#d4d4d4"/>
<circle cx="201.1" cy="503.2" r="0.8" fill="#d4d4d4"/>
<path d="M208.6,503.9 L207.6,505.6 L205.6,505.6 L204.6,503.8 L205.6,502.1 L207.6,502.1 Z" fill="none" stroke="#9c9c9c" stroke-width="0.85"/>
<circle cx="208.6" cy="503.9" r="0.8" fill="#d4d4d4"/>
<circle cx="207.6" cy="505.6" r="0.8" fill="#d4d4d4"/>
<circle cx="205.6" cy="505.6" r="0.8" fill="#d4d4d4"/>
<circle cx="204.6" cy="503.8" r="0.8" fill="#d4d4d4"/>
<circle cx="205.6" cy="502.1" r="0.8" fill="#d4d4d4"/>
<circle cx="207.6" cy="502.1" r="0.8" fill="#d4d4d4"/>
<path d="M214.9,504.9 L213.5,506.4 L211.6,505.9 L211.0,504.0 L212.3,502.6 L214.3,503.0 Z" fill="none" stroke="#9c9c9c" stroke-width="0.85"/>
<circle cx="214.9" cy="504.9" r="0.8" fill="#d4d4d4"/>
<circle cx="213.5" cy="506.4" r="0.8" fill="#d4d4d4"/>
<circle cx="211.6" cy="505.9" r="0.8" fill="#d4d4d4"/>
<circle cx="211.0" cy="504.0" r="0.8" fill="#d4d4d4"/>
<circle cx="212.3" cy="502.6" r="0.8" fill="#d4d4d4"/>
<circle cx="214.3" cy="503.0" r="0.8" fill="#d4d4d4"/>
<path d="M220.9,506.8 L219.4,508.2 L217.5,507.6 L217.0,505.7 L218.5,504.3 L220.4,504.9 Z" fill="none" stroke="#9c9c9c" stroke-width="0.85"/>
<circle cx="220.9" cy="506.8" r="0.8" fill="#d4d4d4"/>
<circle cx="219.4" cy="508.2" r="0.8" fill="#d4d4d4"/>
<circle cx="217.5" cy="507.6" r="0.8" fill="#d4d4d4"/>
<circle cx="217.0" cy="505.7" r="0.8" fill="#d4d4d4"/>
<circle cx="218.5" cy="504.3" r="0.8" fill="#d4d4d4"/>
<circle cx="220.4" cy="504.9" r="0.8" fill="#d4d4d4"/>
<path d="M226.3,507.3 L224.4,508.0 L222.9,506.8 L223.2,504.8 L225.0,504.1 L226.6,505.3 Z" fill="none" stroke="#9c9c9c" stroke-width="0.85"/>
<circle cx="226.3" cy="507.3" r="0.8" fill="#d4d4d4"/>
<circle cx="224.4" cy="508.0" r="0.8" fill="#d4d4d4"/>
<circle cx="222.9" cy="506.8" r="0.8" fill="#d4d4d4"/>
<circle cx="223.2" cy="504.8" r="0.8" fill="#d4d4d4"/>
<circle cx="225.0" cy="504.1" r="0.8" fill="#d4d4d4"/>
<circle cx="226.6" cy="505.3" r="0.8" fill="#d4d4d4"/>
<path d="M230.6,508.6 L228.7,509.3 L227.1,508.0 L227.5,506.0 L229.3,505.3 L230.9,506.6 Z" fill="none" stroke="#9c9c9c" stroke-width="0.85"/>
<circle cx="230.6" cy="508.6" r="0.8" fill="#d4d4d4"/>
<circle cx="228.7" cy="509.3" r="0.8" fill="#d4d4d4"/>
<circle cx="227.1" cy="508.0" r="0.8" fill="#d4d4d4"/>
<circle cx="227.5" cy="506.0" r="0.8" fill="#d4d4d4"/>
<circle cx="229.3" cy="505.3" r="0.8" fill="#d4d4d4"/>
<circle cx="230.9" cy="506.6" r="0.8" fill="#d4d4d4"/>
<path d="M238.2,508.2 L236.8,509.6 L234.9,509.0 L234.4,507.0 L235.9,505.7 L237.8,506.3 Z" fill="none" stroke="#9c9c9c" stroke-width="0.85"/>
<circle cx="238.2" cy="508.2" r="0.8" fill="#d4d4d4"/>
<circle cx="236.8" cy="509.6" r="0.8" fill="#d4d4d4"/>
<circle cx="234.9" cy="509.0" r="0.8" fill="#d4d4d4"/>
<circle cx="234.4" cy="507.0" r="0.8" fill="#d4d4d4"/>
<circle cx="235.9" cy="505.7" r="0.8" fill="#d4d4d4"/>
<circle cx="237.8" cy="506.3" r="0.8" fill="#d4d4d4"/>
<path d="M163.2,506.2 L162.0,507.8 L160.0,507.5 L159.2,505.6 L160.5,504.1 L162.5,504.4 Z" fill="none" stroke="#9c9c9c" stroke-width="0.85"/>
<circle cx="163.2" cy="506.2" r="0.8" fill="#d4d4d4"/>
<circle cx="162.0" cy="507.8" r="0.8" fill="#d4d4d4"/>
<circle cx="160.0" cy="507.5" r="0.8" fill="#d4d4d4"/>
<circle cx="159.2" cy="505.6" r="0.8" fill="#d4d4d4"/>
<circle cx="160.5" cy="504.1" r="0.8" fill="#d4d4d4"/>
<circle cx="162.5" cy="504.4" r="0.8" fill="#d4d4d4"/>
<path d="M168.1,507.8 L166.3,508.6 L164.6,507.5 L164.8,505.5 L166.6,504.7 L168.2,505.8 Z" fill="none" stroke="#9c9c9c" stroke-width="0.85"/>
<circle cx="168.1" cy="507.8" r="0.8" fill="#d4d4d4"/>
<circle cx="166.3" cy="508.6" r="0.8" fill="#d4d4d4"/>
<circle cx="164.6" cy="507.5" r="0.8" fill="#d4d4d4"/>
<circle cx="164.8" cy="505.5" r="0.8" fill="#d4d4d4"/>
<circle cx="166.6" cy="504.7" r="0.8" fill="#d4d4d4"/>
<circle cx="168.2" cy="505.8" r="0.8" fill="#d4d4d4"/>
<path d="M174.0,508.5 L172.5,509.8 L170.6,509.2 L170.2,507.2 L171.7,505.9 L173.6,506.6 Z" fill="none" stroke="#9c9c9c" stroke-width="0.85"/>
<circle cx="174.0" cy="508.5" r="0.8" fill="#d4d4d4"/>
<circle cx="172.5" cy="509.8" r="0.8" fill="#d4d4d4"/>
<circle cx="170.6" cy="509.2" r="0.8" fill="#d4d4d4"/>
<circle cx="170.2" cy="507.2" r="0.8" fill="#d4d4d4"/>
<circle cx="171.7" cy="505.9" r="0.8" fill="#d4d4d4"/>
<circle cx="173.6" cy="506.6" r="0.8" fill="#d4d4d4"/>
<path d="M180.3,509.5 L178.6,510.6 L176.8,509.7 L176.7,507.7 L178.4,506.6 L180.2,507.5 Z" fill="none" stroke="#9c9c9c" stroke-width="0.85"/>
<circle cx="180.3" cy="509.5" r="0.8" fill="#d4d4d4"/>
<circle cx="178.6" cy="510.6" r="0.8" fill="#d4d4d4"/>
<circle cx="176.8" cy="509.7" r="0.8" fill="#d4d4d4"/>
<circle cx="176.7" cy="507.7" r="0.8" fill="#d4d4d4"/>
<circle cx="178.4" cy="506.6" r="0.8" fill="#d4d4d4"/>
<circle cx="180.2" cy="507.5" r="0.8" fill="#d4d4d4"/>
<path d="M185.9,509.7 L184.0,510.3 L182.4,509.0 L182.8,507.1 L184.7,506.4 L186.2,507.7 Z" fill="none" stroke="#9c9c9c" stroke-width="0.85"/>
<circle cx="185.9" cy="509.7" r="0.8" fill="#d4d4d4"/>
<circle cx="184.0" cy="510.3" r="0.8" fill="#d4d4d4"/>
<circle cx="182.4" cy="509.0" r="0.8" fill="#d4d4d4"/>
<circle cx="182.8" cy="507.1" r="0.8" fill="#d4d4d4"/>
<circle cx="184.7" cy="506.4" r="0.8" fill="#d4d4d4"/>
<circle cx="186.2" cy="507.7" r="0.8" fill="#d4d4d4"/>
<path d="M191.6,509.8 L190.6,511.6 L188.6,511.5 L187.6,509.8 L188.7,508.0 L190.7,508.1 Z" fill="none" stroke="#9c9c9c" stroke-width="0.85"/>
<circle cx="191.6" cy="509.8" r="0.8" fill="#d4d4d4"/>
<circle cx="190.6" cy="511.6" r="0.8" fill="#d4d4d4"/>
<circle cx="188.6" cy="511.5" r="0.8" fill="#d4d4d4"/>
<circle cx="187.6" cy="509.8" r="0.8" fill="#d4d4d4"/>
<circle cx="188.7" cy="508.0" r="0.8" fill="#d4d4d4"/>
<circle cx="190.7" cy="508.1" r="0.8" fill="#d4d4d4"/>
<path d="M198.8,510.0 L197.8,511.7 L195.8,511.7 L194.8,510.0 L195.8,508.2 L197.8,508.3 Z" fill="none" stroke="#9c9c9c" stroke-width="0.85"/>
<circle cx="198.8" cy="510.0" r="0.8" fill="#d4d4d4"/>
<circle cx="197.8" cy="511.7" r="0.8" fill="#d4d4d4"/>
<circle cx="195.8" cy="511.7" r="0.8" fill="#d4d4d4"/>
<circle cx="194.8" cy="510.0" r="0.8" fill="#d4d4d4"/>
<circle cx="195.8" cy="508.2" r="0.8" fill="#d4d4d4"/>
<circle cx="197.8" cy="508.3" r="0.8" fill="#d4d4d4"/>
<path d="M204.4,510.6 L202.6,511.5 L200.9,510.4 L201.0,508.4 L202.8,507.5 L204.5,508.6 Z" fill="none" stroke="#9c9c9c" stroke-width="0.85"/>
<circle cx="204.4" cy="510.6" r="0.8" fill="#d4d4d4"/>
<circle cx="202.6" cy="511.5" r="0.8" fill="#d4d4d4"/>
<circle cx="200.9" cy="510.4" r="0.8" fill="#d4d4d4"/>
<circle cx="201.0" cy="508.4" r="0.8" fill="#d4d4d4"/>
<circle cx="202.8" cy="507.5" r="0.8" fill="#d4d4d4"/>
<circle cx="204.5" cy="508.6" r="0.8" fill="#d4d4d4"/>
<path d="M208.9,509.7 L207.6,511.2 L205.6,510.8 L205.0,508.9 L206.2,507.4 L208.2,507.8 Z" fill="none" stroke="#9c9c9c" stroke-width="0.85"/>
<circle cx="208.9" cy="509.7" r="0.8" fill="#d4d4d4"/>
<circle cx="207.6" cy="511.2" r="0.8" fill="#d4d4d4"/>
<circle cx="205.6" cy="510.8" r="0.8" fill="#d4d4d4"/>
<circle cx="205.0" cy="508.9" r="0.8" fill="#d4d4d4"/>
<circle cx="206.2" cy="507.4" r="0.8" fill="#d4d4d4"/>
<circle cx="208.2" cy="507.8" r="0.8" fill="#d4d4d4"/>
<path d="M216.1,511.4 L214.2,512.0 L212.7,510.6 L213.2,508.7 L215.1,508.1 L216.5,509.5 Z" fill="none" stroke="#9c9c9c" stroke-width="0.85"/>
<circle cx="216.1" cy="511.4" r="0.8" fill="#d4d4d4"/>
<circle cx="214.2" cy="512.0" r="0.8" fill="#d4d4d4"/>
<circle cx="212.7" cy="510.6" r="0.8" fill="#d4d4d4"/>
<circle cx="213.2" cy="508.7" r="0.8" fill="#d4d4d4"/>
<circle cx="215.1" cy="508.1" r="0.8" fill="#d4d4d4"/>
<circle cx="216.5" cy="509.5" r="0.8" fill="#d4d4d4"/>
<path d="M222.2,512.7 L220.7,514.0 L218.8,513.3 L218.5,511.3 L220.0,510.0 L221.9,510.7 Z" fill="none" stroke="#9c9c9c" stroke-width="0.85"/>
<circle cx="222.2" cy="512.7" r="0.8" fill="#d4d4d4"/>
<circle cx="220.7" cy="514.0" r="0.8" fill="#d4d4d4"/>
<circle cx="218.8" cy="513.3" r="0.8" fill="#d4d4d4"/>
<circle cx="218.5" cy="511.3" r="0.8" fill="#d4d4d4"/>
<circle cx="220.0" cy="510.0" r="0.8" fill="#d4d4d4"/>
<circle cx="221.9" cy="510.7" r="0.8" fill="#d4d4d4"/>
<path d="M226.4,513.0 L224.5,513.5 L223.1,512.1 L223.6,510.2 L225.5,509.7 L226.9,511.1 Z" fill="none" stroke="#9c9c9c" stroke-width="0.85"/>
<circle cx="226.4" cy="513.0" r="0.8" fill="#d4d4d4"/>
<circle cx="224.5" cy="513.5" r="0.8" fill="#d4d4d4"/>
<circle cx="223.1" cy="512.1" r="0.8" fill="#d4d4d4"/>
<circle cx="223.6" cy="510.2" r="0.8" fill="#d4d4d4"/>
<circle cx="225.5" cy="509.7" r="0.8" fill="#d4d4d4"/>
<circle cx="226.9" cy="511.1" r="0.8" fill="#d4d4d4"/>
<path d="M231.7,513.9 L229.8,514.4 L228.4,513.0 L228.9,511.1 L230.9,510.6 L232.3,512.0 Z" fill="none" stroke="#9c9c9c" stroke-width="0.85"/>
<circle cx="231.7" cy="513.9" r="0.8" fill="#d4d4d4"/>
<circle cx="229.8" cy="514.4" r="0.8" fill="#d4d4d4"/>
<circle cx="228.4" cy="513.0" r="0.8" fill="#d4d4d4"/>
<circle cx="228.9" cy="511.1" r="0.8" fill="#d4d4d4"/>
<circle cx="230.9" cy="510.6" r="0.8" fill="#d4d4d4"/>
<circle cx="232.3" cy="512.0" r="0.8" fill="#d4d4d4"/>
<path d="M238.8,513.1 L236.8,513.3 L235.6,511.7 L236.4,509.9 L238.4,509.7 L239.6,511.3 Z" fill="none" stroke="#9c9c9c" stroke-width="0.85"/>
<circle cx="238.8" cy="513.1" r="0.8" fill="#d4d4d4"/>
<circle cx="236.8" cy="513.3" r="0.8" fill="#d4d4d4"/>
<circle cx="235.6" cy="511.7" r="0.8" fill="#d4d4d4"/>
<circle cx="236.4" cy="509.9" r="0.8" fill="#d4d4d4"/>
<circle cx="238.4" cy="509.7" r="0.8" fill="#d4d4d4"/>
<circle cx="239.6" cy="511.3" r="0.8" fill="#d4d4d4"/>
<path d="M163.8,513.0 L162.0,513.9 L160.4,512.7 L160.5,510.7 L162.4,509.9 L164.0,511.0 Z" fill="none" stroke="#9c9c9c" stroke-width="0.85"/>
<circle cx="163.8" cy="513.0" r="0.8" fill="#d4d4d4"/>
<circle cx="162.0" cy="513.9" r="0.8" fill="#d4d4d4"/>
<circle cx="160.4" cy="512.7" r="0.8" fill="#d4d4d4"/>
<circle cx="160.5" cy="510.7" r="0.8" fill="#d4d4d4"/>
<circle cx="162.4" cy="509.9" r="0.8" fill="#d4d4d4"/>
<circle cx="164.0" cy="511.0" r="0.8" fill="#d4d4d4"/>
<path d="M170.8,513.9 L168.9,514.2 L167.7,512.6 L168.4,510.7 L170.4,510.5 L171.6,512.1 Z" fill="none" stroke="#9c9c9c" stroke-width="0.85"/>
<circle cx="170.8" cy="513.9" r="0.8" fill="#d4d4d4"/>
<circle cx="168.9" cy="514.2" r="0.8" fill="#d4d4d4"/>
<circle cx="167.7" cy="512.6" r="0.8" fill="#d4d4d4"/>
<circle cx="168.4" cy="510.7" r="0.8" fill="#d4d4d4"/>
<circle cx="170.4" cy="510.5" r="0.8" fill="#d4d4d4"/>
<circle cx="171.6" cy="512.1" r="0.8" fill="#d4d4d4"/>
<path d="M176.6,513.3 L175.1,514.7 L173.2,514.1 L172.8,512.1 L174.3,510.8 L176.2,511.4 Z" fill="none" stroke="#9c9c9c" stroke-width="0.85"/>
<circle cx="176.6" cy="513.3" r="0.8" fill="#d4d4d4"/>
<circle cx="175.1" cy="514.7" r="0.8" fill="#d4d4d4"/>
<circle cx="173.2" cy="514.1" r="0.8" fill="#d4d4d4"/>
<circle cx="172.8" cy="512.1" r="0.8" fill="#d4d4d4"/>
<circle cx="174.3" cy="510.8" r="0.8" fill="#d4d4d4"/>
<circle cx="176.2" cy="511.4" r="0.8" fill="#d4d4d4"/>
<path d="M181.7,513.0 L180.5,514.6 L178.5,514.3 L177.8,512.4 L179.0,510.8 L181.0,511.1 Z" fill="none" stroke="#9c9c9c" stroke-width="0.85"/>
<circle cx="181.7" cy="513.0" r="0.8" fill="#d4d4d4"/>
<circle cx="180.5" cy="514.6" r="0.8" fill="#d4d4d4"/>
<circle cx="178.5" cy="514.3" r="0.8" fill="#d4d4d4"/>
<circle cx="177.8" cy="512.4" r="0.8" fill="#d4d4d4"/>
<circle cx="179.0" cy="510.8" r="0.8" fill="#d4d4d4"/>
<circle cx="181.0" cy="511.1" r="0.8" fill="#d4d4d4"/>
<path d="M188.6,515.3 L187.3,516.9 L185.3,516.5 L184.6,514.7 L185.9,513.1 L187.8,513.4 Z" fill="none" stroke="#9c9c9c" stroke-width="0.85"/>
<circle cx="188.6" cy="515.3" r="0.8" fill="#d4d4d4"/>
<circle cx="187.3" cy="516.9" r="0.8" fill="#d4d4d4"/>
<circle cx="185.3" cy="516.5" r="0.8" fill="#d4d4d4"/>
<circle cx="184.6" cy="514.7" r="0.8" fill="#d4d4d4"/>
<circle cx="185.9" cy="513.1" r="0.8" fill="#d4d4d4"/>
<circle cx="187.8" cy="513.4" r="0.8" fill="#d4d4d4"/>
<path d="M192.8,516.4 L191.1,517.4 L189.4,516.4 L189.4,514.4 L191.1,513.4 L192.8,514.4 Z" fill="none" stroke="#9c9c9c" stroke-width="0.85"/>
<circle cx="192.8" cy="516.4" r="0.8" fill="#d4d4d4"/>
<circle cx="191.1" cy="517.4" r="0.8" fill="#d4d4d4"/>
<circle cx="189.4" cy="516.4" r="0.8" fill="#d4d4d4"/>
<circle cx="189.4" cy="514.4" r="0.8" fill="#d4d4d4"/>
<circle cx="191.1" cy="513.4" r="0.8" fill="#d4d4d4"/>
<circle cx="192.8" cy="514.4" r="0.8" fill="#d4d4d4"/>
<path d="M199.3,515.5 L197.5,516.4 L195.8,515.3 L196.0,513.3 L197.8,512.4 L199.4,513.5 Z" fill="none" stroke="#9c9c9c" stroke-width="0.85"/>
<circle cx="199.3" cy="515.5" r="0.8" fill="#d4d4d4"/>
<circle cx="197.5" cy="516.4" r="0.8" fill="#d4d4d4"/>
<circle cx="195.8" cy="515.3" r="0.8" fill="#d4d4d4"/>
<circle cx="196.0" cy="513.3" r="0.8" fill="#d4d4d4"/>
<circle cx="197.8" cy="512.4" r="0.8" fill="#d4d4d4"/>
<circle cx="199.4" cy="513.5" r="0.8" fill="#d4d4d4"/>
<path d="M206.1,516.1 L204.5,517.3 L202.6,516.4 L202.4,514.4 L204.0,513.3 L205.9,514.1 Z" fill="none" stroke="#9c9c9c" stroke-width="0.85"/>
<circle cx="206.1" cy="516.1" r="0.8" fill="#d4d4d4"/>
<circle cx="204.5" cy="517.3" r="0.8" fill="#d4d4d4"/>
<circle cx="202.6" cy="516.4" r="0.8" fill="#d4d4d4"/>
<circle cx="202.4" cy="514.4" r="0.8" fill="#d4d4d4"/>
<circle cx="204.0" cy="513.3" r="0.8" fill="#d4d4d4"/>
<circle cx="205.9" cy="514.1" r="0.8" fill="#d4d4d4"/>
<path d="M210.5,516.7 L209.5,518.4 L207.5,518.3 L206.5,516.6 L207.6,514.9 L209.6,514.9 Z" fill="none" stroke="#9c9c9c" stroke-width="0.85"/>
<circle cx="210.5" cy="516.7" r="0.8" fill="#d4d4d4"/>
<circle cx="209.5" cy="518.4" r="0.8" fill="#d4d4d4"/>
<circle cx="207.5" cy="518.3" r="0.8" fill="#d4d4d4"/>
<circle cx="206.5" cy="516.6" r="0.8" fill="#d4d4d4"/>
<circle cx="207.6" cy="514.9" r="0.8" fill="#d4d4d4"/>
<circle cx="209.6" cy="514.9" r="0.8" fill="#d4d4d4"/>
<path d="M217.2,517.2 L216.0,518.8 L214.0,518.5 L213.2,516.7 L214.4,515.1 L216.4,515.3 Z" fill="none" stroke="#9c9c9c" stroke-width="0.85"/>
<circle cx="217.2" cy="517.2" r="0.8" fill="#d4d4d4"/>
<circle cx="216.0" cy="518.8" r="0.8" fill="#d4d4d4"/>
<circle cx="214.0" cy="518.5" r="0.8" fill="#d4d4d4"/>
<circle cx="213.2" cy="516.7" r="0.8" fill="#d4d4d4"/>
<circle cx="214.4" cy="515.1" r="0.8" fill="#d4d4d4"/>
<circle cx="216.4" cy="515.3" r="0.8" fill="#d4d4d4"/>
<path d="M223.1,518.8 L221.3,519.6 L219.6,518.4 L219.8,516.4 L221.7,515.6 L223.3,516.8 Z" fill="none" stroke="#9c9c9c" stroke-width="0.85"/>
<circle cx="223.1" cy="518.8" r="0.8" fill="#d4d4d4"/>
<circle cx="221.3" cy="519.6" r="0.8" fill="#d4d4d4"/>
<circle cx="219.6" cy="518.4" r="0.8" fill="#d4d4d4"/>
<circle cx="219.8" cy="516.4" r="0.8" fill="#d4d4d4"/>
<circle cx="221.7" cy="515.6" r="0.8" fill="#d4d4d4"/>
<circle cx="223.3" cy="516.8" r="0.8" fill="#d4d4d4"/>
<path d="M229.2,517.2 L227.6,518.4 L225.7,517.5 L225.6,515.5 L227.2,514.4 L229.0,515.2 Z" fill="none" stroke="#9c9c9c" stroke-width="0.85"/>
<circle cx="229.2" cy="517.2" r="0.8" fill="#d4d4d4"/>
<circle cx="227.6" cy="518.4" r="0.8" fill="#d4d4d4"/>
<circle cx="225.7" cy="517.5" r="0.8" fill="#d4d4d4"/>
<circle cx="225.6" cy="515.5" r="0.8" fill="#d4d4d4"/>
<circle cx="227.2" cy="514.4" r="0.8" fill="#d4d4d4"/>
<circle cx="229.0" cy="515.2" r="0.8" fill="#d4d4d4"/>
<path d="M233.8,518.9 L232.4,520.2 L230.4,519.7 L230.0,517.7 L231.4,516.3 L233.4,516.9 Z" fill="none" stroke="#9c9c9c" stroke-width="0.85"/>
<circle cx="233.8" cy="518.9" r="0.8" fill="#d4d4d4"/>
<circle cx="232.4" cy="520.2" r="0.8" fill="#d4d4d4"/>
<circle cx="230.4" cy="519.7" r="0.8" fill="#d4d4d4"/>
<circle cx="230.0" cy="517.7" r="0.8" fill="#d4d4d4"/>
<circle cx="231.4" cy="516.3" r="0.8" fill="#d4d4d4"/>
<circle cx="233.4" cy="516.9" r="0.8" fill="#d4d4d4"/>
<path d="M239.6,520.6 L237.7,520.9 L236.3,519.4 L237.0,517.5 L239.0,517.2 L240.3,518.7 Z" fill="none" stroke="#9c9c9c" stroke-width="0.85"/>
<circle cx="239.6" cy="520.6" r="0.8" fill="#d4d4d4"/>
<circle cx="237.7" cy="520.9" r="0.8" fill="#d4d4d4"/>
<circle cx="236.3" cy="519.4" r="0.8" fill="#d4d4d4"/>
<circle cx="237.0" cy="517.5" r="0.8" fill="#d4d4d4"/>
<circle cx="239.0" cy="517.2" r="0.8" fill="#d4d4d4"/>
<circle cx="240.3" cy="518.7" r="0.8" fill="#d4d4d4"/>
<path d="M167.2,518.6 L165.5,519.7 L163.8,518.8 L163.7,516.8 L165.4,515.7 L167.1,516.6 Z" fill="none" stroke="#9c9c9c" stroke-width="0.85"/>
<circle cx="167.2" cy="518.6" r="0.8" fill="#d4d4d4"/>
<circle cx="165.5" cy="519.7" r="0.8" fill="#d4d4d4"/>
<circle cx="163.8" cy="518.8" r="0.8" fill="#d4d4d4"/>
<circle cx="163.7" cy="516.8" r="0.8" fill="#d4d4d4"/>
<circle cx="165.4" cy="515.7" r="0.8" fill="#d4d4d4"/>
<circle cx="167.1" cy="516.6" r="0.8" fill="#d4d4d4"/>
<path d="M172.7,518.8 L171.2,520.2 L169.3,519.6 L168.8,517.6 L170.3,516.3 L172.2,516.8 Z" fill="none" stroke="#9c9c9c" stroke-width="0.85"/>
<circle cx="172.7" cy="518.8" r="0.8" fill="#d4d4d4"/>
<circle cx="171.2" cy="520.2" r="0.8" fill="#d4d4d4"/>
<circle cx="169.3" cy="519.6" r="0.8" fill="#d4d4d4"/>
<circle cx="168.8" cy="517.6" r="0.8" fill="#d4d4d4"/>
<circle cx="170.3" cy="516.3" r="0.8" fill="#d4d4d4"/>
<circle cx="172.2" cy="516.8" r="0.8" fill="#d4d4d4"/>
<path d="M177.8,518.7 L176.2,520.0 L174.3,519.2 L174.0,517.3 L175.6,516.0 L177.5,516.8 Z" fill="none" stroke="#9c9c9c" stroke-width="0.85"/>
<circle cx="177.8" cy="518.7" r="0.8" fill="#d4d4d4"/>
<circle cx="176.2" cy="520.0" r="0.8" fill="#d4d4d4"/>
<circle cx="174.3" cy="519.2" r="0.8" fill="#d4d4d4"/>
<circle cx="174.0" cy="517.3" r="0.8" fill="#d4d4d4"/>
<circle cx="175.6" cy="516.0" r="0.8" fill="#d4d4d4"/>
<circle cx="177.5" cy="516.8" r="0.8" fill="#d4d4d4"/>
<path d="M184.5,521.2 L182.7,522.1 L181.1,520.9 L181.3,518.9 L183.1,518.1 L184.7,519.3 Z" fill="none" stroke="#9c9c9c" stroke-width="0.85"/>
<circle cx="184.5" cy="521.2" r="0.8" fill="#d4d4d4"/>
<circle cx="182.7" cy="522.1" r="0.8" fill="#d4d4d4"/>
<circle cx="181.1" cy="520.9" r="0.8" fill="#d4d4d4"/>
<circle cx="181.3" cy="518.9" r="0.8" fill="#d4d4d4"/>
<circle cx="183.1" cy="518.1" r="0.8" fill="#d4d4d4"/>
<circle cx="184.7" cy="519.3" r="0.8" fill="#d4d4d4"/>
<path d="M189.7,519.5 L188.5,521.1 L186.5,520.9 L185.7,519.1 L186.9,517.5 L188.8,517.6 Z" fill="none" stroke="#9c9c9c" stroke-width="0.85"/>
<circle cx="189.7" cy="519.5" r="0.8" fill="#d4d4d4"/>
<circle cx="188.5" cy="521.1" r="0.8" fill="#d4d4d4"/>
<circle cx="186.5" cy="520.9" r="0.8" fill="#d4d4d4"/>
<circle cx="185.7" cy="519.1" r="0.8" fill="#d4d4d4"/>
<circle cx="186.9" cy="517.5" r="0.8" fill="#d4d4d4"/>
<circle cx="188.8" cy="517.6" r="0.8" fill="#d4d4d4"/>
<path d="M194.3,522.1 L192.4,522.5 L191.1,521.0 L191.8,519.1 L193.7,518.7 L195.0,520.3 Z" fill="none" stroke="#9c9c9c" stroke-width="0.85"/>
<circle cx="194.3" cy="522.1" r="0.8" fill="#d4d4d4"/>
<circle cx="192.4" cy="522.5" r="0.8" fill="#d4d4d4"/>
<circle cx="191.1" cy="521.0" r="0.8" fill="#d4d4d4"/>
<circle cx="191.8" cy="519.1" r="0.8" fill="#d4d4d4"/>
<circle cx="193.7" cy="518.7" r="0.8" fill="#d4d4d4"/>
<circle cx="195.0" cy="520.3" r="0.8" fill="#d4d4d4"/>
<path d="M200.5,522.5 L198.5,523.0 L197.1,521.6 L197.6,519.7 L199.5,519.1 L200.9,520.5 Z" fill="none" stroke="#9c9c9c" stroke-width="0.85"/>
<circle cx="200.5" cy="522.5" r="0.8" fill="#d4d4d4"/>
<circle cx="198.5" cy="523.0" r="0.8" fill="#d4d4d4"/>
<circle cx="197.1" cy="521.6" r="0.8" fill="#d4d4d4"/>
<circle cx="197.6" cy="519.7" r="0.8" fill="#d4d4d4"/>
<circle cx="199.5" cy="519.1" r="0.8" fill="#d4d4d4"/>
<circle cx="200.9" cy="520.5" r="0.8" fill="#d4d4d4"/>
<path d="M206.9,522.7 L205.0,523.2 L203.6,521.8 L204.0,519.9 L206.0,519.3 L207.4,520.7 Z" fill="none" stroke="#9c9c9c" stroke-width="0.85"/>
<circle cx="206.9" cy="522.7" r="0.8" fill="#d4d4d4"/>
<circle cx="205.0" cy="523.2" r="0.8" fill="#d4d4d4"/>
<circle cx="203.6" cy="521.8" r="0.8" fill="#d4d4d4"/>
<circle cx="204.0" cy="519.9" r="0.8" fill="#d4d4d4"/>
<circle cx="206.0" cy="519.3" r="0.8" fill="#d4d4d4"/>
<circle cx="207.4" cy="520.7" r="0.8" fill="#d4d4d4"/>
<path d="M212.5,522.4 L211.1,523.8 L209.2,523.2 L208.7,521.3 L210.1,519.9 L212.1,520.4 Z" fill="none" stroke="#9c9c9c" stroke-width="0.85"/>
<circle cx="212.5" cy="522.4" r="0.8" fill="#d4d4d4"/>
<circle cx="211.1" cy="523.8" r="0.8" fill="#d4d4d4"/>
<circle cx="209.2" cy="523.2" r="0.8" fill="#d4d4d4"/>
<circle cx="208.7" cy="521.3" r="0.8" fill="#d4d4d4"/>
<circle cx="210.1" cy="519.9" r="0.8" fill="#d4d4d4"/>
<circle cx="212.1" cy="520.4" r="0.8" fill="#d4d4d4"/>
<path d="M218.2,523.7 L216.3,524.4 L214.8,523.1 L215.1,521.1 L217.0,520.4 L218.5,521.7 Z" fill="none" stroke="#9c9c9c" stroke-width="0.85"/>
<circle cx="218.2" cy="523.7" r="0.8" fill="#d4d4d4"/>
<circle cx="216.3" cy="524.4" r="0.8" fill="#d4d4d4"/>
<circle cx="214.8" cy="523.1" r="0.8" fill="#d4d4d4"/>
<circle cx="215.1" cy="521.1" r="0.8" fill="#d4d4d4"/>
<circle cx="217.0" cy="520.4" r="0.8" fill="#d4d4d4"/>
<circle cx="218.5" cy="521.7" r="0.8" fill="#d4d4d4"/>
<path d="M223.7,524.4 L221.8,525.2 L220.2,524.0 L220.5,522.0 L222.3,521.2 L223.9,522.4 Z" fill="none" stroke="#9c9c9c" stroke-width="0.85"/>
<circle cx="223.7" cy="524.4" r="0.8" fill="#d4d4d4"/>
<circle cx="221.8" cy="525.2" r="0.8" fill="#d4d4d4"/>
<circle cx="220.2" cy="524.0" r="0.8" fill="#d4d4d4"/>
<circle cx="220.5" cy="522.0" r="0.8" fill="#d4d4d4"/>
<circle cx="222.3" cy="521.2" r="0.8" fill="#d4d4d4"/>
<circle cx="223.9" cy="522.4" r="0.8" fill="#d4d4d4"/>
<path d="M230.2,522.8 L228.4,523.8 L226.7,522.7 L226.8,520.7 L228.5,519.8 L230.2,520.8 Z" fill="none" stroke="#9c9c9c" stroke-width="0.85"/>
<circle cx="230.2" cy="522.8" r="0.8" fill="#d4d4d4"/>
<circle cx="228.4" cy="523.8" r="0.8" fill="#d4d4d4"/>
<circle cx="226.7" cy="522.7" r="0.8" fill="#d4d4d4"/>
<circle cx="226.8" cy="520.7" r="0.8" fill="#d4d4d4"/>
<circle cx="228.5" cy="519.8" r="0.8" fill="#d4d4d4"/>
<circle cx="230.2" cy="520.8" r="0.8" fill="#d4d4d4"/>
<path d="M235.4,524.4 L233.7,525.5 L231.9,524.6 L231.8,522.7 L233.5,521.5 L235.3,522.4 Z" fill="none" stroke="#9c9c9c" stroke-width="0.85"/>
<circle cx="235.4" cy="524.4" r="0.8" fill="#d4d4d4"/>
<circle cx="233.7" cy="525.5" r="0.8" fill="#d4d4d4"/>
<circle cx="231.9" cy="524.6" r="0.8" fill="#d4d4d4"/>
<circle cx="231.8" cy="522.7" r="0.8" fill="#d4d4d4"/>
<circle cx="233.5" cy="521.5" r="0.8" fill="#d4d4d4"/>
<circle cx="235.3" cy="522.4" r="0.8" fill="#d4d4d4"/>
<path d="M241.9,525.4 L240.0,525.9 L238.6,524.4 L239.1,522.5 L241.1,522.0 L242.5,523.5 Z" fill="none" stroke="#9c9c9c" stroke-width="0.85"/>
<circle cx="241.9" cy="525.4" r="0.8" fill="#d4d4d4"/>
<circle cx="240.0" cy="525.9" r="0.8" fill="#d4d4d4"/>
<circle cx="238.6" cy="524.4" r="0.8" fill="#d4d4d4"/>
<circle cx="239.1" cy="522.5" r="0.8" fill="#d4d4d4"/>
<circle cx="241.1" cy="522.0" r="0.8" fill="#d4d4d4"/>
<circle cx="242.5" cy="523.5" r="0.8" fill="#d4d4d4"/>
<path d="M167.2,525.0 L165.3,525.6 L163.8,524.3 L164.2,522.3 L166.1,521.7 L167.6,523.1 Z" fill="none" stroke="#9c9c9c" stroke-width="0.85"/>
<circle cx="167.2" cy="525.0" r="0.8" fill="#d4d4d4"/>
<circle cx="165.3" cy="525.6" r="0.8" fill="#d4d4d4"/>
<circle cx="163.8" cy="524.3" r="0.8" fill="#d4d4d4"/>
<circle cx="164.2" cy="522.3" r="0.8" fill="#d4d4d4"/>
<circle cx="166.1" cy="521.7" r="0.8" fill="#d4d4d4"/>
<circle cx="167.6" cy="523.1" r="0.8" fill="#d4d4d4"/>
<path d="M173.8,525.0 L171.8,525.4 L170.5,524.0 L171.1,522.1 L173.1,521.7 L174.4,523.1 Z" fill="none" stroke="#9c9c9c" stroke-width="0.85"/>
<circle cx="173.8" cy="525.0" r="0.8" fill="#d4d4d4"/>
<circle cx="171.8" cy="525.4" r="0.8" fill="#d4d4d4"/>
<circle cx="170.5" cy="524.0" r="0.8" fill="#d4d4d4"/>
<circle cx="171.1" cy="522.1" r="0.8" fill="#d4d4d4"/>
<circle cx="173.1" cy="521.7" r="0.8" fill="#d4d4d4"/>
<circle cx="174.4" cy="523.1" r="0.8" fill="#d4d4d4"/>
<path d="M179.5,526.3 L177.5,526.5 L176.3,524.8 L177.2,523.0 L179.2,522.9 L180.3,524.5 Z" fill="none" stroke="#9c9c9c" stroke-width="0.85"/>
<circle cx="179.5" cy="526.3" r="0.8" fill="#d4d4d4"/>
<circle cx="177.5" cy="526.5" r="0.8" fill="#d4d4d4"/>
<circle cx="176.3" cy="524.8" r="0.8" fill="#d4d4d4"/>
<circle cx="177.2" cy="523.0" r="0.8" fill="#d4d4d4"/>
<circle cx="179.2" cy="522.9" r="0.8" fill="#d4d4d4"/>
<circle cx="180.3" cy="524.5" r="0.8" fill="#d4d4d4"/>
<path d="M186.0,525.8 L184.3,526.8 L182.6,525.8 L182.6,523.8 L184.3,522.8 L186.1,523.8 Z" fill="none" stroke="#9c9c9c" stroke-width="0.85"/>
<circle cx="186.0" cy="525.8" r="0.8" fill="#d4d4d4"/>
<circle cx="184.3" cy="526.8" r="0.8" fill="#d4d4d4"/>
<circle cx="182.6" cy="525.8" r="0.8" fill="#d4d4d4"/>
<circle cx="182.6" cy="523.8" r="0.8" fill="#d4d4d4"/>
<circle cx="184.3" cy="522.8" r="0.8" fill="#d4d4d4"/>
<circle cx="186.1" cy="523.8" r="0.8" fill="#d4d4d4"/>
<path d="M189.7,527.5 L187.7,527.7 L186.5,526.1 L187.3,524.3 L189.3,524.0 L190.5,525.7 Z" fill="none" stroke="#9c9c9c" stroke-width="0.85"/>
<circle cx="189.7" cy="527.5" r="0.8" fill="#d4d4d4"/>
<circle cx="187.7" cy="527.7" r="0.8" fill="#d4d4d4"/>
<circle cx="186.5" cy="526.1" r="0.8" fill="#d4d4d4"/>
<circle cx="187.3" cy="524.3" r="0.8" fill="#d4d4d4"/>
<circle cx="189.3" cy="524.0" r="0.8" fill="#d4d4d4"/>
<circle cx="190.5" cy="525.7" r="0.8" fill="#d4d4d4"/>
<path d="M196.5,527.4 L194.6,528.0 L193.1,526.7 L193.5,524.7 L195.3,524.1 L196.8,525.4 Z" fill="none" stroke="#9c9c9c" stroke-width="0.85"/>
<circle cx="196.5" cy="527.4" r="0.8" fill="#d4d4d4"/>
<circle cx="194.6" cy="528.0" r="0.8" fill="#d4d4d4"/>
<circle cx="193.1" cy="526.7" r="0.8" fill="#d4d4d4"/>
<circle cx="193.5" cy="524.7" r="0.8" fill="#d4d4d4"/>
<circle cx="195.3" cy="524.1" r="0.8" fill="#d4d4d4"/>
<circle cx="196.8" cy="525.4" r="0.8" fill="#d4d4d4"/>
<path d="M202.7,526.9 L200.8,527.4 L199.3,526.0 L199.8,524.0 L201.8,523.5 L203.2,524.9 Z" fill="none" stroke="#9c9c9c" stroke-width="0.85"/>
<circle cx="202.7" cy="526.9" r="0.8" fill="#d4d4d4"/>
<circle cx="200.8" cy="527.4" r="0.8" fill="#d4d4d4"/>
<circle cx="199.3" cy="526.0" r="0.8" fill="#d4d4d4"/>
<circle cx="199.8" cy="524.0" r="0.8" fill="#d4d4d4"/>
<circle cx="201.8" cy="523.5" r="0.8" fill="#d4d4d4"/>
<circle cx="203.2" cy="524.9" r="0.8" fill="#d4d4d4"/>
<path d="M208.6,527.7 L207.0,528.9 L205.1,528.1 L204.9,526.1 L206.6,524.9 L208.4,525.7 Z" fill="none" stroke="#9c9c9c" stroke-width="0.85"/>
<circle cx="208.6" cy="527.7" r="0.8" fill="#d4d4d4"/>
<circle cx="207.0" cy="528.9" r="0.8" fill="#d4d4d4"/>
<circle cx="205.1" cy="528.1" r="0.8" fill="#d4d4d4"/>
<circle cx="204.9" cy="526.1" r="0.8" fill="#d4d4d4"/>
<circle cx="206.6" cy="524.9" r="0.8" fill="#d4d4d4"/>
<circle cx="208.4" cy="525.7" r="0.8" fill="#d4d4d4"/>
<path d="M214.3,528.7 L212.4,529.5 L210.8,528.3 L211.0,526.4 L212.9,525.6 L214.5,526.8 Z" fill="none" stroke="#9c9c9c" stroke-width="0.85"/>
<circle cx="214.3" cy="528.7" r="0.8" fill="#d4d4d4"/>
<circle cx="212.4" cy="529.5" r="0.8" fill="#d4d4d4"/>
<circle cx="210.8" cy="528.3" r="0.8" fill="#d4d4d4"/>
<circle cx="211.0" cy="526.4" r="0.8" fill="#d4d4d4"/>
<circle cx="212.9" cy="525.6" r="0.8" fill="#d4d4d4"/>
<circle cx="214.5" cy="526.8" r="0.8" fill="#d4d4d4"/>
<path d="M220.6,526.8 L219.4,528.4 L217.4,528.1 L216.7,526.2 L217.9,524.6 L219.9,525.0 Z" fill="none" stroke="#9c9c9c" stroke-width="0.85"/>
<circle cx="220.6" cy="526.8" r="0.8" fill="#d4d4d4"/>
<circle cx="219.4" cy="528.4" r="0.8" fill="#d4d4d4"/>
<circle cx="217.4" cy="528.1" r="0.8" fill="#d4d4d4"/>
<circle cx="216.7" cy="526.2" r="0.8" fill="#d4d4d4"/>
<circle cx="217.9" cy="524.6" r="0.8" fill="#d4d4d4"/>
<circle cx="219.9" cy="525.0" r="0.8" fill="#d4d4d4"/>
<path d="M225.8,528.6 L224.5,530.1 L222.5,529.7 L221.9,527.8 L223.3,526.3 L225.2,526.7 Z" fill="none" stroke="#9c9c9c" stroke-width="0.85"/>
<circle cx="225.8" cy="528.6" r="0.8" fill="#d4d4d4"/>
<circle cx="224.5" cy="530.1" r="0.8" fill="#d4d4d4"/>
<circle cx="222.5" cy="529.7" r="0.8" fill="#d4d4d4"/>
<circle cx="221.9" cy="527.8" r="0.8" fill="#d4d4d4"/>
<circle cx="223.3" cy="526.3" r="0.8" fill="#d4d4d4"/>
<circle cx="225.2" cy="526.7" r="0.8" fill="#d4d4d4"/>
<path d="M232.2,528.7 L231.1,530.4 L229.1,530.3 L228.2,528.5 L229.2,526.8 L231.2,526.9 Z" fill="none" stroke="#9c9c9c" stroke-width="0.85"/>
<circle cx="232.2" cy="528.7" r="0.8" fill="#d4d4d4"/>
<circle cx="231.1" cy="530.4" r="0.8" fill="#d4d4d4"/>
<circle cx="229.1" cy="530.3" r="0.8" fill="#d4d4d4"/>
<circle cx="228.2" cy="528.5" r="0.8" fill="#d4d4d4"/>
<circle cx="229.2" cy="526.8" r="0.8" fill="#d4d4d4"/>
<circle cx="231.2" cy="526.9" r="0.8" fill="#d4d4d4"/>
<path d="M237.5,528.4 L236.4,530.0 L234.5,529.9 L233.5,528.1 L234.6,526.5 L236.6,526.6 Z" fill="none" stroke="#9c9c9c" stroke-width="0.85"/>
<circle cx="237.5" cy="528.4" r="0.8" fill="#d4d4d4"/>
<circle cx="236.4" cy="530.0" r="0.8" fill="#d4d4d4"/>
<circle cx="234.5" cy="529.9" r="0.8" fill="#d4d4d4"/>
<circle cx="233.5" cy="528.1" r="0.8" fill="#d4d4d4"/>
<circle cx="234.6" cy="526.5" r="0.8" fill="#d4d4d4"/>
<circle cx="236.6" cy="526.6" r="0.8" fill="#d4d4d4"/>
<path d="M242.6,529.2 L241.3,530.8 L239.4,530.4 L238.7,528.5 L240.0,527.0 L242.0,527.4 Z" fill="none" stroke="#9c9c9c" stroke-width="0.85"/>
<circle cx="242.6" cy="529.2" r="0.8" fill="#d4d4d4"/>
<circle cx="241.3" cy="530.8" r="0.8" fill="#d4d4d4"/>
<circle cx="239.4" cy="530.4" r="0.8" fill="#d4d4d4"/>
<circle cx="238.7" cy="528.5" r="0.8" fill="#d4d4d4"/>
<circle cx="240.0" cy="527.0" r="0.8" fill="#d4d4d4"/>
<circle cx="242.0" cy="527.4" r="0.8" fill="#d4d4d4"/>
<circle cx="161.4" cy="503.6" r="2.2" fill="#d01828"/>
<circle cx="175.7" cy="506.4" r="2.2" fill="#d01828"/>
<circle cx="187.9" cy="504.6" r="2.2" fill="#d01828"/>
<circle cx="194.3" cy="500" r="2.2" fill="#d01828"/>
<circle cx="202.1" cy="506.4" r="2.2" fill="#d01828"/>
<circle cx="220" cy="500.7" r="2.2" fill="#d01828"/>
<circle cx="163.6" cy="514.3" r="2.2" fill="#d01828"/>
<circle cx="167.1" cy="513.9" r="2.2" fill="#d01828"/>
<circle cx="177.9" cy="517.4" r="2.2" fill="#d01828"/>
<circle cx="187.1" cy="511.7" r="2.2" fill="#d01828"/>
<circle cx="196.4" cy="510.3" r="2.2" fill="#d01828"/>
<circle cx="193.6" cy="514.3" r="2.2" fill="#d01828"/>
<circle cx="200.7" cy="514.3" r="2.2" fill="#d01828"/>
<circle cx="213.6" cy="512.6" r="2.2" fill="#d01828"/>
<circle cx="208.6" cy="517.4" r="2.2" fill="#d01828"/>
<circle cx="227.1" cy="511.4" r="2.2" fill="#d01828"/>
<circle cx="169.3" cy="525" r="2.2" fill="#d01828"/>
<circle cx="190" cy="522.6" r="2.2" fill="#d01828"/>
<circle cx="200" cy="525.4" r="2.2" fill="#d01828"/>
<circle cx="203.6" cy="525" r="2.2" fill="#d01828"/>
<circle cx="220" cy="522.9" r="2.2" fill="#d01828"/>
<circle cx="233.6" cy="525.7" r="2.2" fill="#d01828"/>
<circle cx="227.1" cy="514.3" r="2.2" fill="#d01828"/>
<circle cx="164.9" cy="499" r="1.1" fill="#30c040"/>
<circle cx="180" cy="507" r="1.1" fill="#30c040"/>
<circle cx="184" cy="507.7" r="1.1" fill="#30c040"/>
<circle cx="180.7" cy="518.6" r="1.1" fill="#30c040"/>
<circle cx="186" cy="517" r="1.1" fill="#30c040"/>
<circle cx="207" cy="507.4" r="1.1" fill="#30c040"/>
<circle cx="211" cy="507.6" r="1.1" fill="#30c040"/>
<circle cx="213" cy="518.6" r="1.1" fill="#30c040"/>
<circle cx="218.6" cy="518.6" r="1.1" fill="#30c040"/>
<circle cx="224.3" cy="529" r="1.1" fill="#30c040"/>
<circle cx="195" cy="527" r="1.1" fill="#30c040"/>
<circle cx="172" cy="521" r="1.1" fill="#30c040"/>
<path d="M311.4,449.4 H328.2 V467.7 H350.1 V484.4 H328.2 V502.4 H311.4 V484.4 H289.4 V467.7 H311.4 Z" fill="#0b6fc5"/>
<line x1="427.7" y1="435.5" x2="422.6" y2="444.3" stroke="#a8a8a8" stroke-width="2.0"/>
<line x1="422.6" y1="444.3" x2="412.4" y2="444.3" stroke="#a8a8a8" stroke-width="2.0"/>
<line x1="412.4" y1="444.3" x2="407.3" y2="435.5" stroke="#a8a8a8" stroke-width="2.0"/>
<line x1="407.3" y1="435.5" x2="412.4" y2="426.7" stroke="#a8a8a8" stroke-width="2.0"/>
<line x1="412.4" y1="426.7" x2="422.6" y2="426.7" stroke="#a8a8a8" stroke-width="2.0"/>
<line x1="422.6" y1="426.7" x2="427.7" y2="435.5" stroke="#a8a8a8" stroke-width="2.0"/>
<line x1="456.7" y1="435.5" x2="451.6" y2="444.3" stroke="#a8a8a8" stroke-width="2.0"/>
<line x1="451.6" y1="444.3" x2="441.4" y2="444.3" stroke="#a8a8a8" stroke-width="2.0"/>
<line x1="441.4" y1="444.3" x2="436.3" y2="435.5" stroke="#a8a8a8" stroke-width="2.0"/>
<line x1="436.3" y1="435.5" x2="441.4" y2="426.7" stroke="#a8a8a8" stroke-width="2.0"/>
<line x1="441.4" y1="426.7" x2="451.6" y2="426.7" stroke="#a8a8a8" stroke-width="2.0"/>
<line x1="451.6" y1="426.7" x2="456.7" y2="435.5" stroke="#a8a8a8" stroke-width="2.0"/>
<line x1="427.7" y1="435.5" x2="436.3" y2="435.5" stroke="#a8a8a8" stroke-width="2.0"/>
<line x1="407.3" y1="435.5" x2="399.3" y2="435.5" stroke="#a8a8a8" stroke-width="2.0"/>
<line x1="456.7" y1="435.5" x2="464.7" y2="435.5" stroke="#a8a8a8" stroke-width="2.0"/>
<line x1="412.4" y1="426.7" x2="406.4" y2="417.7" stroke="#a8a8a8" stroke-width="2.0"/>
<line x1="412.4" y1="444.3" x2="406.4" y2="453.3" stroke="#a8a8a8" stroke-width="2.0"/>
<line x1="451.6" y1="426.7" x2="457.6" y2="417.7" stroke="#a8a8a8" stroke-width="2.0"/>
<line x1="451.6" y1="444.3" x2="457.6" y2="453.3" stroke="#a8a8a8" stroke-width="2.0"/>
<circle cx="427.7" cy="435.5" r="3.0" fill="url(#gGray)"/>
<circle cx="422.6" cy="444.3" r="3.0" fill="url(#gGray)"/>
<circle cx="412.4" cy="444.3" r="3.0" fill="url(#gGray)"/>
<circle cx="407.3" cy="435.5" r="3.0" fill="url(#gGray)"/>
<circle cx="412.4" cy="426.7" r="3.0" fill="url(#gGray)"/>
<circle cx="422.6" cy="426.7" r="3.0" fill="url(#gGray)"/>
<circle cx="456.7" cy="435.5" r="3.0" fill="url(#gGray)"/>
<circle cx="451.6" cy="444.3" r="3.0" fill="url(#gGray)"/>
<circle cx="441.4" cy="444.3" r="3.0" fill="url(#gGray)"/>
<circle cx="436.3" cy="435.5" r="3.0" fill="url(#gGray)"/>
<circle cx="441.4" cy="426.7" r="3.0" fill="url(#gGray)"/>
<circle cx="451.6" cy="426.7" r="3.0" fill="url(#gGray)"/>
<circle cx="406.4" cy="417.7" r="3.0" fill="url(#gGray)"/>
<circle cx="406.4" cy="453.3" r="3.0" fill="url(#gGray)"/>
<circle cx="457.6" cy="417.7" r="3.0" fill="url(#gGray)"/>
<circle cx="457.6" cy="453.3" r="3.0" fill="url(#gGray)"/>
<circle cx="401.4" cy="417.7" r="1.9" fill="url(#gWhite)"/>
<circle cx="406.4" cy="412.7" r="1.9" fill="url(#gWhite)"/>
<circle cx="402.4" cy="414.7" r="1.9" fill="url(#gWhite)"/>
<circle cx="401.4" cy="453.3" r="1.9" fill="url(#gWhite)"/>
<circle cx="406.4" cy="458.3" r="1.9" fill="url(#gWhite)"/>
<circle cx="402.4" cy="456.3" r="1.9" fill="url(#gWhite)"/>
<circle cx="462.6" cy="417.7" r="1.9" fill="url(#gWhite)"/>
<circle cx="457.6" cy="412.7" r="1.9" fill="url(#gWhite)"/>
<circle cx="461.6" cy="414.7" r="1.9" fill="url(#gWhite)"/>
<circle cx="462.6" cy="453.3" r="1.9" fill="url(#gWhite)"/>
<circle cx="457.6" cy="458.3" r="1.9" fill="url(#gWhite)"/>
<circle cx="461.6" cy="456.3" r="1.9" fill="url(#gWhite)"/>
<circle cx="425.2" cy="421.4" r="2.0" fill="url(#gWhite)"/>
<circle cx="425.2" cy="449.6" r="2.0" fill="url(#gWhite)"/>
<circle cx="438.8" cy="421.4" r="2.0" fill="url(#gWhite)"/>
<circle cx="438.8" cy="449.6" r="2.0" fill="url(#gWhite)"/>
<circle cx="399.3" cy="435.5" r="3.0" fill="url(#gRed)"/>
<circle cx="396.3" cy="429.5" r="1.8" fill="url(#gCyan)"/>
<circle cx="395.3" cy="441.5" r="1.8" fill="url(#gCyan)"/>
<circle cx="464.7" cy="435.5" r="3.0" fill="url(#gRed)"/>
<circle cx="467.7" cy="429.5" r="1.8" fill="url(#gCyan)"/>
<circle cx="468.7" cy="441.5" r="1.8" fill="url(#gCyan)"/>
<g filter="url(#fGlowB)">
<line x1="427.7" y1="513.8" x2="422.6" y2="522.6" stroke="#3030e0" stroke-width="2.2"/>
<line x1="422.6" y1="522.6" x2="412.4" y2="522.6" stroke="#3030e0" stroke-width="2.2"/>
<line x1="412.4" y1="522.6" x2="407.3" y2="513.8" stroke="#3030e0" stroke-width="2.2"/>
<line x1="407.3" y1="513.8" x2="412.4" y2="505.0" stroke="#3030e0" stroke-width="2.2"/>
<line x1="412.4" y1="505.0" x2="422.6" y2="505.0" stroke="#3030e0" stroke-width="2.2"/>
<line x1="422.6" y1="505.0" x2="427.7" y2="513.8" stroke="#3030e0" stroke-width="2.2"/>
<line x1="456.7" y1="513.8" x2="451.6" y2="522.6" stroke="#3030e0" stroke-width="2.2"/>
<line x1="451.6" y1="522.6" x2="441.4" y2="522.6" stroke="#3030e0" stroke-width="2.2"/>
<line x1="441.4" y1="522.6" x2="436.3" y2="513.8" stroke="#3030e0" stroke-width="2.2"/>
<line x1="436.3" y1="513.8" x2="441.4" y2="505.0" stroke="#3030e0" stroke-width="2.2"/>
<line x1="441.4" y1="505.0" x2="451.6" y2="505.0" stroke="#3030e0" stroke-width="2.2"/>
<line x1="451.6" y1="505.0" x2="456.7" y2="513.8" stroke="#3030e0" stroke-width="2.2"/>
<line x1="427.7" y1="513.8" x2="436.3" y2="513.8" stroke="#3030e0" stroke-width="2.2"/>
<line x1="407.3" y1="513.8" x2="399.3" y2="513.8" stroke="#3030e0" stroke-width="2.2"/>
<line x1="456.7" y1="513.8" x2="464.7" y2="513.8" stroke="#3030e0" stroke-width="2.2"/>
<line x1="412.4" y1="505.0" x2="406.4" y2="496.0" stroke="#3030e0" stroke-width="2.2"/>
<line x1="412.4" y1="522.6" x2="406.4" y2="531.6" stroke="#3030e0" stroke-width="2.2"/>
<line x1="451.6" y1="505.0" x2="457.6" y2="496.0" stroke="#3030e0" stroke-width="2.2"/>
<line x1="451.6" y1="522.6" x2="457.6" y2="531.6" stroke="#3030e0" stroke-width="2.2"/>
<circle cx="427.7" cy="513.8" r="3.0" fill="url(#gBlueAt)"/>
<circle cx="422.6" cy="522.6" r="3.0" fill="url(#gBlueAt)"/>
<circle cx="412.4" cy="522.6" r="3.0" fill="url(#gBlueAt)"/>
<circle cx="407.3" cy="513.8" r="3.0" fill="url(#gBlueAt)"/>
<circle cx="412.4" cy="505.0" r="3.0" fill="url(#gBlueAt)"/>
<circle cx="422.6" cy="505.0" r="3.0" fill="url(#gBlueAt)"/>
<circle cx="456.7" cy="513.8" r="3.0" fill="url(#gBlueAt)"/>
<circle cx="451.6" cy="522.6" r="3.0" fill="url(#gBlueAt)"/>
<circle cx="441.4" cy="522.6" r="3.0" fill="url(#gBlueAt)"/>
<circle cx="436.3" cy="513.8" r="3.0" fill="url(#gBlueAt)"/>
<circle cx="441.4" cy="505.0" r="3.0" fill="url(#gBlueAt)"/>
<circle cx="451.6" cy="505.0" r="3.0" fill="url(#gBlueAt)"/>
<circle cx="406.4" cy="496.0" r="3.0" fill="url(#gBlueAt)"/>
<circle cx="406.4" cy="531.6" r="3.0" fill="url(#gBlueAt)"/>
<circle cx="457.6" cy="496.0" r="3.0" fill="url(#gBlueAt)"/>
<circle cx="457.6" cy="531.6" r="3.0" fill="url(#gBlueAt)"/>
<circle cx="401.4" cy="496.0" r="1.9" fill="url(#gWhite)"/>
<circle cx="406.4" cy="491.0" r="1.9" fill="url(#gWhite)"/>
<circle cx="402.4" cy="493.0" r="1.9" fill="url(#gWhite)"/>
<circle cx="401.4" cy="531.6" r="1.9" fill="url(#gWhite)"/>
<circle cx="406.4" cy="536.6" r="1.9" fill="url(#gWhite)"/>
<circle cx="402.4" cy="534.6" r="1.9" fill="url(#gWhite)"/>
<circle cx="462.6" cy="496.0" r="1.9" fill="url(#gWhite)"/>
<circle cx="457.6" cy="491.0" r="1.9" fill="url(#gWhite)"/>
<circle cx="461.6" cy="493.0" r="1.9" fill="url(#gWhite)"/>
<circle cx="462.6" cy="531.6" r="1.9" fill="url(#gWhite)"/>
<circle cx="457.6" cy="536.6" r="1.9" fill="url(#gWhite)"/>
<circle cx="461.6" cy="534.6" r="1.9" fill="url(#gWhite)"/>
<circle cx="425.2" cy="499.7" r="2.0" fill="url(#gWhite)"/>
<circle cx="425.2" cy="527.9" r="2.0" fill="url(#gWhite)"/>
<circle cx="438.8" cy="499.7" r="2.0" fill="url(#gWhite)"/>
<circle cx="438.8" cy="527.9" r="2.0" fill="url(#gWhite)"/>
<circle cx="399.3" cy="513.8" r="3.0" fill="url(#gRed)"/>
<circle cx="396.3" cy="507.8" r="1.8" fill="url(#gCyan)"/>
<circle cx="395.3" cy="519.8" r="1.8" fill="url(#gCyan)"/>
<circle cx="464.7" cy="513.8" r="3.0" fill="url(#gRed)"/>
<circle cx="467.7" cy="507.8" r="1.8" fill="url(#gCyan)"/>
<circle cx="468.7" cy="519.8" r="1.8" fill="url(#gCyan)"/>
</g>
<path d="M428.7,465 L436.9,465 L436.9,477 L440,477 L432.8,485.7 L425.6,477 L428.7,477 Z" fill="url(#gDown)"/>
<text x="489.2" y="443.4" font-family="Liberation Serif" font-weight="bold" font-size="14.1" fill="#111" text-anchor="start" >TMB</text>
<text x="484.5" y="523.4" font-family="Liberation Serif" font-weight="bold" font-size="14" fill="#1e6cc0" text-anchor="start" >ox-TMB</text>
<rect x="552" y="473.5" width="62.6" height="3.8" fill="#e8202a"/>
<rect x="552" y="520.8" width="62.6" height="3.8" fill="#e8202a"/>
<rect x="623" y="499.8" width="39.2" height="3.8" fill="#e8202a"/>
<line x1="563.2" y1="519.5" x2="563.2" y2="482" stroke="#f2b828" stroke-width="1.5"/>
<path d="M561.2,482.5 L563.2,478.5 L565.2,482.5 Z" fill="#f2b828"/>
<line x1="576.6" y1="519.5" x2="576.6" y2="482" stroke="#f2b828" stroke-width="1.5"/>
<path d="M574.6,482.5 L576.6,478.5 L578.6,482.5 Z" fill="#f2b828"/>
<line x1="590" y1="519.5" x2="590" y2="482" stroke="#f2b828" stroke-width="1.5"/>
<path d="M588,482.5 L590,478.5 L592,482.5 Z" fill="#f2b828"/>
<line x1="603.6" y1="519.5" x2="603.6" y2="482" stroke="#f2b828" stroke-width="1.5"/>
<path d="M601.6,482.5 L603.6,478.5 L605.6,482.5 Z" fill="#f2b828"/>
<text x="560.6" y="469.2" font-family="Liberation Serif" font-weight="bold" font-size="8.6" fill="#2a7ac8" text-anchor="middle" >e<tspan font-size="5.5" dy="-3.2">-</tspan></text>
<text x="560.6" y="537.6" font-family="Liberation Serif" font-weight="bold" font-size="8.6" fill="#2a7ac8" text-anchor="middle" >h<tspan font-size="5.5" dy="-3.2">+</tspan></text>
<text x="574" y="469.2" font-family="Liberation Serif" font-weight="bold" font-size="8.6" fill="#2a7ac8" text-anchor="middle" >e<tspan font-size="5.5" dy="-3.2">-</tspan></text>
<text x="574" y="537.6" font-family="Liberation Serif" font-weight="bold" font-size="8.6" fill="#2a7ac8" text-anchor="middle" >h<tspan font-size="5.5" dy="-3.2">+</tspan></text>
<text x="588.1" y="469.2" font-family="Liberation Serif" font-weight="bold" font-size="8.6" fill="#2a7ac8" text-anchor="middle" >e<tspan font-size="5.5" dy="-3.2">-</tspan></text>
<text x="588.1" y="537.6" font-family="Liberation Serif" font-weight="bold" font-size="8.6" fill="#2a7ac8" text-anchor="middle" >h<tspan font-size="5.5" dy="-3.2">+</tspan></text>
<text x="601.8" y="469.2" font-family="Liberation Serif" font-weight="bold" font-size="8.6" fill="#2a7ac8" text-anchor="middle" >e<tspan font-size="5.5" dy="-3.2">-</tspan></text>
<text x="601.8" y="537.6" font-family="Liberation Serif" font-weight="bold" font-size="8.6" fill="#2a7ac8" text-anchor="middle" >h<tspan font-size="5.5" dy="-3.2">+</tspan></text>
<text x="628" y="496.6" font-family="Liberation Serif" font-weight="bold" font-size="8.6" fill="#2a7ac8" text-anchor="middle" >e<tspan font-size="5.5" dy="-3.2">-</tspan></text>
<text x="642.1" y="496.6" font-family="Liberation Serif" font-weight="bold" font-size="8.6" fill="#2a7ac8" text-anchor="middle" >e<tspan font-size="5.5" dy="-3.2">-</tspan></text>
<text x="656.3" y="496.6" font-family="Liberation Serif" font-weight="bold" font-size="8.6" fill="#2a7ac8" text-anchor="middle" >e<tspan font-size="5.5" dy="-3.2">-</tspan></text>
<text x="557.8" y="455.7" font-family="Liberation Serif" font-weight="bold" font-size="8.7" fill="#111" text-anchor="start" >H<tspan font-size="5.6" dy="2">2</tspan><tspan dy="-2">O</tspan><tspan font-size="5.6" dy="2">2</tspan></text>
<text x="590.5" y="455.7" font-family="Liberation Serif" font-weight="bold" font-size="8.7" fill="#111" text-anchor="start" >O<tspan font-size="5.6" dy="2">2</tspan></text>
<text x="619.5" y="441.5" font-family="Liberation Serif" font-weight="bold" font-size="8.7" fill="#111" text-anchor="start" >O<tspan font-size="5.6" dy="2">2</tspan><tspan font-size="5.6" dy="-5.5">•-</tspan></text>
<text x="639.5" y="467.5" font-family="Liberation Serif" font-weight="bold" font-size="9.5" fill="#7a3a9a" text-anchor="start" >ISC</text>
<text x="522.5" y="479.5" font-family="Liberation Serif" font-weight="bold" font-size="8.7" fill="#111" text-anchor="start" ><tspan font-size="6" dy="-3">•</tspan><tspan dy="3">OH</tspan></text>
<text x="674" y="484.2" font-family="Liberation Serif" font-weight="bold" font-size="8.7" fill="#111" text-anchor="start" ><tspan font-size="5.6" dy="-3.2">1</tspan><tspan dy="3.2">O</tspan><tspan font-size="5.6" dy="2">2</tspan></text>
<text x="677" y="528.6" font-family="Liberation Serif" font-weight="bold" font-size="8.7" fill="#111" text-anchor="start" >O<tspan font-size="5.6" dy="2">2</tspan></text>
<path d="M557,454.5 Q540,454 535.5,463.3" fill="none" stroke="#c4262c" stroke-width="3.8"/>
<path d="M530.1,460.7 L532,470.5 L540.9,465.9 Z" fill="#c4262c"/>
<path d="M604.5,455.5 Q615,455 619.0,449.4" fill="none" stroke="#c4262c" stroke-width="3"/>
<path d="M622.5,451.9 L622.5,444.5 L615.6,446.9 Z" fill="#c4262c"/>
<path d="M617.5,468.5 Q636,470 638.8,479.8" fill="none" stroke="#c4262c" stroke-width="4"/>
<path d="M633.0,481.5 L641,487.5 L644.6,478.2 Z" fill="#c4262c"/>
<path d="M642,507 Q641,525 630.0,528.8" fill="none" stroke="#c4262c" stroke-width="4"/>
<path d="M628.1,523.2 L622.5,531.5 L632.0,534.5 Z" fill="#c4262c"/>
<path d="M681,517 Q664,502 671.2,490.7" fill="none" stroke="#c4262c" stroke-width="4"/>
<path d="M676.2,494.0 L675.5,484 L666.1,487.5 Z" fill="#c4262c"/>
<radialGradient id="gIris" cx="0.45" cy="0.35" r="0.65"><stop offset="0" stop-color="#202020"/><stop offset="0.45" stop-color="#3a3a3a"/><stop offset="0.8" stop-color="#8a8a8a"/><stop offset="1" stop-color="#a8a8a8"/></radialGradient>
<path d="M593,360.5 C600,354 612,347.5 624,345 C634,343 646,343.5 655,347.3 C646,346.5 636,346.5 626,348 C614,350 602,355 593,360.5 Z" fill="#8a8a8a" opacity="0.9"/>
<line x1="593.0" y1="362.0" x2="595.5" y2="358.7" stroke="#777" stroke-width="0.6"/>
<line x1="595.9" y1="360.5" x2="598.4" y2="357.2" stroke="#777" stroke-width="0.6"/>
<line x1="598.7" y1="359.1" x2="601.2" y2="355.8" stroke="#777" stroke-width="0.6"/>
<line x1="601.6" y1="357.6" x2="604.1" y2="354.3" stroke="#777" stroke-width="0.6"/>
<line x1="604.4" y1="356.2" x2="606.9" y2="352.9" stroke="#777" stroke-width="0.6"/>
<line x1="607.3" y1="354.9" x2="609.8" y2="351.6" stroke="#777" stroke-width="0.6"/>
<line x1="610.1" y1="353.7" x2="612.6" y2="350.4" stroke="#777" stroke-width="0.6"/>
<line x1="613.0" y1="352.5" x2="615.5" y2="349.2" stroke="#777" stroke-width="0.6"/>
<line x1="615.9" y1="351.5" x2="618.4" y2="348.2" stroke="#777" stroke-width="0.6"/>
<line x1="618.7" y1="350.5" x2="621.2" y2="347.2" stroke="#777" stroke-width="0.6"/>
<line x1="621.6" y1="349.7" x2="624.1" y2="346.4" stroke="#777" stroke-width="0.6"/>
<line x1="624.4" y1="349.1" x2="626.9" y2="345.8" stroke="#777" stroke-width="0.6"/>
<line x1="627.3" y1="348.6" x2="629.8" y2="345.3" stroke="#777" stroke-width="0.6"/>
<line x1="630.1" y1="348.2" x2="632.6" y2="344.9" stroke="#777" stroke-width="0.6"/>
<line x1="633.0" y1="348.1" x2="635.5" y2="344.8" stroke="#777" stroke-width="0.6"/>
<line x1="635.9" y1="348.1" x2="638.4" y2="344.8" stroke="#777" stroke-width="0.6"/>
<line x1="638.7" y1="348.3" x2="641.2" y2="345.0" stroke="#777" stroke-width="0.6"/>
<line x1="641.6" y1="348.7" x2="644.1" y2="345.4" stroke="#777" stroke-width="0.6"/>
<line x1="644.4" y1="349.2" x2="646.9" y2="345.9" stroke="#777" stroke-width="0.6"/>
<line x1="647.3" y1="350.0" x2="649.8" y2="346.7" stroke="#777" stroke-width="0.6"/>
<line x1="650.1" y1="351.0" x2="652.6" y2="347.7" stroke="#777" stroke-width="0.6"/>
<line x1="653.0" y1="352.1" x2="655.5" y2="348.8" stroke="#777" stroke-width="0.6"/>
<g fill="none" stroke-linecap="round">
<path d="M607,371 C609,365 615,363.5 622,363.6 C628,363.7 633,364.3 636.5,365.3" stroke="#8a8a8a" stroke-width="0.8"/>
</g>
<clipPath id="cEye"><path d="M605,378 C614,372.5 635,371 649,375 C645,383 635,392.5 625,393.3 C616,393.8 609,392 607,390 Z"/></clipPath>
<path d="M605,378 C614,372.5 635,371 649,375 C645,383 635,392.5 625,393.3 C616,393.8 609,392 607,390 Z" fill="#f2f2f2"/>
<g clip-path="url(#cEye)"><circle cx="623.2" cy="383.4" r="8.8" fill="url(#gIris)"/><circle cx="620.5" cy="380.5" r="3.4" fill="#151515"/><path d="M626,379 L630,381 L628,386 Z" fill="#b8b8b8" opacity="0.8"/></g>
<g fill="none" stroke-linecap="round">
<path d="M600.5,379.5 C604,376 610,372.8 620,371.2 C632,369.8 645,371.5 656.5,374.3 C645,373.8 632,373.5 622,374.2 C612,375 606,377.5 600.5,379.5 Z" fill="#2a2a2a" stroke="#2a2a2a" stroke-width="1.2"/>
<line x1="603.0" y1="378.0" x2="604.5" y2="374.8" stroke="#3a3a3a" stroke-width="0.7"/>
<line x1="605.1" y1="377.5" x2="606.7" y2="374.3" stroke="#3a3a3a" stroke-width="0.7"/>
<line x1="607.2" y1="377.0" x2="608.8" y2="373.8" stroke="#3a3a3a" stroke-width="0.7"/>
<line x1="609.2" y1="376.5" x2="611.0" y2="373.3" stroke="#3a3a3a" stroke-width="0.7"/>
<line x1="611.3" y1="376.0" x2="613.1" y2="372.8" stroke="#3a3a3a" stroke-width="0.7"/>
<line x1="613.4" y1="375.5" x2="615.3" y2="372.3" stroke="#3a3a3a" stroke-width="0.7"/>
<line x1="615.5" y1="375.1" x2="617.5" y2="371.9" stroke="#3a3a3a" stroke-width="0.7"/>
<line x1="617.6" y1="374.7" x2="619.6" y2="371.5" stroke="#3a3a3a" stroke-width="0.7"/>
<line x1="619.6" y1="374.3" x2="621.8" y2="371.1" stroke="#3a3a3a" stroke-width="0.7"/>
<line x1="621.7" y1="374.0" x2="623.9" y2="370.8" stroke="#3a3a3a" stroke-width="0.7"/>
<line x1="623.8" y1="373.7" x2="626.1" y2="370.5" stroke="#3a3a3a" stroke-width="0.7"/>
<line x1="625.9" y1="373.5" x2="628.3" y2="370.3" stroke="#3a3a3a" stroke-width="0.7"/>
<line x1="628.0" y1="373.4" x2="630.4" y2="370.2" stroke="#3a3a3a" stroke-width="0.7"/>
<line x1="630.0" y1="373.2" x2="632.6" y2="370.0" stroke="#3a3a3a" stroke-width="0.7"/>
<line x1="632.1" y1="373.2" x2="634.7" y2="370.0" stroke="#3a3a3a" stroke-width="0.7"/>
<line x1="634.2" y1="373.2" x2="636.9" y2="370.0" stroke="#3a3a3a" stroke-width="0.7"/>
<line x1="636.3" y1="373.3" x2="639.1" y2="370.1" stroke="#3a3a3a" stroke-width="0.7"/>
<line x1="638.4" y1="373.4" x2="641.2" y2="370.2" stroke="#3a3a3a" stroke-width="0.7"/>
<line x1="640.4" y1="373.6" x2="643.4" y2="370.4" stroke="#3a3a3a" stroke-width="0.7"/>
<line x1="642.5" y1="373.9" x2="645.5" y2="370.7" stroke="#3a3a3a" stroke-width="0.7"/>
<line x1="644.6" y1="374.2" x2="647.7" y2="371.0" stroke="#3a3a3a" stroke-width="0.7"/>
<line x1="646.7" y1="374.5" x2="649.9" y2="371.3" stroke="#3a3a3a" stroke-width="0.7"/>
<line x1="648.8" y1="375.0" x2="652.0" y2="371.8" stroke="#3a3a3a" stroke-width="0.7"/>
<line x1="650.8" y1="375.4" x2="654.2" y2="372.2" stroke="#3a3a3a" stroke-width="0.7"/>
<line x1="652.9" y1="375.9" x2="656.3" y2="372.7" stroke="#3a3a3a" stroke-width="0.7"/>
<line x1="655.0" y1="376.5" x2="658.5" y2="373.3" stroke="#3a3a3a" stroke-width="0.7"/>
<line x1="604" y1="377" x2="597" y2="375.5" stroke="#444" stroke-width="0.8"/>
<line x1="603" y1="379" x2="596" y2="379" stroke="#444" stroke-width="0.8"/>
<line x1="604" y1="381" x2="598" y2="383" stroke="#444" stroke-width="0.8"/>
<line x1="606" y1="383" x2="601" y2="386" stroke="#444" stroke-width="0.8"/>
<line x1="650" y1="374.5" x2="657" y2="373" stroke="#444" stroke-width="0.8"/>
<line x1="652" y1="375.5" x2="658" y2="376" stroke="#444" stroke-width="0.8"/>
<path d="M607.5,390.5 C614,393 620,393.5 626,393 C634,392 641,387 646,382" stroke="#999" stroke-width="0.8"/>
<path d="M606.5,384 C606,388 606.5,391 608,393" stroke="#555" stroke-width="1.2"/>
<line x1="613" y1="393.5" x2="611" y2="398" stroke="#777" stroke-width="0.6"/>
<line x1="617" y1="394" x2="616" y2="400" stroke="#777" stroke-width="0.6"/>
<line x1="621" y1="394.2" x2="620.5" y2="401" stroke="#777" stroke-width="0.6"/>
<line x1="625" y1="394" x2="626" y2="401" stroke="#777" stroke-width="0.6"/>
<line x1="629" y1="393.5" x2="631" y2="400" stroke="#777" stroke-width="0.6"/>
<line x1="634" y1="392" x2="637" y2="398" stroke="#777" stroke-width="0.6"/>
<line x1="639" y1="390" x2="643" y2="395" stroke="#777" stroke-width="0.6"/>
<line x1="644" y1="386.5" x2="649" y2="389" stroke="#777" stroke-width="0.6"/>
<path d="M559,372.8 C563,371 569,370 573,370.3" stroke="#8a8a8a" stroke-width="1.6"/>
<path d="M557,385 C563,383 570,384.5 576,388" stroke="#444" stroke-width="1.5"/>
<path d="M576,390 C577.5,398 579,408 580,417" stroke="#999" stroke-width="0.7"/>
<path d="M566,402 C569,400.5 572,400.5 575,401.5" stroke="#aaa" stroke-width="0.7"/>
<line x1="559" y1="385" x2="555" y2="384" stroke="#555" stroke-width="0.6"/>
<line x1="560" y1="386" x2="556" y2="387.5" stroke="#555" stroke-width="0.6"/>
<line x1="561" y1="387" x2="558" y2="390" stroke="#555" stroke-width="0.6"/>
</g>
<circle cx="571.3" cy="392.5" r="5.4" fill="url(#gIris)"/>
<circle cx="570.5" cy="391.5" r="2" fill="#1a1a1a"/>
<text x="65" y="598.4" font-family="Liberation Serif" font-weight="bold" font-size="22.4" fill="#000" text-anchor="start" textLength="123.5" lengthAdjust="spacingAndGlyphs">Fluorescence</text>
<text x="450" y="597.9" font-family="Liberation Serif" font-weight="bold" font-size="22.3" fill="#000" text-anchor="start" textLength="122" lengthAdjust="spacingAndGlyphs">Colorimetric</text>
</svg>
</body></html>
